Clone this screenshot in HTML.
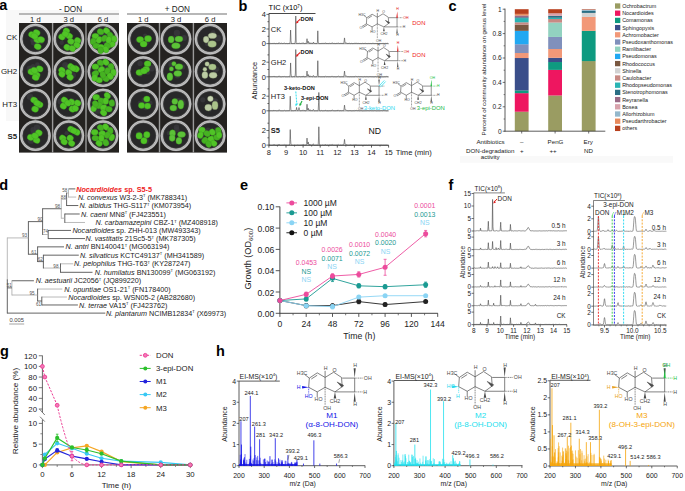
<!DOCTYPE html>
<html><head><meta charset="utf-8"><style>
html,body{margin:0;padding:0;background:#fff;width:685px;height:491px;overflow:hidden}
svg{display:block;font-family:"Liberation Sans", sans-serif}
</style></head><body>
<svg width="685" height="491" viewBox="0 0 685 491">
<rect x="6" y="10" width="113" height="111" fill="#f8f8f8"/>
<text x="-0.8" y="9.7" font-size="14.5" font-weight="bold" fill="#000">a</text>
<rect x="19" y="13.1" width="100" height="1.8" fill="#b0b0b0"/>
<rect x="127" y="13.1" width="100" height="1.8" fill="#b0b0b0"/>
<text x="70.50" y="11.65" font-size="8.2" text-anchor="middle" fill="#222">- DON</text>
<text x="177.30" y="11.65" font-size="8.2" text-anchor="middle" fill="#222">+ DON</text>
<text x="17.20" y="40.34" font-size="7.9" text-anchor="end" fill="#222">CK</text>
<text x="17.20" y="73.84" font-size="7.9" text-anchor="end" fill="#222">GH2</text>
<text x="17.20" y="107.04" font-size="7.9" text-anchor="end" fill="#222">HT3</text>
<text x="17.20" y="138.74" font-size="7.9" text-anchor="end" fill="#222" font-weight="bold">S5</text>
<text x="35.40" y="22.14" font-size="7.6" text-anchor="middle" fill="#222">1 d</text>
<text x="68.80" y="22.14" font-size="7.6" text-anchor="middle" fill="#222">3 d</text>
<text x="103.00" y="22.14" font-size="7.6" text-anchor="middle" fill="#222">6 d</text>
<rect x="19" y="23" width="100" height="129.6" fill="#242220"/>
<rect x="51.9" y="23" width="1.4" height="129.6" fill="#9a9a9a"/>
<rect x="85.3" y="23" width="1.4" height="129.6" fill="#9a9a9a"/>
<circle cx="35.4" cy="39.1" r="15.6" fill="#5a5a5a"/>
<circle cx="35.4" cy="39.1" r="13.95" fill="none" stroke="#a8a8a8" stroke-width="2.7"/>
<circle cx="35.4" cy="39.1" r="14.8" fill="none" stroke="#d0d0d0" stroke-width="0.7"/>
<circle cx="35.4" cy="39.1" r="13.4" fill="none" stroke="#cacaca" stroke-width="0.6"/>
<circle cx="35.4" cy="39.1" r="12.6" fill="#282829" stroke="#444" stroke-width="0.5"/>
<circle cx="33.7" cy="42.6" r="3.0" fill="#3a3a3e" opacity="0.7"/>
<circle cx="41.0" cy="41.8" r="2.5" fill="#3a3a3e" opacity="0.7"/>
<circle cx="41.0" cy="41.3" r="2.1" fill="#3a3a3e" opacity="0.7"/>
<circle cx="32.3" cy="40.5" r="2.1" fill="#3a3a3e" opacity="0.7"/>
<ellipse cx="32.1" cy="34.7" rx="3.6" ry="3.0" transform="rotate(20 32.1 34.7)" fill="#50c426" stroke="#3a9a1e" stroke-width="0.35"/>
<ellipse cx="36.6" cy="32.7" rx="3.6" ry="3.0" transform="rotate(20 36.6 32.7)" fill="#50c426" stroke="#3a9a1e" stroke-width="0.35"/>
<ellipse cx="37.4" cy="39.9" rx="3.6" ry="3.0" transform="rotate(20 37.4 39.9)" fill="#50c426" stroke="#3a9a1e" stroke-width="0.35"/>
<ellipse cx="41.1" cy="39.6" rx="3.6" ry="3.0" transform="rotate(20 41.1 39.6)" fill="#50c426" stroke="#3a9a1e" stroke-width="0.35"/>
<ellipse cx="37.7" cy="46.6" rx="3.6" ry="3.0" transform="rotate(20 37.7 46.6)" fill="#50c426" stroke="#3a9a1e" stroke-width="0.35"/>
<ellipse cx="34.4" cy="36.1" rx="3.6" ry="3.0" transform="rotate(20 34.4 36.1)" fill="#50c426" stroke="#3a9a1e" stroke-width="0.35"/>
<circle cx="68.8" cy="39.1" r="15.6" fill="#5a5a5a"/>
<circle cx="68.8" cy="39.1" r="13.95" fill="none" stroke="#a8a8a8" stroke-width="2.7"/>
<circle cx="68.8" cy="39.1" r="14.8" fill="none" stroke="#d0d0d0" stroke-width="0.7"/>
<circle cx="68.8" cy="39.1" r="13.4" fill="none" stroke="#cacaca" stroke-width="0.6"/>
<circle cx="68.8" cy="39.1" r="12.6" fill="#282829" stroke="#444" stroke-width="0.5"/>
<circle cx="61.7" cy="42.7" r="2.2" fill="#3a3a3e" opacity="0.7"/>
<circle cx="69.9" cy="45.8" r="3.4" fill="#3a3a3e" opacity="0.7"/>
<circle cx="64.0" cy="36.6" r="3.5" fill="#3a3a3e" opacity="0.7"/>
<circle cx="76.6" cy="41.5" r="2.4" fill="#3a3a3e" opacity="0.7"/>
<ellipse cx="66.4" cy="30.9" rx="3.4" ry="3.0" transform="rotate(30 66.4 30.9)" fill="#50c426" stroke="#3a9a1e" stroke-width="0.35"/>
<ellipse cx="61.9" cy="36.9" rx="3.4" ry="3.0" transform="rotate(30 61.9 36.9)" fill="#50c426" stroke="#3a9a1e" stroke-width="0.35"/>
<ellipse cx="69.4" cy="36.1" rx="3.4" ry="3.0" transform="rotate(30 69.4 36.1)" fill="#50c426" stroke="#3a9a1e" stroke-width="0.35"/>
<ellipse cx="70.9" cy="41.4" rx="3.4" ry="3.0" transform="rotate(30 70.9 41.4)" fill="#50c426" stroke="#3a9a1e" stroke-width="0.35"/>
<ellipse cx="77.6" cy="40.6" rx="3.4" ry="3.0" transform="rotate(30 77.6 40.6)" fill="#50c426" stroke="#3a9a1e" stroke-width="0.35"/>
<ellipse cx="76.8" cy="45.1" rx="3.4" ry="3.0" transform="rotate(30 76.8 45.1)" fill="#50c426" stroke="#3a9a1e" stroke-width="0.35"/>
<ellipse cx="67.1" cy="47.3" rx="3.4" ry="3.0" transform="rotate(30 67.1 47.3)" fill="#50c426" stroke="#3a9a1e" stroke-width="0.35"/>
<ellipse cx="72.3" cy="48.5" rx="3.4" ry="3.0" transform="rotate(30 72.3 48.5)" fill="#50c426" stroke="#3a9a1e" stroke-width="0.35"/>
<ellipse cx="65.3" cy="33.9" rx="3.4" ry="3.0" transform="rotate(30 65.3 33.9)" fill="#50c426" stroke="#3a9a1e" stroke-width="0.35"/>
<circle cx="103.0" cy="39.1" r="15.6" fill="#5a5a5a"/>
<circle cx="103.0" cy="39.1" r="13.95" fill="none" stroke="#a8a8a8" stroke-width="2.7"/>
<circle cx="103.0" cy="39.1" r="14.8" fill="none" stroke="#d0d0d0" stroke-width="0.7"/>
<circle cx="103.0" cy="39.1" r="13.4" fill="none" stroke="#cacaca" stroke-width="0.6"/>
<circle cx="103.0" cy="39.1" r="12.6" fill="#282829" stroke="#444" stroke-width="0.5"/>
<circle cx="105.3" cy="42.0" r="2.5" fill="#3a3a3e" opacity="0.7"/>
<circle cx="104.6" cy="35.4" r="2.9" fill="#3a3a3e" opacity="0.7"/>
<circle cx="99.6" cy="35.1" r="2.8" fill="#3a3a3e" opacity="0.7"/>
<circle cx="106.1" cy="40.4" r="2.3" fill="#3a3a3e" opacity="0.7"/>
<ellipse cx="95.4" cy="36.1" rx="3.5" ry="2.9" transform="rotate(0 95.4 36.1)" fill="#50c426" stroke="#3a9a1e" stroke-width="0.35"/>
<ellipse cx="100.6" cy="31.7" rx="3.5" ry="2.9" transform="rotate(20 100.6 31.7)" fill="#46b222" stroke="#3a9a1e" stroke-width="0.35"/>
<ellipse cx="106.6" cy="30.9" rx="3.5" ry="2.9" transform="rotate(40 106.6 30.9)" fill="#50c426" stroke="#3a9a1e" stroke-width="0.35"/>
<ellipse cx="110.3" cy="35.4" rx="3.5" ry="2.9" transform="rotate(60 110.3 35.4)" fill="#46b222" stroke="#3a9a1e" stroke-width="0.35"/>
<ellipse cx="114.0" cy="39.1" rx="3.5" ry="2.9" transform="rotate(80 114.0 39.1)" fill="#50c426" stroke="#3a9a1e" stroke-width="0.35"/>
<ellipse cx="93.2" cy="41.4" rx="3.5" ry="2.9" transform="rotate(100 93.2 41.4)" fill="#46b222" stroke="#3a9a1e" stroke-width="0.35"/>
<ellipse cx="99.1" cy="39.9" rx="3.5" ry="2.9" transform="rotate(120 99.1 39.9)" fill="#50c426" stroke="#3a9a1e" stroke-width="0.35"/>
<ellipse cx="104.4" cy="38.4" rx="3.5" ry="2.9" transform="rotate(140 104.4 38.4)" fill="#46b222" stroke="#3a9a1e" stroke-width="0.35"/>
<ellipse cx="111.8" cy="44.3" rx="3.5" ry="2.9" transform="rotate(160 111.8 44.3)" fill="#50c426" stroke="#3a9a1e" stroke-width="0.35"/>
<ellipse cx="96.2" cy="45.8" rx="3.5" ry="2.9" transform="rotate(180 96.2 45.8)" fill="#46b222" stroke="#3a9a1e" stroke-width="0.35"/>
<ellipse cx="101.4" cy="47.3" rx="3.5" ry="2.9" transform="rotate(200 101.4 47.3)" fill="#50c426" stroke="#3a9a1e" stroke-width="0.35"/>
<ellipse cx="107.3" cy="45.8" rx="3.5" ry="2.9" transform="rotate(220 107.3 45.8)" fill="#46b222" stroke="#3a9a1e" stroke-width="0.35"/>
<ellipse cx="105.8" cy="49.5" rx="3.5" ry="2.9" transform="rotate(240 105.8 49.5)" fill="#50c426" stroke="#3a9a1e" stroke-width="0.35"/>
<ellipse cx="100.6" cy="50.3" rx="3.5" ry="2.9" transform="rotate(260 100.6 50.3)" fill="#46b222" stroke="#3a9a1e" stroke-width="0.35"/>
<ellipse cx="108.8" cy="39.9" rx="3.5" ry="2.9" transform="rotate(280 108.8 39.9)" fill="#50c426" stroke="#3a9a1e" stroke-width="0.35"/>
<circle cx="35.4" cy="71.6" r="15.6" fill="#5a5a5a"/>
<circle cx="35.4" cy="71.6" r="13.95" fill="none" stroke="#a8a8a8" stroke-width="2.7"/>
<circle cx="35.4" cy="71.6" r="14.8" fill="none" stroke="#d0d0d0" stroke-width="0.7"/>
<circle cx="35.4" cy="71.6" r="13.4" fill="none" stroke="#cacaca" stroke-width="0.6"/>
<circle cx="35.4" cy="71.6" r="12.6" fill="#282829" stroke="#444" stroke-width="0.5"/>
<circle cx="33.0" cy="66.6" r="2.5" fill="#3a3a3e" opacity="0.7"/>
<circle cx="30.5" cy="68.7" r="2.4" fill="#3a3a3e" opacity="0.7"/>
<circle cx="37.4" cy="64.7" r="2.4" fill="#3a3a3e" opacity="0.7"/>
<circle cx="29.9" cy="68.8" r="3.3" fill="#3a3a3e" opacity="0.7"/>
<ellipse cx="31.4" cy="71.9" rx="3.6" ry="3.0" transform="rotate(20 31.4 71.9)" fill="#50c426" stroke="#3a9a1e" stroke-width="0.35"/>
<ellipse cx="39.6" cy="68.9" rx="3.6" ry="3.0" transform="rotate(20 39.6 68.9)" fill="#50c426" stroke="#3a9a1e" stroke-width="0.35"/>
<ellipse cx="36.6" cy="74.9" rx="3.6" ry="3.0" transform="rotate(20 36.6 74.9)" fill="#50c426" stroke="#3a9a1e" stroke-width="0.35"/>
<ellipse cx="35.6" cy="77.4" rx="3.6" ry="3.0" transform="rotate(20 35.6 77.4)" fill="#50c426" stroke="#3a9a1e" stroke-width="0.35"/>
<ellipse cx="34.4" cy="70.4" rx="3.6" ry="3.0" transform="rotate(20 34.4 70.4)" fill="#50c426" stroke="#3a9a1e" stroke-width="0.35"/>
<circle cx="68.8" cy="71.6" r="15.6" fill="#5a5a5a"/>
<circle cx="68.8" cy="71.6" r="13.95" fill="none" stroke="#a8a8a8" stroke-width="2.7"/>
<circle cx="68.8" cy="71.6" r="14.8" fill="none" stroke="#d0d0d0" stroke-width="0.7"/>
<circle cx="68.8" cy="71.6" r="13.4" fill="none" stroke="#cacaca" stroke-width="0.6"/>
<circle cx="68.8" cy="71.6" r="12.6" fill="#282829" stroke="#444" stroke-width="0.5"/>
<circle cx="68.2" cy="66.9" r="3.5" fill="#3a3a3e" opacity="0.7"/>
<circle cx="72.9" cy="75.3" r="3.1" fill="#3a3a3e" opacity="0.7"/>
<circle cx="72.2" cy="76.4" r="2.1" fill="#3a3a3e" opacity="0.7"/>
<circle cx="65.1" cy="65.0" r="2.9" fill="#3a3a3e" opacity="0.7"/>
<ellipse cx="61.9" cy="70.4" rx="3.4" ry="3.0" transform="rotate(40 61.9 70.4)" fill="#50c426" stroke="#3a9a1e" stroke-width="0.35"/>
<ellipse cx="61.9" cy="74.1" rx="3.4" ry="3.0" transform="rotate(40 61.9 74.1)" fill="#50c426" stroke="#3a9a1e" stroke-width="0.35"/>
<ellipse cx="70.9" cy="66.7" rx="3.4" ry="3.0" transform="rotate(40 70.9 66.7)" fill="#50c426" stroke="#3a9a1e" stroke-width="0.35"/>
<ellipse cx="76.1" cy="68.9" rx="3.4" ry="3.0" transform="rotate(40 76.1 68.9)" fill="#50c426" stroke="#3a9a1e" stroke-width="0.35"/>
<ellipse cx="68.6" cy="72.6" rx="3.4" ry="3.0" transform="rotate(40 68.6 72.6)" fill="#50c426" stroke="#3a9a1e" stroke-width="0.35"/>
<ellipse cx="70.1" cy="77.1" rx="3.4" ry="3.0" transform="rotate(40 70.1 77.1)" fill="#50c426" stroke="#3a9a1e" stroke-width="0.35"/>
<ellipse cx="73.1" cy="68.2" rx="3.4" ry="3.0" transform="rotate(40 73.1 68.2)" fill="#50c426" stroke="#3a9a1e" stroke-width="0.35"/>
<circle cx="103.0" cy="71.6" r="15.6" fill="#5a5a5a"/>
<circle cx="103.0" cy="71.6" r="13.95" fill="none" stroke="#a8a8a8" stroke-width="2.7"/>
<circle cx="103.0" cy="71.6" r="14.8" fill="none" stroke="#d0d0d0" stroke-width="0.7"/>
<circle cx="103.0" cy="71.6" r="13.4" fill="none" stroke="#cacaca" stroke-width="0.6"/>
<circle cx="103.0" cy="71.6" r="12.6" fill="#282829" stroke="#444" stroke-width="0.5"/>
<circle cx="106.5" cy="68.2" r="3.0" fill="#3a3a3e" opacity="0.7"/>
<circle cx="97.6" cy="68.0" r="2.7" fill="#3a3a3e" opacity="0.7"/>
<circle cx="107.6" cy="64.3" r="2.7" fill="#3a3a3e" opacity="0.7"/>
<circle cx="101.3" cy="68.7" r="3.1" fill="#3a3a3e" opacity="0.7"/>
<ellipse cx="95.4" cy="66.7" rx="3.5" ry="2.9" transform="rotate(0 95.4 66.7)" fill="#50c426" stroke="#3a9a1e" stroke-width="0.35"/>
<ellipse cx="100.6" cy="62.9" rx="3.5" ry="2.9" transform="rotate(23 100.6 62.9)" fill="#46b222" stroke="#3a9a1e" stroke-width="0.35"/>
<ellipse cx="105.8" cy="62.2" rx="3.5" ry="2.9" transform="rotate(46 105.8 62.2)" fill="#50c426" stroke="#3a9a1e" stroke-width="0.35"/>
<ellipse cx="111.1" cy="66.7" rx="3.5" ry="2.9" transform="rotate(69 111.1 66.7)" fill="#46b222" stroke="#3a9a1e" stroke-width="0.35"/>
<ellipse cx="113.3" cy="72.6" rx="3.5" ry="2.9" transform="rotate(92 113.3 72.6)" fill="#50c426" stroke="#3a9a1e" stroke-width="0.35"/>
<ellipse cx="107.3" cy="71.1" rx="3.5" ry="2.9" transform="rotate(115 107.3 71.1)" fill="#46b222" stroke="#3a9a1e" stroke-width="0.35"/>
<ellipse cx="101.4" cy="69.6" rx="3.5" ry="2.9" transform="rotate(138 101.4 69.6)" fill="#50c426" stroke="#3a9a1e" stroke-width="0.35"/>
<ellipse cx="95.4" cy="73.4" rx="3.5" ry="2.9" transform="rotate(161 95.4 73.4)" fill="#46b222" stroke="#3a9a1e" stroke-width="0.35"/>
<ellipse cx="99.1" cy="80.1" rx="3.5" ry="2.9" transform="rotate(184 99.1 80.1)" fill="#50c426" stroke="#3a9a1e" stroke-width="0.35"/>
<ellipse cx="105.8" cy="78.6" rx="3.5" ry="2.9" transform="rotate(207 105.8 78.6)" fill="#46b222" stroke="#3a9a1e" stroke-width="0.35"/>
<ellipse cx="110.3" cy="76.3" rx="3.5" ry="2.9" transform="rotate(230 110.3 76.3)" fill="#50c426" stroke="#3a9a1e" stroke-width="0.35"/>
<ellipse cx="102.9" cy="74.9" rx="3.5" ry="2.9" transform="rotate(253 102.9 74.9)" fill="#46b222" stroke="#3a9a1e" stroke-width="0.35"/>
<ellipse cx="94.7" cy="77.8" rx="3.5" ry="2.9" transform="rotate(276 94.7 77.8)" fill="#50c426" stroke="#3a9a1e" stroke-width="0.35"/>
<circle cx="35.4" cy="104.0" r="15.6" fill="#5a5a5a"/>
<circle cx="35.4" cy="104.0" r="13.95" fill="none" stroke="#a8a8a8" stroke-width="2.7"/>
<circle cx="35.4" cy="104.0" r="14.8" fill="none" stroke="#d0d0d0" stroke-width="0.7"/>
<circle cx="35.4" cy="104.0" r="13.4" fill="none" stroke="#cacaca" stroke-width="0.6"/>
<circle cx="35.4" cy="104.0" r="12.6" fill="#282829" stroke="#444" stroke-width="0.5"/>
<circle cx="30.0" cy="96.8" r="3.2" fill="#3a3a3e" opacity="0.7"/>
<circle cx="34.3" cy="109.2" r="3.0" fill="#3a3a3e" opacity="0.7"/>
<circle cx="41.1" cy="104.8" r="2.3" fill="#3a3a3e" opacity="0.7"/>
<circle cx="37.9" cy="106.3" r="3.2" fill="#3a3a3e" opacity="0.7"/>
<ellipse cx="34.1" cy="100.1" rx="3.5" ry="3.0" transform="rotate(20 34.1 100.1)" fill="#50c426" stroke="#3a9a1e" stroke-width="0.35"/>
<ellipse cx="39.6" cy="104.6" rx="3.5" ry="3.0" transform="rotate(20 39.6 104.6)" fill="#50c426" stroke="#3a9a1e" stroke-width="0.35"/>
<ellipse cx="35.1" cy="109.1" rx="3.5" ry="3.0" transform="rotate(20 35.1 109.1)" fill="#50c426" stroke="#3a9a1e" stroke-width="0.35"/>
<ellipse cx="37.1" cy="103.1" rx="3.5" ry="3.0" transform="rotate(20 37.1 103.1)" fill="#50c426" stroke="#3a9a1e" stroke-width="0.35"/>
<circle cx="68.8" cy="104.0" r="15.6" fill="#5a5a5a"/>
<circle cx="68.8" cy="104.0" r="13.95" fill="none" stroke="#a8a8a8" stroke-width="2.7"/>
<circle cx="68.8" cy="104.0" r="14.8" fill="none" stroke="#d0d0d0" stroke-width="0.7"/>
<circle cx="68.8" cy="104.0" r="13.4" fill="none" stroke="#cacaca" stroke-width="0.6"/>
<circle cx="68.8" cy="104.0" r="12.6" fill="#282829" stroke="#444" stroke-width="0.5"/>
<circle cx="71.9" cy="107.3" r="2.6" fill="#3a3a3e" opacity="0.7"/>
<circle cx="71.2" cy="101.5" r="2.7" fill="#3a3a3e" opacity="0.7"/>
<circle cx="60.9" cy="101.5" r="3.2" fill="#3a3a3e" opacity="0.7"/>
<circle cx="71.9" cy="100.5" r="2.6" fill="#3a3a3e" opacity="0.7"/>
<ellipse cx="64.5" cy="100.1" rx="3.4" ry="3.0" transform="rotate(30 64.5 100.1)" fill="#50c426" stroke="#3a9a1e" stroke-width="0.35"/>
<ellipse cx="63.4" cy="106.1" rx="3.4" ry="3.0" transform="rotate(30 63.4 106.1)" fill="#50c426" stroke="#3a9a1e" stroke-width="0.35"/>
<ellipse cx="71.6" cy="102.1" rx="3.4" ry="3.0" transform="rotate(30 71.6 102.1)" fill="#50c426" stroke="#3a9a1e" stroke-width="0.35"/>
<ellipse cx="77.6" cy="103.1" rx="3.4" ry="3.0" transform="rotate(30 77.6 103.1)" fill="#50c426" stroke="#3a9a1e" stroke-width="0.35"/>
<ellipse cx="72.3" cy="109.1" rx="3.4" ry="3.0" transform="rotate(30 72.3 109.1)" fill="#50c426" stroke="#3a9a1e" stroke-width="0.35"/>
<ellipse cx="75.3" cy="108.3" rx="3.4" ry="3.0" transform="rotate(30 75.3 108.3)" fill="#50c426" stroke="#3a9a1e" stroke-width="0.35"/>
<ellipse cx="67.9" cy="103.1" rx="3.4" ry="3.0" transform="rotate(30 67.9 103.1)" fill="#50c426" stroke="#3a9a1e" stroke-width="0.35"/>
<circle cx="103.0" cy="104.0" r="15.6" fill="#5a5a5a"/>
<circle cx="103.0" cy="104.0" r="13.95" fill="none" stroke="#a8a8a8" stroke-width="2.7"/>
<circle cx="103.0" cy="104.0" r="14.8" fill="none" stroke="#d0d0d0" stroke-width="0.7"/>
<circle cx="103.0" cy="104.0" r="13.4" fill="none" stroke="#cacaca" stroke-width="0.6"/>
<circle cx="103.0" cy="104.0" r="12.6" fill="#282829" stroke="#444" stroke-width="0.5"/>
<circle cx="97.8" cy="110.4" r="3.4" fill="#3a3a3e" opacity="0.7"/>
<circle cx="105.4" cy="107.3" r="2.3" fill="#3a3a3e" opacity="0.7"/>
<circle cx="103.6" cy="109.9" r="2.9" fill="#3a3a3e" opacity="0.7"/>
<circle cx="102.8" cy="107.0" r="2.6" fill="#3a3a3e" opacity="0.7"/>
<ellipse cx="96.2" cy="97.2" rx="3.5" ry="2.9" transform="rotate(0 96.2 97.2)" fill="#50c426" stroke="#3a9a1e" stroke-width="0.35"/>
<ellipse cx="101.4" cy="100.9" rx="3.5" ry="2.9" transform="rotate(27 101.4 100.9)" fill="#46b222" stroke="#3a9a1e" stroke-width="0.35"/>
<ellipse cx="107.3" cy="95.7" rx="3.5" ry="2.9" transform="rotate(54 107.3 95.7)" fill="#50c426" stroke="#3a9a1e" stroke-width="0.35"/>
<ellipse cx="111.8" cy="103.1" rx="3.5" ry="2.9" transform="rotate(81 111.8 103.1)" fill="#46b222" stroke="#3a9a1e" stroke-width="0.35"/>
<ellipse cx="93.9" cy="108.3" rx="3.5" ry="2.9" transform="rotate(108 93.9 108.3)" fill="#50c426" stroke="#3a9a1e" stroke-width="0.35"/>
<ellipse cx="99.1" cy="105.4" rx="3.5" ry="2.9" transform="rotate(135 99.1 105.4)" fill="#46b222" stroke="#3a9a1e" stroke-width="0.35"/>
<ellipse cx="103.6" cy="107.6" rx="3.5" ry="2.9" transform="rotate(162 103.6 107.6)" fill="#50c426" stroke="#3a9a1e" stroke-width="0.35"/>
<ellipse cx="108.8" cy="109.1" rx="3.5" ry="2.9" transform="rotate(189 108.8 109.1)" fill="#46b222" stroke="#3a9a1e" stroke-width="0.35"/>
<ellipse cx="103.6" cy="112.8" rx="3.5" ry="2.9" transform="rotate(216 103.6 112.8)" fill="#50c426" stroke="#3a9a1e" stroke-width="0.35"/>
<ellipse cx="95.4" cy="103.9" rx="3.5" ry="2.9" transform="rotate(243 95.4 103.9)" fill="#46b222" stroke="#3a9a1e" stroke-width="0.35"/>
<ellipse cx="105.8" cy="100.9" rx="3.5" ry="2.9" transform="rotate(270 105.8 100.9)" fill="#50c426" stroke="#3a9a1e" stroke-width="0.35"/>
<circle cx="35.4" cy="135.7" r="15.6" fill="#5a5a5a"/>
<circle cx="35.4" cy="135.7" r="13.95" fill="none" stroke="#a8a8a8" stroke-width="2.7"/>
<circle cx="35.4" cy="135.7" r="14.8" fill="none" stroke="#d0d0d0" stroke-width="0.7"/>
<circle cx="35.4" cy="135.7" r="13.4" fill="none" stroke="#cacaca" stroke-width="0.6"/>
<circle cx="35.4" cy="135.7" r="12.6" fill="#282829" stroke="#444" stroke-width="0.5"/>
<circle cx="31.0" cy="140.4" r="3.4" fill="#3a3a3e" opacity="0.7"/>
<circle cx="33.2" cy="130.0" r="2.9" fill="#3a3a3e" opacity="0.7"/>
<circle cx="33.9" cy="132.7" r="3.3" fill="#3a3a3e" opacity="0.7"/>
<circle cx="36.9" cy="127.6" r="3.2" fill="#3a3a3e" opacity="0.7"/>
<ellipse cx="30.7" cy="137.4" rx="3.5" ry="3.0" transform="rotate(20 30.7 137.4)" fill="#50c426" stroke="#3a9a1e" stroke-width="0.35"/>
<ellipse cx="38.8" cy="132.9" rx="3.5" ry="3.0" transform="rotate(20 38.8 132.9)" fill="#50c426" stroke="#3a9a1e" stroke-width="0.35"/>
<ellipse cx="36.6" cy="140.3" rx="3.5" ry="3.0" transform="rotate(20 36.6 140.3)" fill="#50c426" stroke="#3a9a1e" stroke-width="0.35"/>
<ellipse cx="35.1" cy="135.9" rx="3.5" ry="3.0" transform="rotate(20 35.1 135.9)" fill="#50c426" stroke="#3a9a1e" stroke-width="0.35"/>
<circle cx="68.8" cy="135.7" r="15.6" fill="#5a5a5a"/>
<circle cx="68.8" cy="135.7" r="13.95" fill="none" stroke="#a8a8a8" stroke-width="2.7"/>
<circle cx="68.8" cy="135.7" r="14.8" fill="none" stroke="#d0d0d0" stroke-width="0.7"/>
<circle cx="68.8" cy="135.7" r="13.4" fill="none" stroke="#cacaca" stroke-width="0.6"/>
<circle cx="68.8" cy="135.7" r="12.6" fill="#282829" stroke="#444" stroke-width="0.5"/>
<circle cx="64.6" cy="139.1" r="2.2" fill="#3a3a3e" opacity="0.7"/>
<circle cx="66.6" cy="133.2" r="2.1" fill="#3a3a3e" opacity="0.7"/>
<circle cx="69.8" cy="139.5" r="2.5" fill="#3a3a3e" opacity="0.7"/>
<circle cx="71.6" cy="136.7" r="2.2" fill="#3a3a3e" opacity="0.7"/>
<ellipse cx="62.7" cy="138.1" rx="3.4" ry="3.0" transform="rotate(30 62.7 138.1)" fill="#50c426" stroke="#3a9a1e" stroke-width="0.35"/>
<ellipse cx="64.2" cy="141.8" rx="3.4" ry="3.0" transform="rotate(30 64.2 141.8)" fill="#50c426" stroke="#3a9a1e" stroke-width="0.35"/>
<ellipse cx="70.9" cy="129.2" rx="3.4" ry="3.0" transform="rotate(30 70.9 129.2)" fill="#50c426" stroke="#3a9a1e" stroke-width="0.35"/>
<ellipse cx="76.8" cy="132.2" rx="3.4" ry="3.0" transform="rotate(30 76.8 132.2)" fill="#50c426" stroke="#3a9a1e" stroke-width="0.35"/>
<ellipse cx="70.1" cy="138.1" rx="3.4" ry="3.0" transform="rotate(30 70.1 138.1)" fill="#50c426" stroke="#3a9a1e" stroke-width="0.35"/>
<ellipse cx="71.6" cy="143.3" rx="3.4" ry="3.0" transform="rotate(30 71.6 143.3)" fill="#50c426" stroke="#3a9a1e" stroke-width="0.35"/>
<ellipse cx="73.8" cy="130.7" rx="3.4" ry="3.0" transform="rotate(30 73.8 130.7)" fill="#50c426" stroke="#3a9a1e" stroke-width="0.35"/>
<circle cx="103.0" cy="135.7" r="15.6" fill="#5a5a5a"/>
<circle cx="103.0" cy="135.7" r="13.95" fill="none" stroke="#a8a8a8" stroke-width="2.7"/>
<circle cx="103.0" cy="135.7" r="14.8" fill="none" stroke="#d0d0d0" stroke-width="0.7"/>
<circle cx="103.0" cy="135.7" r="13.4" fill="none" stroke="#cacaca" stroke-width="0.6"/>
<circle cx="103.0" cy="135.7" r="12.6" fill="#282829" stroke="#444" stroke-width="0.5"/>
<circle cx="107.2" cy="138.8" r="2.0" fill="#3a3a3e" opacity="0.7"/>
<circle cx="107.7" cy="131.0" r="2.2" fill="#3a3a3e" opacity="0.7"/>
<circle cx="102.9" cy="140.8" r="2.5" fill="#3a3a3e" opacity="0.7"/>
<circle cx="108.8" cy="141.3" r="3.5" fill="#3a3a3e" opacity="0.7"/>
<ellipse cx="94.7" cy="132.2" rx="3.5" ry="2.9" transform="rotate(0 94.7 132.2)" fill="#50c426" stroke="#3a9a1e" stroke-width="0.35"/>
<ellipse cx="100.6" cy="127.7" rx="3.5" ry="2.9" transform="rotate(27 100.6 127.7)" fill="#46b222" stroke="#3a9a1e" stroke-width="0.35"/>
<ellipse cx="105.8" cy="126.9" rx="3.5" ry="2.9" transform="rotate(54 105.8 126.9)" fill="#50c426" stroke="#3a9a1e" stroke-width="0.35"/>
<ellipse cx="110.3" cy="130.7" rx="3.5" ry="2.9" transform="rotate(81 110.3 130.7)" fill="#46b222" stroke="#3a9a1e" stroke-width="0.35"/>
<ellipse cx="111.8" cy="137.4" rx="3.5" ry="2.9" transform="rotate(108 111.8 137.4)" fill="#50c426" stroke="#3a9a1e" stroke-width="0.35"/>
<ellipse cx="107.3" cy="135.1" rx="3.5" ry="2.9" transform="rotate(135 107.3 135.1)" fill="#46b222" stroke="#3a9a1e" stroke-width="0.35"/>
<ellipse cx="102.1" cy="133.6" rx="3.5" ry="2.9" transform="rotate(162 102.1 133.6)" fill="#50c426" stroke="#3a9a1e" stroke-width="0.35"/>
<ellipse cx="95.4" cy="138.1" rx="3.5" ry="2.9" transform="rotate(189 95.4 138.1)" fill="#46b222" stroke="#3a9a1e" stroke-width="0.35"/>
<ellipse cx="99.1" cy="143.3" rx="3.5" ry="2.9" transform="rotate(216 99.1 143.3)" fill="#50c426" stroke="#3a9a1e" stroke-width="0.35"/>
<ellipse cx="105.8" cy="142.6" rx="3.5" ry="2.9" transform="rotate(243 105.8 142.6)" fill="#46b222" stroke="#3a9a1e" stroke-width="0.35"/>
<ellipse cx="101.4" cy="138.1" rx="3.5" ry="2.9" transform="rotate(270 101.4 138.1)" fill="#50c426" stroke="#3a9a1e" stroke-width="0.35"/>
<text x="143.20" y="22.14" font-size="7.6" text-anchor="middle" fill="#222">1 d</text>
<text x="176.00" y="22.14" font-size="7.6" text-anchor="middle" fill="#222">3 d</text>
<text x="210.10" y="22.14" font-size="7.6" text-anchor="middle" fill="#222">6 d</text>
<rect x="127" y="23" width="100" height="129.6" fill="#242220"/>
<rect x="158.8" y="23" width="1.4" height="129.6" fill="#9a9a9a"/>
<rect x="192.70000000000002" y="23" width="1.4" height="129.6" fill="#9a9a9a"/>
<circle cx="143.2" cy="39.1" r="15.6" fill="#5a5a5a"/>
<circle cx="143.2" cy="39.1" r="13.95" fill="none" stroke="#a8a8a8" stroke-width="2.7"/>
<circle cx="143.2" cy="39.1" r="14.8" fill="none" stroke="#d0d0d0" stroke-width="0.7"/>
<circle cx="143.2" cy="39.1" r="13.4" fill="none" stroke="#cacaca" stroke-width="0.6"/>
<circle cx="143.2" cy="39.1" r="12.6" fill="#282829" stroke="#444" stroke-width="0.5"/>
<circle cx="137.4" cy="40.4" r="2.1" fill="#3a3a3e" opacity="0.7"/>
<circle cx="147.2" cy="42.1" r="2.4" fill="#3a3a3e" opacity="0.7"/>
<circle cx="145.1" cy="35.6" r="2.0" fill="#3a3a3e" opacity="0.7"/>
<circle cx="149.1" cy="37.2" r="2.2" fill="#3a3a3e" opacity="0.7"/>
<ellipse cx="140.1" cy="39.6" rx="3.6" ry="3.1" transform="rotate(0 140.1 39.6)" fill="#50c426" stroke="#3a9a1e" stroke-width="0.35"/>
<ellipse cx="148.0" cy="38.7" rx="3.6" ry="3.1" transform="rotate(0 148.0 38.7)" fill="#50c426" stroke="#3a9a1e" stroke-width="0.35"/>
<ellipse cx="143.6" cy="44.0" rx="3.6" ry="3.1" transform="rotate(0 143.6 44.0)" fill="#50c426" stroke="#3a9a1e" stroke-width="0.35"/>
<circle cx="176.0" cy="39.1" r="15.6" fill="#5a5a5a"/>
<circle cx="176.0" cy="39.1" r="13.95" fill="none" stroke="#a8a8a8" stroke-width="2.7"/>
<circle cx="176.0" cy="39.1" r="14.8" fill="none" stroke="#d0d0d0" stroke-width="0.7"/>
<circle cx="176.0" cy="39.1" r="13.4" fill="none" stroke="#cacaca" stroke-width="0.6"/>
<circle cx="176.0" cy="39.1" r="12.6" fill="#282829" stroke="#444" stroke-width="0.5"/>
<circle cx="173.0" cy="38.3" r="2.8" fill="#3a3a3e" opacity="0.7"/>
<circle cx="184.1" cy="38.0" r="3.0" fill="#3a3a3e" opacity="0.7"/>
<circle cx="175.6" cy="44.3" r="2.3" fill="#3a3a3e" opacity="0.7"/>
<circle cx="176.9" cy="33.0" r="3.2" fill="#3a3a3e" opacity="0.7"/>
<ellipse cx="171.1" cy="39.6" rx="3.0" ry="3.5" transform="rotate(0 171.1 39.6)" fill="#5cc238" stroke="#3a9a1e" stroke-width="0.35"/>
<ellipse cx="178.9" cy="39.1" rx="4.0" ry="3.0" transform="rotate(0 178.9 39.1)" fill="#5cc238" stroke="#3a9a1e" stroke-width="0.35"/>
<ellipse cx="175.9" cy="45.8" rx="4.3" ry="3.0" transform="rotate(0 175.9 45.8)" fill="#5cc238" stroke="#3a9a1e" stroke-width="0.35"/>
<circle cx="210.1" cy="39.1" r="15.6" fill="#5a5a5a"/>
<circle cx="210.1" cy="39.1" r="13.95" fill="none" stroke="#a8a8a8" stroke-width="2.7"/>
<circle cx="210.1" cy="39.1" r="14.8" fill="none" stroke="#d0d0d0" stroke-width="0.7"/>
<circle cx="210.1" cy="39.1" r="13.4" fill="none" stroke="#cacaca" stroke-width="0.6"/>
<circle cx="210.1" cy="39.1" r="12.6" fill="#282829" stroke="#444" stroke-width="0.5"/>
<circle cx="208.0" cy="42.9" r="3.2" fill="#3a3a3e" opacity="0.7"/>
<circle cx="218.2" cy="38.3" r="3.2" fill="#3a3a3e" opacity="0.7"/>
<circle cx="213.2" cy="32.3" r="2.3" fill="#3a3a3e" opacity="0.7"/>
<circle cx="205.0" cy="38.5" r="2.0" fill="#3a3a3e" opacity="0.7"/>
<ellipse cx="206.1" cy="39.6" rx="2.8" ry="3.3" transform="rotate(0 206.1 39.6)" fill="#bccca4" stroke="#8aa070" stroke-width="0.35"/>
<ellipse cx="212.4" cy="35.7" rx="4.2" ry="2.8" transform="rotate(0 212.4 35.7)" fill="#bccca4" stroke="#8aa070" stroke-width="0.35"/>
<ellipse cx="212.1" cy="44.0" rx="4.2" ry="3.2" transform="rotate(0 212.1 44.0)" fill="#aac48a" stroke="#8aa070" stroke-width="0.35"/>
<circle cx="143.2" cy="71.6" r="15.6" fill="#5a5a5a"/>
<circle cx="143.2" cy="71.6" r="13.95" fill="none" stroke="#a8a8a8" stroke-width="2.7"/>
<circle cx="143.2" cy="71.6" r="14.8" fill="none" stroke="#d0d0d0" stroke-width="0.7"/>
<circle cx="143.2" cy="71.6" r="13.4" fill="none" stroke="#cacaca" stroke-width="0.6"/>
<circle cx="143.2" cy="71.6" r="12.6" fill="#282829" stroke="#444" stroke-width="0.5"/>
<circle cx="147.8" cy="72.4" r="2.4" fill="#3a3a3e" opacity="0.7"/>
<circle cx="140.1" cy="63.4" r="2.7" fill="#3a3a3e" opacity="0.7"/>
<circle cx="151.4" cy="68.2" r="3.4" fill="#3a3a3e" opacity="0.7"/>
<circle cx="140.3" cy="74.8" r="2.3" fill="#3a3a3e" opacity="0.7"/>
<ellipse cx="147.6" cy="63.7" rx="3.5" ry="3.0" transform="rotate(0 147.6 63.7)" fill="#50c426" stroke="#3a9a1e" stroke-width="0.35"/>
<ellipse cx="146.1" cy="69.3" rx="3.5" ry="3.0" transform="rotate(0 146.1 69.3)" fill="#50c426" stroke="#3a9a1e" stroke-width="0.35"/>
<ellipse cx="139.4" cy="72.6" rx="3.5" ry="3.0" transform="rotate(0 139.4 72.6)" fill="#50c426" stroke="#3a9a1e" stroke-width="0.35"/>
<ellipse cx="143.9" cy="71.1" rx="3.5" ry="3.0" transform="rotate(0 143.9 71.1)" fill="#50c426" stroke="#3a9a1e" stroke-width="0.35"/>
<circle cx="176.0" cy="71.6" r="15.6" fill="#5a5a5a"/>
<circle cx="176.0" cy="71.6" r="13.95" fill="none" stroke="#a8a8a8" stroke-width="2.7"/>
<circle cx="176.0" cy="71.6" r="14.8" fill="none" stroke="#d0d0d0" stroke-width="0.7"/>
<circle cx="176.0" cy="71.6" r="13.4" fill="none" stroke="#cacaca" stroke-width="0.6"/>
<circle cx="176.0" cy="71.6" r="12.6" fill="#282829" stroke="#444" stroke-width="0.5"/>
<circle cx="177.4" cy="75.6" r="2.9" fill="#3a3a3e" opacity="0.7"/>
<circle cx="182.5" cy="66.9" r="2.7" fill="#3a3a3e" opacity="0.7"/>
<circle cx="171.5" cy="65.2" r="2.1" fill="#3a3a3e" opacity="0.7"/>
<circle cx="171.5" cy="64.4" r="3.2" fill="#3a3a3e" opacity="0.7"/>
<ellipse cx="173.9" cy="63.7" rx="2.2" ry="2.2" transform="rotate(0 173.9 63.7)" fill="#5cc238" stroke="#3a9a1e" stroke-width="0.35"/>
<ellipse cx="171.4" cy="68.9" rx="2.2" ry="2.2" transform="rotate(0 171.4 68.9)" fill="#5cc238" stroke="#3a9a1e" stroke-width="0.35"/>
<ellipse cx="178.9" cy="66.7" rx="4.0" ry="3.0" transform="rotate(0 178.9 66.7)" fill="#5cc238" stroke="#3a9a1e" stroke-width="0.35"/>
<ellipse cx="177.8" cy="73.4" rx="4.0" ry="3.0" transform="rotate(0 177.8 73.4)" fill="#5cc238" stroke="#3a9a1e" stroke-width="0.35"/>
<ellipse cx="169.9" cy="76.8" rx="3.0" ry="4.0" transform="rotate(0 169.9 76.8)" fill="#5cc238" stroke="#3a9a1e" stroke-width="0.35"/>
<circle cx="210.1" cy="71.6" r="15.6" fill="#5a5a5a"/>
<circle cx="210.1" cy="71.6" r="13.95" fill="none" stroke="#a8a8a8" stroke-width="2.7"/>
<circle cx="210.1" cy="71.6" r="14.8" fill="none" stroke="#d0d0d0" stroke-width="0.7"/>
<circle cx="210.1" cy="71.6" r="13.4" fill="none" stroke="#cacaca" stroke-width="0.6"/>
<circle cx="210.1" cy="71.6" r="12.6" fill="#282829" stroke="#444" stroke-width="0.5"/>
<circle cx="210.1" cy="65.7" r="2.3" fill="#3a3a3e" opacity="0.7"/>
<circle cx="211.3" cy="66.8" r="3.2" fill="#3a3a3e" opacity="0.7"/>
<circle cx="215.4" cy="70.6" r="2.6" fill="#3a3a3e" opacity="0.7"/>
<circle cx="217.0" cy="69.2" r="2.3" fill="#3a3a3e" opacity="0.7"/>
<ellipse cx="207.1" cy="64.0" rx="2.2" ry="2.2" transform="rotate(0 207.1 64.0)" fill="#bccca4" stroke="#8aa070" stroke-width="0.35"/>
<ellipse cx="204.9" cy="69.3" rx="2.0" ry="2.0" transform="rotate(0 204.9 69.3)" fill="#bccca4" stroke="#8aa070" stroke-width="0.35"/>
<ellipse cx="212.4" cy="67.0" rx="3.8" ry="3.0" transform="rotate(0 212.4 67.0)" fill="#aac48a" stroke="#8aa070" stroke-width="0.35"/>
<ellipse cx="204.9" cy="74.9" rx="3.0" ry="3.5" transform="rotate(0 204.9 74.9)" fill="#bccca4" stroke="#8aa070" stroke-width="0.35"/>
<ellipse cx="213.1" cy="75.3" rx="4.0" ry="3.0" transform="rotate(0 213.1 75.3)" fill="#bccca4" stroke="#8aa070" stroke-width="0.35"/>
<circle cx="143.2" cy="104.0" r="15.6" fill="#5a5a5a"/>
<circle cx="143.2" cy="104.0" r="13.95" fill="none" stroke="#a8a8a8" stroke-width="2.7"/>
<circle cx="143.2" cy="104.0" r="14.8" fill="none" stroke="#d0d0d0" stroke-width="0.7"/>
<circle cx="143.2" cy="104.0" r="13.4" fill="none" stroke="#cacaca" stroke-width="0.6"/>
<circle cx="143.2" cy="104.0" r="12.6" fill="#282829" stroke="#444" stroke-width="0.5"/>
<circle cx="145.9" cy="106.8" r="3.4" fill="#3a3a3e" opacity="0.7"/>
<circle cx="144.5" cy="100.4" r="3.2" fill="#3a3a3e" opacity="0.7"/>
<circle cx="150.1" cy="103.1" r="2.5" fill="#3a3a3e" opacity="0.7"/>
<circle cx="139.6" cy="102.9" r="2.0" fill="#3a3a3e" opacity="0.7"/>
<ellipse cx="146.8" cy="99.1" rx="3.2" ry="3.0" transform="rotate(0 146.8 99.1)" fill="#50c426" stroke="#3a9a1e" stroke-width="0.35"/>
<ellipse cx="141.6" cy="105.4" rx="3.2" ry="3.0" transform="rotate(0 141.6 105.4)" fill="#50c426" stroke="#3a9a1e" stroke-width="0.35"/>
<ellipse cx="147.6" cy="106.1" rx="3.2" ry="3.0" transform="rotate(0 147.6 106.1)" fill="#50c426" stroke="#3a9a1e" stroke-width="0.35"/>
<circle cx="176.0" cy="104.0" r="15.6" fill="#5a5a5a"/>
<circle cx="176.0" cy="104.0" r="13.95" fill="none" stroke="#a8a8a8" stroke-width="2.7"/>
<circle cx="176.0" cy="104.0" r="14.8" fill="none" stroke="#d0d0d0" stroke-width="0.7"/>
<circle cx="176.0" cy="104.0" r="13.4" fill="none" stroke="#cacaca" stroke-width="0.6"/>
<circle cx="176.0" cy="104.0" r="12.6" fill="#282829" stroke="#444" stroke-width="0.5"/>
<circle cx="182.8" cy="102.7" r="2.8" fill="#3a3a3e" opacity="0.7"/>
<circle cx="181.1" cy="101.7" r="3.3" fill="#3a3a3e" opacity="0.7"/>
<circle cx="178.0" cy="100.2" r="2.4" fill="#3a3a3e" opacity="0.7"/>
<circle cx="174.8" cy="108.3" r="2.9" fill="#3a3a3e" opacity="0.7"/>
<ellipse cx="174.8" cy="101.6" rx="3.0" ry="3.0" transform="rotate(0 174.8 101.6)" fill="#5cc238" stroke="#3a9a1e" stroke-width="0.35"/>
<ellipse cx="173.3" cy="108.0" rx="3.5" ry="3.0" transform="rotate(0 173.3 108.0)" fill="#5cc238" stroke="#3a9a1e" stroke-width="0.35"/>
<ellipse cx="180.8" cy="104.6" rx="3.0" ry="4.5" transform="rotate(0 180.8 104.6)" fill="#5cc238" stroke="#3a9a1e" stroke-width="0.35"/>
<circle cx="210.1" cy="104.0" r="15.6" fill="#5a5a5a"/>
<circle cx="210.1" cy="104.0" r="13.95" fill="none" stroke="#a8a8a8" stroke-width="2.7"/>
<circle cx="210.1" cy="104.0" r="14.8" fill="none" stroke="#d0d0d0" stroke-width="0.7"/>
<circle cx="210.1" cy="104.0" r="13.4" fill="none" stroke="#cacaca" stroke-width="0.6"/>
<circle cx="210.1" cy="104.0" r="12.6" fill="#282829" stroke="#444" stroke-width="0.5"/>
<circle cx="209.8" cy="109.5" r="2.2" fill="#3a3a3e" opacity="0.7"/>
<circle cx="214.4" cy="101.3" r="2.7" fill="#3a3a3e" opacity="0.7"/>
<circle cx="202.8" cy="99.8" r="2.6" fill="#3a3a3e" opacity="0.7"/>
<circle cx="215.3" cy="101.0" r="2.8" fill="#3a3a3e" opacity="0.7"/>
<ellipse cx="210.4" cy="98.7" rx="2.8" ry="2.8" transform="rotate(0 210.4 98.7)" fill="#c8d4b4" stroke="#8aa070" stroke-width="0.35"/>
<ellipse cx="208.3" cy="107.6" rx="3.5" ry="3.3" transform="rotate(0 208.3 107.6)" fill="#bccca4" stroke="#8aa070" stroke-width="0.35"/>
<ellipse cx="215.0" cy="105.4" rx="3.0" ry="4.2" transform="rotate(0 215.0 105.4)" fill="#aac48a" stroke="#8aa070" stroke-width="0.35"/>
<circle cx="143.2" cy="135.7" r="15.6" fill="#5a5a5a"/>
<circle cx="143.2" cy="135.7" r="13.95" fill="none" stroke="#a8a8a8" stroke-width="2.7"/>
<circle cx="143.2" cy="135.7" r="14.8" fill="none" stroke="#d0d0d0" stroke-width="0.7"/>
<circle cx="143.2" cy="135.7" r="13.4" fill="none" stroke="#cacaca" stroke-width="0.6"/>
<circle cx="143.2" cy="135.7" r="12.6" fill="#282829" stroke="#444" stroke-width="0.5"/>
<circle cx="140.1" cy="135.2" r="2.7" fill="#3a3a3e" opacity="0.7"/>
<circle cx="144.4" cy="138.5" r="3.2" fill="#3a3a3e" opacity="0.7"/>
<circle cx="145.9" cy="140.9" r="3.1" fill="#3a3a3e" opacity="0.7"/>
<circle cx="138.6" cy="134.0" r="2.8" fill="#3a3a3e" opacity="0.7"/>
<ellipse cx="139.1" cy="135.9" rx="3.2" ry="3.3" transform="rotate(0 139.1 135.9)" fill="#50c426" stroke="#3a9a1e" stroke-width="0.35"/>
<ellipse cx="146.8" cy="134.8" rx="3.2" ry="3.3" transform="rotate(0 146.8 134.8)" fill="#50c426" stroke="#3a9a1e" stroke-width="0.35"/>
<ellipse cx="143.9" cy="140.8" rx="3.2" ry="3.3" transform="rotate(0 143.9 140.8)" fill="#50c426" stroke="#3a9a1e" stroke-width="0.35"/>
<circle cx="176.0" cy="135.7" r="15.6" fill="#5a5a5a"/>
<circle cx="176.0" cy="135.7" r="13.95" fill="none" stroke="#a8a8a8" stroke-width="2.7"/>
<circle cx="176.0" cy="135.7" r="14.8" fill="none" stroke="#d0d0d0" stroke-width="0.7"/>
<circle cx="176.0" cy="135.7" r="13.4" fill="none" stroke="#cacaca" stroke-width="0.6"/>
<circle cx="176.0" cy="135.7" r="12.6" fill="#282829" stroke="#444" stroke-width="0.5"/>
<circle cx="168.8" cy="133.1" r="2.2" fill="#3a3a3e" opacity="0.7"/>
<circle cx="171.8" cy="134.0" r="2.4" fill="#3a3a3e" opacity="0.7"/>
<circle cx="176.8" cy="129.7" r="2.8" fill="#3a3a3e" opacity="0.7"/>
<circle cx="176.5" cy="127.2" r="2.7" fill="#3a3a3e" opacity="0.7"/>
<ellipse cx="172.5" cy="133.3" rx="3.0" ry="3.5" transform="rotate(0 172.5 133.3)" fill="#5cc238" stroke="#3a9a1e" stroke-width="0.35"/>
<ellipse cx="172.2" cy="138.1" rx="3.0" ry="3.3" transform="rotate(0 172.2 138.1)" fill="#5cc238" stroke="#3a9a1e" stroke-width="0.35"/>
<ellipse cx="181.5" cy="134.4" rx="4.0" ry="3.0" transform="rotate(0 181.5 134.4)" fill="#5cc238" stroke="#3a9a1e" stroke-width="0.35"/>
<ellipse cx="178.9" cy="140.8" rx="3.0" ry="3.5" transform="rotate(0 178.9 140.8)" fill="#5cc238" stroke="#3a9a1e" stroke-width="0.35"/>
<circle cx="210.1" cy="135.7" r="15.6" fill="#5a5a5a"/>
<circle cx="210.1" cy="135.7" r="13.95" fill="none" stroke="#a8a8a8" stroke-width="2.7"/>
<circle cx="210.1" cy="135.7" r="14.8" fill="none" stroke="#d0d0d0" stroke-width="0.7"/>
<circle cx="210.1" cy="135.7" r="13.4" fill="none" stroke="#cacaca" stroke-width="0.6"/>
<circle cx="210.1" cy="135.7" r="12.6" fill="#282829" stroke="#444" stroke-width="0.5"/>
<circle cx="205.5" cy="131.8" r="2.8" fill="#3a3a3e" opacity="0.7"/>
<circle cx="208.1" cy="130.4" r="2.8" fill="#3a3a3e" opacity="0.7"/>
<circle cx="201.5" cy="136.9" r="3.0" fill="#3a3a3e" opacity="0.7"/>
<circle cx="216.3" cy="129.6" r="2.4" fill="#3a3a3e" opacity="0.7"/>
<ellipse cx="201.9" cy="129.9" rx="3.4" ry="2.9" transform="rotate(0 201.9 129.9)" fill="#50c426" stroke="#3a9a1e" stroke-width="0.35"/>
<ellipse cx="207.1" cy="133.6" rx="3.4" ry="2.9" transform="rotate(27 207.1 133.6)" fill="#46b222" stroke="#3a9a1e" stroke-width="0.35"/>
<ellipse cx="212.4" cy="132.2" rx="3.4" ry="2.9" transform="rotate(54 212.4 132.2)" fill="#50c426" stroke="#3a9a1e" stroke-width="0.35"/>
<ellipse cx="218.3" cy="130.7" rx="3.4" ry="2.9" transform="rotate(81 218.3 130.7)" fill="#46b222" stroke="#3a9a1e" stroke-width="0.35"/>
<ellipse cx="200.4" cy="135.1" rx="3.4" ry="2.9" transform="rotate(108 200.4 135.1)" fill="#50c426" stroke="#3a9a1e" stroke-width="0.35"/>
<ellipse cx="204.9" cy="140.3" rx="3.4" ry="2.9" transform="rotate(135 204.9 140.3)" fill="#46b222" stroke="#3a9a1e" stroke-width="0.35"/>
<ellipse cx="210.9" cy="138.9" rx="3.4" ry="2.9" transform="rotate(162 210.9 138.9)" fill="#50c426" stroke="#3a9a1e" stroke-width="0.35"/>
<ellipse cx="216.8" cy="137.4" rx="3.4" ry="2.9" transform="rotate(189 216.8 137.4)" fill="#46b222" stroke="#3a9a1e" stroke-width="0.35"/>
<ellipse cx="213.8" cy="143.3" rx="3.4" ry="2.9" transform="rotate(216 213.8 143.3)" fill="#50c426" stroke="#3a9a1e" stroke-width="0.35"/>
<ellipse cx="208.6" cy="144.1" rx="3.4" ry="2.9" transform="rotate(243 208.6 144.1)" fill="#46b222" stroke="#3a9a1e" stroke-width="0.35"/>
<ellipse cx="219.1" cy="135.1" rx="3.4" ry="2.9" transform="rotate(270 219.1 135.1)" fill="#50c426" stroke="#3a9a1e" stroke-width="0.35"/>
<text x="238.6" y="10.6" font-size="14.5" font-weight="bold" fill="#000">b</text>
<text x="268.60" y="10.10" font-size="7.5" text-anchor="start" fill="#000">TIC (x10<tspan font-size="4.5" dy="-2.5">7</tspan><tspan dy="2.5">)</tspan></text>
<line x1="269.00" y1="13.50" x2="315.50" y2="13.50" stroke="#333" stroke-width="0.9"/>
<line x1="269.00" y1="13.30" x2="269.00" y2="145.60" stroke="#333" stroke-width="0.9"/>
<line x1="269.00" y1="145.30" x2="388.80" y2="145.30" stroke="#333" stroke-width="0.9"/>
<line x1="268.90" y1="145.30" x2="268.90" y2="147.60" stroke="#333" stroke-width="0.8"/>
<text x="268.90" y="154.80" font-size="7.5" text-anchor="middle" fill="#222">8</text>
<line x1="286.00" y1="145.30" x2="286.00" y2="147.60" stroke="#333" stroke-width="0.8"/>
<text x="286.00" y="154.80" font-size="7.5" text-anchor="middle" fill="#222">9</text>
<line x1="303.10" y1="145.30" x2="303.10" y2="147.60" stroke="#333" stroke-width="0.8"/>
<text x="303.10" y="154.80" font-size="7.5" text-anchor="middle" fill="#222">10</text>
<line x1="320.20" y1="145.30" x2="320.20" y2="147.60" stroke="#333" stroke-width="0.8"/>
<text x="320.20" y="154.80" font-size="7.5" text-anchor="middle" fill="#222">11</text>
<line x1="337.30" y1="145.30" x2="337.30" y2="147.60" stroke="#333" stroke-width="0.8"/>
<text x="337.30" y="154.80" font-size="7.5" text-anchor="middle" fill="#222">12</text>
<line x1="354.40" y1="145.30" x2="354.40" y2="147.60" stroke="#333" stroke-width="0.8"/>
<text x="354.40" y="154.80" font-size="7.5" text-anchor="middle" fill="#222">13</text>
<line x1="371.50" y1="145.30" x2="371.50" y2="147.60" stroke="#333" stroke-width="0.8"/>
<text x="371.50" y="154.80" font-size="7.5" text-anchor="middle" fill="#222">14</text>
<line x1="388.60" y1="145.30" x2="388.60" y2="147.60" stroke="#333" stroke-width="0.8"/>
<text x="388.60" y="154.80" font-size="7.5" text-anchor="middle" fill="#222">15</text>
<line x1="277.45" y1="145.30" x2="277.45" y2="146.60" stroke="#333" stroke-width="0.6"/>
<line x1="294.55" y1="145.30" x2="294.55" y2="146.60" stroke="#333" stroke-width="0.6"/>
<line x1="311.65" y1="145.30" x2="311.65" y2="146.60" stroke="#333" stroke-width="0.6"/>
<line x1="328.75" y1="145.30" x2="328.75" y2="146.60" stroke="#333" stroke-width="0.6"/>
<line x1="345.85" y1="145.30" x2="345.85" y2="146.60" stroke="#333" stroke-width="0.6"/>
<line x1="362.95" y1="145.30" x2="362.95" y2="146.60" stroke="#333" stroke-width="0.6"/>
<line x1="380.05" y1="145.30" x2="380.05" y2="146.60" stroke="#333" stroke-width="0.6"/>
<text x="395.80" y="154.84" font-size="7.6" text-anchor="start" fill="#222">Time (min)</text>
<text transform="translate(256.6,80.7) rotate(-90)" font-size="7.4" text-anchor="middle" fill="#222">Abundance</text>
<line x1="266.40" y1="43.60" x2="269.00" y2="43.60" stroke="#333" stroke-width="0.7"/>
<line x1="267.40" y1="36.30" x2="269.00" y2="36.30" stroke="#333" stroke-width="0.7"/>
<line x1="266.40" y1="29.00" x2="269.00" y2="29.00" stroke="#333" stroke-width="0.7"/>
<line x1="267.40" y1="21.70" x2="269.00" y2="21.70" stroke="#333" stroke-width="0.7"/>
<line x1="266.40" y1="14.40" x2="269.00" y2="14.40" stroke="#333" stroke-width="0.7"/>
<text x="265.80" y="46.30" font-size="7.5" text-anchor="end" fill="#222">0</text>
<text x="265.80" y="31.70" font-size="7.5" text-anchor="end" fill="#222">2</text>
<text x="265.80" y="17.10" font-size="7.5" text-anchor="end" fill="#222">4</text>
<text x="270.80" y="31.70" font-size="7.5" text-anchor="start" fill="#222">CK</text>
<line x1="269.00" y1="43.70" x2="388.80" y2="43.70" stroke="#555" stroke-width="0.6"/>
<line x1="266.40" y1="76.80" x2="269.00" y2="76.80" stroke="#333" stroke-width="0.7"/>
<line x1="267.40" y1="69.50" x2="269.00" y2="69.50" stroke="#333" stroke-width="0.7"/>
<line x1="266.40" y1="62.20" x2="269.00" y2="62.20" stroke="#333" stroke-width="0.7"/>
<line x1="267.40" y1="54.90" x2="269.00" y2="54.90" stroke="#333" stroke-width="0.7"/>
<text x="265.80" y="79.50" font-size="7.5" text-anchor="end" fill="#222">0</text>
<text x="265.80" y="64.90" font-size="7.5" text-anchor="end" fill="#222">2</text>
<text x="270.80" y="64.90" font-size="7.5" text-anchor="start" fill="#222">GH2</text>
<line x1="269.00" y1="76.90" x2="388.80" y2="76.90" stroke="#555" stroke-width="0.6"/>
<line x1="266.40" y1="110.80" x2="269.00" y2="110.80" stroke="#333" stroke-width="0.7"/>
<line x1="267.40" y1="103.50" x2="269.00" y2="103.50" stroke="#333" stroke-width="0.7"/>
<line x1="266.40" y1="96.20" x2="269.00" y2="96.20" stroke="#333" stroke-width="0.7"/>
<line x1="267.40" y1="88.90" x2="269.00" y2="88.90" stroke="#333" stroke-width="0.7"/>
<text x="265.80" y="113.50" font-size="7.5" text-anchor="end" fill="#222">0</text>
<text x="265.80" y="98.90" font-size="7.5" text-anchor="end" fill="#222">2</text>
<text x="270.80" y="98.90" font-size="7.5" text-anchor="start" fill="#222">HT3</text>
<line x1="269.00" y1="110.90" x2="388.80" y2="110.90" stroke="#555" stroke-width="0.6"/>
<line x1="266.40" y1="145.10" x2="269.00" y2="145.10" stroke="#333" stroke-width="0.7"/>
<line x1="267.40" y1="137.80" x2="269.00" y2="137.80" stroke="#333" stroke-width="0.7"/>
<line x1="266.40" y1="130.50" x2="269.00" y2="130.50" stroke="#333" stroke-width="0.7"/>
<line x1="267.40" y1="123.20" x2="269.00" y2="123.20" stroke="#333" stroke-width="0.7"/>
<text x="265.80" y="147.80" font-size="7.5" text-anchor="end" fill="#222">0</text>
<text x="265.80" y="133.20" font-size="7.5" text-anchor="end" fill="#222">2</text>
<text x="270.80" y="133.20" font-size="7.5" text-anchor="start" fill="#222" font-weight="bold">S5</text>
<polyline points="269.00,43.42 269.40,43.43 269.80,43.50 270.20,43.26 270.60,43.58 271.00,43.26 271.40,43.43 271.80,43.57 272.20,43.40 272.60,43.52 273.00,43.54 273.40,43.54 273.80,43.11 274.03,42.98 274.20,42.94 274.60,43.51 275.00,43.50 275.40,43.59 275.80,43.54 276.20,43.27 276.60,43.59 277.00,43.51 277.40,43.58 277.80,43.52 278.20,43.54 278.60,43.49 279.00,42.65 279.16,42.80 279.40,43.08 279.80,43.47 280.20,43.30 280.60,43.57 281.00,43.51 281.40,43.23 281.80,43.38 282.20,43.54 282.60,43.50 283.00,43.26 283.40,43.46 283.80,43.17 284.20,43.03 284.29,43.02 284.60,43.32 285.00,43.52 285.40,43.57 285.80,43.56 286.20,43.54 286.60,43.41 287.00,43.37 287.40,43.60 287.80,43.53 288.20,43.49 288.60,43.53 289.00,43.44 289.40,43.53 289.80,43.43 290.20,41.43 290.60,30.09 290.62,30.07 291.00,40.72 291.40,43.58 291.80,43.31 292.20,43.34 292.60,43.57 293.00,43.47 293.40,43.45 293.80,43.55 294.20,43.60 294.60,43.44 295.00,43.26 295.40,40.18 295.75,16.06 295.80,17.28 296.20,42.69 296.60,43.52 297.00,43.48 297.40,43.34 297.80,43.56 298.20,43.41 298.60,43.44 299.00,43.51 299.40,43.32 299.80,43.25 300.20,43.52 300.60,43.48 301.00,43.53 301.40,43.34 301.80,43.38 302.20,43.42 302.60,43.22 303.00,42.74 303.10,42.76 303.40,43.19 303.80,43.50 304.20,43.52 304.60,43.56 305.00,43.41 305.40,43.13 305.80,43.58 306.20,43.55 306.60,42.45 307.00,38.83 307.03,38.71 307.40,42.01 307.80,42.88 308.20,41.26 308.23,41.25 308.60,42.87 309.00,43.27 309.40,43.40 309.80,42.58 309.94,42.56 310.20,43.00 310.60,43.51 311.00,43.56 311.40,43.24 311.80,43.42 312.20,43.41 312.60,43.47 313.00,43.10 313.36,42.23 313.40,42.18 313.80,43.32 314.20,43.44 314.60,43.31 315.00,43.60 315.40,43.44 315.80,43.58 316.20,43.36 316.60,43.58 317.00,43.48 317.40,42.55 317.80,30.84 317.81,30.85 318.20,42.08 318.60,43.29 319.00,43.40 319.40,43.55 319.80,43.46 320.20,43.60 320.60,43.50 321.00,43.54 321.40,43.54 321.80,43.30 322.20,43.43 322.60,43.40 323.00,43.56 323.40,43.37 323.80,43.47 324.20,43.38 324.60,43.44 325.00,43.19 325.33,42.97 325.40,42.85 325.80,43.48 326.20,43.37 326.60,43.50 327.00,43.25 327.40,43.48 327.80,43.44 328.20,43.41 328.60,43.59 329.00,43.60 329.40,43.38 329.80,43.33 330.20,43.54 330.60,43.44 331.00,43.38 331.40,43.42 331.80,43.13 332.17,43.08 332.20,42.82 332.60,43.18 333.00,43.33 333.40,43.44 333.80,43.43 334.20,43.23 334.60,43.54 335.00,43.42 335.40,43.58 335.80,43.46 336.20,43.35 336.60,43.44 337.00,43.53 337.40,43.45 337.80,43.01 338.15,42.99 338.20,42.91 338.60,43.28 339.00,43.37 339.40,43.52 339.80,43.46 340.20,43.42 340.60,43.42 341.00,43.44 341.40,43.42 341.80,43.51 342.20,43.58 342.60,43.40 343.00,43.52 343.40,43.56 343.80,43.27 344.20,40.71 344.48,37.91 344.60,38.43 345.00,42.72 345.40,42.91 345.80,42.78 345.85,42.76 346.20,42.84 346.60,43.22 347.00,43.43 347.40,43.43 347.80,43.56 348.20,43.45 348.60,43.47 349.00,43.58 349.40,43.28 349.80,43.45 350.20,43.60 350.60,43.57 351.00,43.45 351.40,43.39 351.80,43.41 352.20,43.57 352.60,43.57 353.00,43.55 353.40,43.56 353.80,43.47 354.20,43.56 354.60,43.26 355.00,43.36 355.40,43.38 355.80,43.19 356.11,43.22 356.20,43.10 356.60,43.33 357.00,43.44 357.40,43.41 357.80,43.48 358.20,43.22 358.60,43.50 359.00,43.49 359.40,43.51 359.80,43.59 360.20,43.60 360.60,43.45 361.00,43.48 361.40,43.54 361.80,43.55 362.20,43.38 362.60,43.37 363.00,43.49 363.40,43.49 363.80,43.58 364.20,43.48 364.60,43.46 365.00,43.57 365.40,43.28 365.80,43.52 366.20,43.50 366.60,43.53 367.00,43.43 367.40,43.58 367.80,43.49 368.20,43.53 368.60,43.43 369.00,43.58 369.40,43.56 369.80,43.43 370.20,43.45 370.60,43.46 371.00,43.48 371.40,43.56 371.80,43.54 372.20,43.32 372.60,43.42 373.00,43.58 373.40,43.55 373.80,43.25 374.20,43.58 374.60,43.49 375.00,43.59 375.40,43.51 375.80,43.48 376.20,43.59 376.60,43.47 377.00,43.49 377.40,43.47 377.80,43.44 378.20,43.60 378.60,43.52 379.00,43.59 379.40,43.47 379.80,43.47 380.20,43.57 380.60,43.55 381.00,43.42 381.40,43.46 381.80,43.57 382.20,43.59 382.60,43.40 383.00,43.49 383.40,43.57 383.80,43.28 384.20,43.51 384.60,43.46 385.00,43.48 385.40,43.34 385.80,43.58 386.20,43.42 386.60,43.51 387.00,43.54 387.40,43.40 387.80,43.27 388.20,43.56" fill="none" stroke="#444" stroke-width="0.6" stroke-linejoin="round"/>
<polyline points="269.00,76.73 269.40,76.53 269.80,76.68 270.20,76.79 270.60,76.58 271.00,76.80 271.40,76.55 271.80,76.75 272.20,76.62 272.60,76.62 273.00,76.76 273.40,76.51 273.80,76.40 274.03,76.05 274.20,76.11 274.60,76.71 275.00,76.73 275.40,76.62 275.80,76.76 276.20,76.69 276.60,76.72 277.00,76.58 277.40,76.72 277.80,76.69 278.20,76.58 278.60,76.60 279.00,76.10 279.16,75.85 279.40,76.23 279.80,76.72 280.20,76.72 280.60,76.71 281.00,76.61 281.40,76.74 281.80,76.73 282.20,76.59 282.60,76.58 283.00,76.53 283.40,76.65 283.80,76.64 284.20,76.19 284.29,76.12 284.60,76.44 285.00,76.41 285.40,76.66 285.80,76.77 286.20,76.70 286.60,76.72 287.00,76.74 287.40,76.77 287.80,76.67 288.20,76.67 288.60,76.64 289.00,76.65 289.40,76.76 289.80,76.70 290.20,74.52 290.60,63.03 290.62,62.93 291.00,73.58 291.40,76.77 291.80,76.78 292.20,76.80 292.60,76.77 293.00,76.64 293.40,76.52 293.80,76.71 294.20,76.71 294.60,76.69 295.00,76.69 295.40,73.08 295.75,49.54 295.80,51.13 296.20,76.00 296.60,76.80 297.00,76.65 297.40,76.69 297.80,76.79 298.20,76.49 298.60,76.76 299.00,76.65 299.40,76.52 299.80,76.53 300.20,76.71 300.60,76.75 301.00,76.63 301.40,76.57 301.80,76.76 302.20,76.75 302.60,76.67 303.00,76.06 303.10,75.88 303.40,76.17 303.80,76.77 304.20,76.79 304.60,76.77 305.00,76.66 305.40,76.66 305.80,76.73 306.20,76.70 306.60,75.32 307.00,71.05 307.03,71.10 307.40,74.84 307.80,76.16 308.20,74.47 308.23,74.58 308.60,75.95 309.00,76.70 309.40,76.71 309.80,75.86 309.94,75.71 310.20,76.19 310.60,76.65 311.00,76.58 311.40,76.46 311.80,76.67 312.20,76.73 312.60,76.69 313.00,76.32 313.36,75.46 313.40,75.51 313.80,76.48 314.20,76.46 314.60,76.80 315.00,76.78 315.40,76.75 315.80,76.78 316.20,76.55 316.60,76.75 317.00,76.62 317.40,75.36 317.80,60.78 317.81,60.73 318.20,75.27 318.60,76.76 319.00,76.67 319.40,76.46 319.80,76.68 320.20,76.70 320.60,76.74 321.00,76.53 321.40,76.63 321.80,76.79 322.20,76.69 322.60,76.72 323.00,76.67 323.40,76.63 323.80,76.73 324.20,76.75 324.60,76.75 325.00,76.51 325.33,76.03 325.40,76.09 325.80,76.40 326.20,76.72 326.60,76.64 327.00,76.63 327.40,76.60 327.80,76.60 328.20,76.62 328.60,76.70 329.00,76.52 329.40,76.63 329.80,76.67 330.20,76.70 330.60,76.71 331.00,76.55 331.40,76.51 331.80,76.23 332.17,76.16 332.20,76.21 332.60,76.52 333.00,76.60 333.40,76.76 333.80,76.57 334.20,76.55 334.60,76.70 335.00,76.68 335.40,76.78 335.80,76.74 336.20,76.78 336.60,76.72 337.00,76.70 337.40,76.58 337.80,76.39 338.15,76.17 338.20,76.19 338.60,76.28 339.00,76.62 339.40,76.68 339.80,76.66 340.20,76.71 340.60,76.78 341.00,76.77 341.40,76.76 341.80,76.54 342.20,76.79 342.60,76.58 343.00,76.73 343.40,76.77 343.80,76.64 344.20,73.93 344.48,71.06 344.60,71.57 345.00,75.89 345.40,76.13 345.80,76.00 345.85,75.84 346.20,76.04 346.60,76.25 347.00,76.63 347.40,76.70 347.80,76.70 348.20,76.69 348.60,76.64 349.00,76.72 349.40,76.73 349.80,76.77 350.20,76.61 350.60,76.67 351.00,76.72 351.40,76.73 351.80,76.69 352.20,76.79 352.60,76.60 353.00,76.76 353.40,76.61 353.80,76.75 354.20,76.67 354.60,76.67 355.00,76.63 355.40,76.23 355.80,76.23 356.11,76.29 356.20,76.43 356.60,76.54 357.00,76.49 357.40,76.72 357.80,76.66 358.20,76.60 358.60,76.45 359.00,76.69 359.40,76.62 359.80,76.76 360.20,76.76 360.60,76.55 361.00,76.74 361.40,76.62 361.80,76.64 362.20,76.68 362.60,76.72 363.00,76.62 363.40,76.76 363.80,76.78 364.20,76.70 364.60,76.49 365.00,76.66 365.40,76.75 365.80,76.64 366.20,76.75 366.60,76.50 367.00,76.69 367.40,76.61 367.80,76.75 368.20,76.75 368.60,76.75 369.00,76.79 369.40,76.58 369.80,76.68 370.20,76.69 370.60,76.58 371.00,76.73 371.40,76.70 371.80,76.71 372.20,76.76 372.60,76.63 373.00,76.60 373.40,76.78 373.80,76.70 374.20,76.70 374.60,76.74 375.00,76.74 375.40,76.56 375.80,76.56 376.20,76.79 376.60,76.70 377.00,76.56 377.40,76.63 377.80,76.69 378.20,76.66 378.60,76.77 379.00,76.53 379.40,76.55 379.80,76.47 380.20,76.74 380.60,76.65 381.00,76.75 381.40,76.78 381.80,76.76 382.20,76.79 382.60,76.78 383.00,76.79 383.40,76.80 383.80,76.77 384.20,76.74 384.60,76.70 385.00,76.74 385.40,76.69 385.80,76.68 386.20,76.63 386.60,76.42 387.00,76.65 387.40,76.67 387.80,76.61 388.20,76.72" fill="none" stroke="#444" stroke-width="0.6" stroke-linejoin="round"/>
<polyline points="269.00,110.76 269.40,110.72 269.80,110.77 270.20,110.75 270.60,110.66 271.00,110.77 271.40,110.63 271.80,110.74 272.20,110.64 272.60,110.76 273.00,110.74 273.40,110.75 273.80,110.17 274.03,110.07 274.20,110.26 274.60,110.69 275.00,110.55 275.40,110.54 275.80,110.67 276.20,110.73 276.60,110.75 277.00,110.79 277.40,110.72 277.80,110.70 278.20,110.75 278.60,110.69 279.00,110.06 279.16,109.74 279.40,110.23 279.80,110.60 280.20,110.71 280.60,110.69 281.00,110.75 281.40,110.78 281.80,110.71 282.20,110.76 282.60,110.73 283.00,110.66 283.40,110.72 283.80,110.55 284.20,110.21 284.29,110.26 284.60,110.52 285.00,110.57 285.40,110.79 285.80,110.60 286.20,110.50 286.60,110.75 287.00,110.78 287.40,110.68 287.80,110.73 288.20,110.79 288.60,110.58 289.00,110.68 289.40,110.70 289.80,109.31 290.20,96.83 290.27,96.15 290.60,105.99 291.00,110.55 291.40,110.71 291.80,110.71 292.20,110.73 292.60,110.61 293.00,110.65 293.40,110.72 293.80,110.61 294.20,110.50 294.60,110.58 295.00,110.76 295.40,110.58 295.80,110.70 296.20,109.76 296.60,107.42 296.60,107.75 297.00,109.92 297.40,110.62 297.80,110.65 298.20,110.62 298.60,109.94 299.00,107.56 299.00,107.54 299.40,109.77 299.80,110.69 300.20,110.72 300.60,110.72 301.00,110.56 301.40,110.61 301.80,110.66 302.20,110.72 302.60,110.41 303.00,109.97 303.10,109.87 303.40,110.16 303.80,110.76 304.20,110.65 304.60,110.60 305.00,110.56 305.40,110.72 305.80,110.78 306.20,110.73 306.60,109.41 307.00,104.44 307.03,104.23 307.40,108.67 307.80,110.18 308.20,108.16 308.23,108.30 308.60,109.89 309.00,110.64 309.40,110.50 309.80,109.89 309.94,109.59 310.20,110.22 310.60,110.75 311.00,110.76 311.40,110.59 311.80,110.65 312.20,110.61 312.60,110.60 313.00,110.29 313.36,109.51 313.40,109.45 313.80,110.44 314.20,110.75 314.60,110.78 315.00,110.78 315.40,110.71 315.80,110.77 316.20,110.76 316.60,110.71 317.00,110.80 317.40,110.69 317.80,110.72 318.20,110.46 318.60,102.68 318.83,92.44 319.00,98.83 319.40,110.66 319.80,110.66 320.20,110.75 320.60,110.74 321.00,110.52 321.40,110.42 321.80,110.63 322.20,110.76 322.60,110.74 323.00,110.76 323.40,110.74 323.80,110.70 324.20,110.76 324.60,110.72 325.00,110.20 325.33,110.15 325.40,110.14 325.80,110.69 326.20,110.77 326.60,110.79 327.00,110.39 327.40,110.73 327.80,110.65 328.20,110.62 328.60,110.79 329.00,110.66 329.40,110.67 329.80,110.58 330.20,110.54 330.60,110.75 331.00,110.75 331.40,110.65 331.80,110.34 332.17,109.90 332.20,110.14 332.60,110.34 333.00,110.66 333.40,110.57 333.80,110.77 334.20,110.62 334.60,110.78 335.00,110.77 335.40,110.68 335.80,110.78 336.20,110.79 336.60,110.57 337.00,110.64 337.40,110.69 337.80,110.02 338.15,110.03 338.20,110.07 338.60,110.48 339.00,110.74 339.40,110.69 339.80,110.77 340.20,110.70 340.60,110.57 341.00,110.57 341.40,110.71 341.80,110.66 342.20,110.65 342.60,110.58 343.00,110.61 343.40,110.69 343.80,110.47 344.20,107.80 344.48,105.14 344.60,105.56 345.00,109.82 345.40,109.95 345.80,109.87 345.85,109.77 346.20,109.98 346.60,110.40 347.00,110.37 347.40,110.56 347.80,110.78 348.20,110.71 348.60,110.74 349.00,110.74 349.40,110.58 349.80,110.65 350.20,110.63 350.60,110.58 351.00,110.58 351.40,110.77 351.80,110.69 352.20,110.65 352.60,110.78 353.00,110.78 353.40,110.59 353.80,110.76 354.20,110.45 354.60,110.73 355.00,110.47 355.40,110.53 355.80,110.49 356.11,110.41 356.20,110.50 356.60,110.46 357.00,110.69 357.40,110.57 357.80,110.78 358.20,110.64 358.60,110.58 359.00,110.56 359.40,110.70 359.80,110.67 360.20,110.52 360.60,110.64 361.00,110.51 361.40,110.64 361.80,110.62 362.20,110.80 362.60,110.77 363.00,110.80 363.40,110.71 363.80,110.76 364.20,110.53 364.60,110.79 365.00,110.72 365.40,110.65 365.80,110.77 366.20,110.61 366.60,110.72 367.00,110.64 367.40,110.55 367.80,110.71 368.20,110.65 368.60,110.68 369.00,110.80 369.40,110.68 369.80,110.78 370.20,110.62 370.60,110.57 371.00,110.70 371.40,110.66 371.80,110.72 372.20,110.66 372.60,110.68 373.00,110.57 373.40,110.78 373.80,110.62 374.20,110.75 374.60,110.45 375.00,110.75 375.40,110.70 375.80,110.51 376.20,110.69 376.60,110.76 377.00,110.47 377.40,110.67 377.80,110.76 378.20,110.73 378.60,110.68 379.00,110.69 379.40,110.70 379.80,110.75 380.20,110.60 380.60,110.70 381.00,110.73 381.40,110.49 381.80,110.67 382.20,110.60 382.60,110.76 383.00,110.73 383.40,110.51 383.80,110.54 384.20,110.73 384.60,110.44 385.00,110.66 385.40,110.70 385.80,110.52 386.20,110.78 386.60,110.72 387.00,110.66 387.40,110.66 387.80,110.79 388.20,110.76" fill="none" stroke="#444" stroke-width="0.6" stroke-linejoin="round"/>
<polyline points="269.00,145.04 269.40,144.72 269.80,144.94 270.20,144.93 270.60,145.00 271.00,145.04 271.40,145.00 271.80,145.10 272.20,145.00 272.60,144.97 273.00,144.93 273.40,145.03 273.80,144.62 274.03,144.24 274.20,144.54 274.60,145.00 275.00,144.98 275.40,145.09 275.80,144.83 276.20,144.92 276.60,145.05 277.00,145.05 277.40,145.08 277.80,144.64 278.20,144.91 278.60,144.96 279.00,144.30 279.16,144.15 279.40,144.49 279.80,144.88 280.20,144.88 280.60,145.10 281.00,144.94 281.40,144.99 281.80,145.07 282.20,145.06 282.60,144.94 283.00,145.04 283.40,144.97 283.80,144.70 284.20,144.42 284.29,144.48 284.60,144.79 285.00,145.01 285.40,144.91 285.80,144.86 286.20,144.93 286.60,144.91 287.00,144.91 287.40,144.97 287.80,144.99 288.20,144.75 288.60,145.00 289.00,144.95 289.40,145.07 289.80,143.59 290.20,130.32 290.27,129.57 290.60,139.72 291.00,144.90 291.40,144.87 291.80,145.09 292.20,145.08 292.60,144.99 293.00,144.96 293.40,145.09 293.80,145.08 294.20,144.94 294.60,144.90 295.00,144.90 295.40,145.03 295.80,145.04 296.20,145.03 296.60,145.05 297.00,144.89 297.40,144.75 297.80,145.02 298.20,144.86 298.60,145.09 299.00,145.08 299.40,145.09 299.80,144.96 300.20,145.02 300.60,144.96 301.00,145.08 301.40,144.95 301.80,144.95 302.20,145.05 302.60,144.90 303.00,144.30 303.10,144.25 303.40,144.69 303.80,144.95 304.20,144.99 304.60,144.93 305.00,144.89 305.40,144.86 305.80,145.09 306.20,145.03 306.60,143.68 307.00,138.08 307.03,138.09 307.40,142.73 307.80,144.31 308.20,142.12 308.23,141.96 308.60,144.16 309.00,145.08 309.40,144.96 309.80,144.17 309.94,144.07 310.20,144.51 310.60,144.83 311.00,145.04 311.40,144.90 311.80,145.09 312.20,144.93 312.60,144.73 313.00,144.65 313.36,143.88 313.40,143.78 313.80,144.76 314.20,145.01 314.60,145.09 315.00,144.96 315.40,144.96 315.80,145.03 316.20,145.08 316.60,144.88 317.00,145.01 317.40,145.06 317.80,144.93 318.20,144.95 318.60,136.94 318.83,126.78 319.00,133.09 319.40,144.90 319.80,145.08 320.20,145.06 320.60,144.87 321.00,145.08 321.40,145.08 321.80,145.00 322.20,144.98 322.60,144.77 323.00,144.88 323.40,145.09 323.80,144.92 324.20,145.07 324.60,145.00 325.00,144.84 325.33,144.32 325.40,144.52 325.80,144.79 326.20,144.89 326.60,145.09 327.00,144.89 327.40,144.97 327.80,144.72 328.20,144.91 328.60,145.08 329.00,144.98 329.40,144.71 329.80,144.98 330.20,144.86 330.60,144.84 331.00,144.99 331.40,144.90 331.80,144.54 332.17,144.33 332.20,144.58 332.60,144.73 333.00,145.01 333.40,145.02 333.80,144.84 334.20,144.82 334.60,145.03 335.00,144.99 335.40,145.05 335.80,144.90 336.20,144.97 336.60,144.91 337.00,144.87 337.40,144.94 337.80,144.64 338.15,144.32 338.20,144.40 338.60,144.70 339.00,144.88 339.40,145.09 339.80,145.04 340.20,145.00 340.60,144.88 341.00,145.00 341.40,145.08 341.80,144.94 342.20,144.89 342.60,144.91 343.00,145.08 343.40,144.98 343.80,144.93 344.20,142.08 344.48,139.38 344.60,139.72 345.00,144.12 345.40,144.41 345.80,144.04 345.85,144.24 346.20,144.42 346.60,144.62 347.00,144.89 347.40,144.88 347.80,145.03 348.20,144.97 348.60,145.05 349.00,144.84 349.40,144.93 349.80,144.96 350.20,145.01 350.60,144.64 351.00,144.87 351.40,144.97 351.80,144.97 352.20,144.94 352.60,145.07 353.00,145.04 353.40,144.81 353.80,145.03 354.20,144.81 354.60,144.90 355.00,144.87 355.40,144.84 355.80,144.69 356.11,144.64 356.20,144.79 356.60,144.85 357.00,144.74 357.40,144.93 357.80,145.01 358.20,144.98 358.60,144.97 359.00,144.86 359.40,145.07 359.80,144.90 360.20,145.05 360.60,144.99 361.00,145.02 361.40,145.00 361.80,145.03 362.20,145.09 362.60,145.08 363.00,144.96 363.40,145.04 363.80,145.00 364.20,144.98 364.60,145.00 365.00,145.09 365.40,145.03 365.80,145.08 366.20,144.98 366.60,144.99 367.00,144.88 367.40,145.06 367.80,145.07 368.20,144.87 368.60,145.02 369.00,145.01 369.40,144.93 369.80,144.96 370.20,144.83 370.60,145.09 371.00,144.93 371.40,144.78 371.80,144.96 372.20,144.75 372.60,145.09 373.00,145.01 373.40,145.00 373.80,145.02 374.20,145.05 374.60,145.10 375.00,145.05 375.40,144.95 375.80,144.97 376.20,144.98 376.60,145.00 377.00,144.92 377.40,145.02 377.80,144.83 378.20,144.89 378.60,144.95 379.00,144.70 379.40,144.96 379.80,145.09 380.20,145.00 380.60,144.95 381.00,145.02 381.40,144.89 381.80,145.02 382.20,145.09 382.60,145.01 383.00,144.95 383.40,144.92 383.80,145.07 384.20,144.99 384.60,145.05 385.00,145.06 385.40,144.92 385.80,145.07 386.20,144.82 386.60,145.05 387.00,145.04 387.40,145.07 387.80,145.08 388.20,144.85" fill="none" stroke="#444" stroke-width="0.6" stroke-linejoin="round"/>
<text x="300.60" y="21.02" font-size="5.6" text-anchor="start" fill="#111" font-weight="bold">DON</text>
<line x1="300.30" y1="19.20" x2="297.00" y2="22.20" stroke="#e02020" stroke-width="1.1"/>
<polygon points="295.8,23.6 298.6,22.8 296.9,20.9" fill="#e02020"/>
<text x="300.60" y="54.22" font-size="5.6" text-anchor="start" fill="#111" font-weight="bold">DON</text>
<line x1="300.30" y1="52.40" x2="297.00" y2="55.40" stroke="#e02020" stroke-width="1.1"/>
<polygon points="295.8,56.8 298.6,56.0 296.9,54.1" fill="#e02020"/>
<text x="284.00" y="90.42" font-size="5.6" text-anchor="start" fill="#111" font-weight="bold">3-keto-DON</text>
<text x="301.00" y="100.32" font-size="5.6" text-anchor="start" fill="#111" font-weight="bold">3-epi-DON</text>
<line x1="295.80" y1="91.50" x2="296.80" y2="104.00" stroke="#30e0f0" stroke-width="1.0" stroke-dasharray="2 1"/>
<polygon points="295.6,106.5 298.4,103.5 295.3,103.8" fill="#30e0f0"/>
<line x1="302.00" y1="101.00" x2="300.30" y2="104.60" stroke="#20b040" stroke-width="1.1"/>
<polygon points="299.6,106.3 301.7,104.6 299.2,103.6" fill="#20b040"/>
<g transform="translate(355.00,5.00) scale(0.08759)" stroke="#4a4a4a" stroke-width="6.9" fill="none" stroke-linejoin="round"><polygon points="135,145 195,105 255,140 255,215 195,250 130,215"/><polyline points="255,140 320,100 380,140 385,210 330,250 255,215"/><line x1="150" y1="152" x2="195" y2="123"/><polyline points="385,145 480,145 480,250 330,250"/><line x1="135" y1="145" x2="100" y2="118"/><line x1="130" y1="215" x2="80" y2="245"/><line x1="138" y1="228" x2="88" y2="258"/><line x1="255" y1="90" x2="255" y2="140"/><line x1="255" y1="215" x2="255" y2="385" stroke-dasharray="10 7"/><line x1="195" y1="250" x2="195" y2="290"/><line x1="480" y1="250" x2="540" y2="250" stroke-dasharray="10 7"/><line x1="480" y1="145" x2="540" y2="145" stroke-dasharray="10 7"/><line x1="345" y1="175" x2="395" y2="200"/><line x1="395" y1="200" x2="385" y2="215"/></g><g transform="translate(355.00,5.00) scale(0.08759)" fill="#4a4a4a" font-size="40" font-family="Liberation Sans, sans-serif"><polygon points="320,300 340,300 330,250"/><polygon points="345,175 395,200 380,215"/><polygon points="472,325 488,325 480,250"/><text x="40" y="125">H3C</text><text x="175" y="320">HO</text><text x="240" y="420">OH</text><text x="245" y="82">H</text><text x="290" y="345">CH2</text><text x="545" y="263">H</text><text x="470" y="355">H</text><text x="312" y="95">O</text><text x="50" y="272">O</text></g><g transform="translate(355.00,5.00) scale(0.08759)" fill="#e01010" font-size="40" font-family="Liberation Sans, sans-serif"><polygon points="472,145 488,145 482,70"/><text x="470" y="62">H</text><text x="550" y="158">OH</text></g>
<text x="412.30" y="24.92" font-size="5.9" text-anchor="start" fill="#ee2020">DON</text>
<g transform="translate(355.70,38.80) scale(0.08759)" stroke="#4a4a4a" stroke-width="6.9" fill="none" stroke-linejoin="round"><polygon points="135,145 195,105 255,140 255,215 195,250 130,215"/><polyline points="255,140 320,100 380,140 385,210 330,250 255,215"/><line x1="150" y1="152" x2="195" y2="123"/><polyline points="385,145 480,145 480,250 330,250"/><line x1="135" y1="145" x2="100" y2="118"/><line x1="130" y1="215" x2="80" y2="245"/><line x1="138" y1="228" x2="88" y2="258"/><line x1="255" y1="90" x2="255" y2="140"/><line x1="255" y1="215" x2="255" y2="385" stroke-dasharray="10 7"/><line x1="195" y1="250" x2="195" y2="290"/><line x1="480" y1="250" x2="540" y2="250" stroke-dasharray="10 7"/><line x1="480" y1="145" x2="540" y2="145" stroke-dasharray="10 7"/><line x1="345" y1="175" x2="395" y2="200"/><line x1="395" y1="200" x2="385" y2="215"/></g><g transform="translate(355.70,38.80) scale(0.08759)" fill="#4a4a4a" font-size="40" font-family="Liberation Sans, sans-serif"><polygon points="320,300 340,300 330,250"/><polygon points="345,175 395,200 380,215"/><polygon points="472,325 488,325 480,250"/><text x="40" y="125">H3C</text><text x="175" y="320">HO</text><text x="240" y="420">OH</text><text x="245" y="82">H</text><text x="290" y="345">CH2</text><text x="545" y="263">H</text><text x="470" y="355">H</text><text x="312" y="95">O</text><text x="50" y="272">O</text></g><g transform="translate(355.70,38.80) scale(0.08759)" fill="#e01010" font-size="40" font-family="Liberation Sans, sans-serif"><polygon points="472,145 488,145 482,70"/><text x="470" y="62">H</text><text x="550" y="158">OH</text></g>
<text x="412.30" y="56.72" font-size="5.9" text-anchor="start" fill="#ee2020">DON</text>
<g transform="translate(337.00,73.40) scale(0.08759)" stroke="#4a4a4a" stroke-width="6.9" fill="none" stroke-linejoin="round"><polygon points="135,145 195,105 255,140 255,215 195,250 130,215"/><polyline points="255,140 320,100 380,140 385,210 330,250 255,215"/><line x1="150" y1="152" x2="195" y2="123"/><polyline points="385,145 480,145 480,250 330,250"/><line x1="135" y1="145" x2="100" y2="118"/><line x1="130" y1="215" x2="80" y2="245"/><line x1="138" y1="228" x2="88" y2="258"/><line x1="255" y1="90" x2="255" y2="140"/><line x1="255" y1="215" x2="255" y2="385" stroke-dasharray="10 7"/><line x1="195" y1="250" x2="195" y2="290"/><line x1="480" y1="250" x2="540" y2="250" stroke-dasharray="10 7"/><line x1="480" y1="145" x2="540" y2="145" stroke-dasharray="10 7"/><line x1="345" y1="175" x2="395" y2="200"/><line x1="395" y1="200" x2="385" y2="215"/></g><g transform="translate(337.00,73.40) scale(0.08759)" fill="#4a4a4a" font-size="40" font-family="Liberation Sans, sans-serif"><polygon points="320,300 340,300 330,250"/><polygon points="345,175 395,200 380,215"/><polygon points="472,325 488,325 480,250"/><text x="40" y="125">H3C</text><text x="175" y="320">HO</text><text x="240" y="420">OH</text><text x="245" y="82">H</text><text x="290" y="345">CH2</text><text x="545" y="263">H</text><text x="470" y="355">H</text><text x="312" y="95">O</text><text x="50" y="272">O</text><polygon points="472,70 488,70 480,145"/><text x="470" y="62">H</text></g><g transform="translate(337.00,73.40) scale(0.08759)" fill="#30e0f0" font-size="40" font-family="Liberation Sans, sans-serif"><line x1="480" y1="145" x2="540" y2="80" stroke="#30e0f0" stroke-width="9"/><line x1="495" y1="158" x2="555" y2="93" stroke="#30e0f0" stroke-width="9"/></g>
<g transform="translate(389.20,73.40) scale(0.08759)" stroke="#4a4a4a" stroke-width="6.9" fill="none" stroke-linejoin="round"><polygon points="135,145 195,105 255,140 255,215 195,250 130,215"/><polyline points="255,140 320,100 380,140 385,210 330,250 255,215"/><line x1="150" y1="152" x2="195" y2="123"/><polyline points="385,145 480,145 480,250 330,250"/><line x1="135" y1="145" x2="100" y2="118"/><line x1="130" y1="215" x2="80" y2="245"/><line x1="138" y1="228" x2="88" y2="258"/><line x1="255" y1="90" x2="255" y2="140"/><line x1="255" y1="215" x2="255" y2="385" stroke-dasharray="10 7"/><line x1="195" y1="250" x2="195" y2="290"/><line x1="480" y1="250" x2="540" y2="250" stroke-dasharray="10 7"/><line x1="345" y1="175" x2="395" y2="200"/><line x1="395" y1="200" x2="385" y2="215"/></g><g transform="translate(389.20,73.40) scale(0.08759)" fill="#4a4a4a" font-size="40" font-family="Liberation Sans, sans-serif"><polygon points="320,300 340,300 330,250"/><polygon points="345,175 395,200 380,215"/><polygon points="472,325 488,325 480,250"/><text x="40" y="125">H3C</text><text x="175" y="320">HO</text><text x="240" y="420">OH</text><text x="245" y="82">H</text><text x="290" y="345">CH2</text><text x="545" y="263">H</text><text x="470" y="355">H</text><text x="312" y="95">O</text><text x="50" y="272">O</text></g><g transform="translate(389.20,73.40) scale(0.08759)" fill="#20c040" font-size="40" font-family="Liberation Sans, sans-serif"><polygon points="472,145 488,145 482,70" fill="#20c040"/><text x="462" y="62" fill="#20c040">OH</text><line x1="480" y1="145" x2="540" y2="145" stroke="#20c040" stroke-width="7" stroke-dasharray="10 7"/><text x="545" y="160" fill="#20c040">H</text></g>
<text x="363.70" y="110.12" font-size="5.9" text-anchor="start" fill="#30d8f0">3-keto-DON</text>
<text x="416.70" y="110.12" font-size="5.9" text-anchor="start" fill="#20b848">3-epi-DON</text>
<text x="368.50" y="134.03" font-size="8.7" text-anchor="start" fill="#111">ND</text>
<rect x="460" y="156" width="213" height="6.8" fill="#f9f9f9"/>
<text x="448.4" y="10.6" font-size="14.5" font-weight="bold" fill="#000">c</text>
<rect x="514.80" y="111.68" width="13.8" height="19.57" fill="#9a9c62"/>
<rect x="514.80" y="93.14" width="13.8" height="18.59" fill="#ee1660"/>
<rect x="514.80" y="90.45" width="13.8" height="2.73" fill="#0e9a80"/>
<rect x="514.80" y="58.00" width="13.8" height="32.50" fill="#3a4e8a"/>
<rect x="514.80" y="53.00" width="13.8" height="5.05" fill="#f29878"/>
<rect x="514.80" y="44.21" width="13.8" height="8.83" fill="#8090bc"/>
<rect x="514.80" y="30.79" width="13.8" height="13.47" fill="#22a8f2"/>
<rect x="514.80" y="24.57" width="13.8" height="6.27" fill="#7a5840"/>
<rect x="514.80" y="22.25" width="13.8" height="2.37" fill="#c88a84"/>
<rect x="514.80" y="18.11" width="13.8" height="4.20" fill="#2ab4b4"/>
<rect x="514.80" y="17.25" width="13.8" height="0.90" fill="#2a6e84"/>
<rect x="514.80" y="15.42" width="13.8" height="1.88" fill="#9a6a86"/>
<rect x="514.80" y="13.84" width="13.8" height="1.64" fill="#e88a5c"/>
<rect x="514.80" y="9.20" width="13.8" height="4.69" fill="#b8401e"/>
<rect x="548.20" y="95.45" width="13.8" height="35.80" fill="#9a9c62"/>
<rect x="548.20" y="69.83" width="13.8" height="25.67" fill="#ee1660"/>
<rect x="548.20" y="62.03" width="13.8" height="7.86" fill="#0e9a80"/>
<rect x="548.20" y="57.76" width="13.8" height="4.32" fill="#3a4e8a"/>
<rect x="548.20" y="48.97" width="13.8" height="8.83" fill="#f29878"/>
<rect x="548.20" y="36.89" width="13.8" height="12.13" fill="#8090bc"/>
<rect x="548.20" y="22.50" width="13.8" height="14.45" fill="#92d2c0"/>
<rect x="548.20" y="18.96" width="13.8" height="3.59" fill="#c88a84"/>
<rect x="548.20" y="17.74" width="13.8" height="1.27" fill="#2ab4b4"/>
<rect x="548.20" y="15.79" width="13.8" height="2.00" fill="#2a6e84"/>
<rect x="548.20" y="13.23" width="13.8" height="2.61" fill="#d8a2ac"/>
<rect x="548.20" y="9.20" width="13.8" height="4.08" fill="#b8401e"/>
<rect x="581.80" y="61.05" width="13.8" height="70.20" fill="#9a9c62"/>
<rect x="581.80" y="30.79" width="13.8" height="30.31" fill="#0e9a80"/>
<rect x="581.80" y="16.89" width="13.8" height="13.96" fill="#f29878"/>
<rect x="581.80" y="12.86" width="13.8" height="4.08" fill="#d2d2d2"/>
<rect x="581.80" y="10.91" width="13.8" height="2.00" fill="#2a6e84"/>
<rect x="581.80" y="9.69" width="13.8" height="1.27" fill="#94b8cc"/>
<rect x="581.80" y="9.20" width="13.8" height="0.54" fill="#b8401e"/>
<line x1="505.00" y1="8.60" x2="505.00" y2="131.60" stroke="#333" stroke-width="0.8"/>
<line x1="504.60" y1="131.20" x2="605.30" y2="131.20" stroke="#333" stroke-width="0.8"/>
<line x1="502.70" y1="131.20" x2="505.00" y2="131.20" stroke="#333" stroke-width="0.7"/>
<text x="501.70" y="133.58" font-size="6.6" text-anchor="end" fill="#222">0</text>
<line x1="502.70" y1="106.80" x2="505.00" y2="106.80" stroke="#333" stroke-width="0.7"/>
<text x="501.70" y="109.18" font-size="6.6" text-anchor="end" fill="#222">0.2</text>
<line x1="502.70" y1="82.40" x2="505.00" y2="82.40" stroke="#333" stroke-width="0.7"/>
<text x="501.70" y="84.78" font-size="6.6" text-anchor="end" fill="#222">0.4</text>
<line x1="502.70" y1="58.00" x2="505.00" y2="58.00" stroke="#333" stroke-width="0.7"/>
<text x="501.70" y="60.38" font-size="6.6" text-anchor="end" fill="#222">0.6</text>
<line x1="502.70" y1="33.60" x2="505.00" y2="33.60" stroke="#333" stroke-width="0.7"/>
<text x="501.70" y="35.98" font-size="6.6" text-anchor="end" fill="#222">0.8</text>
<line x1="502.70" y1="9.20" x2="505.00" y2="9.20" stroke="#333" stroke-width="0.7"/>
<text x="501.70" y="11.58" font-size="6.6" text-anchor="end" fill="#222">1</text>
<line x1="503.60" y1="119.00" x2="505.00" y2="119.00" stroke="#333" stroke-width="0.6"/>
<line x1="503.60" y1="94.60" x2="505.00" y2="94.60" stroke="#333" stroke-width="0.6"/>
<line x1="503.60" y1="70.20" x2="505.00" y2="70.20" stroke="#333" stroke-width="0.6"/>
<line x1="503.60" y1="45.80" x2="505.00" y2="45.80" stroke="#333" stroke-width="0.6"/>
<line x1="503.60" y1="21.40" x2="505.00" y2="21.40" stroke="#333" stroke-width="0.6"/>
<line x1="521.70" y1="131.20" x2="521.70" y2="133.50" stroke="#333" stroke-width="0.7"/>
<line x1="555.10" y1="131.20" x2="555.10" y2="133.50" stroke="#333" stroke-width="0.7"/>
<line x1="588.70" y1="131.20" x2="588.70" y2="133.50" stroke="#333" stroke-width="0.7"/>
<text transform="translate(486.3,69.5) rotate(-90)" font-size="6.1" text-anchor="middle" fill="#222">Percent of community abundance on genus level</text>
<text x="504.60" y="144.43" font-size="6.2" text-anchor="end" fill="#222">Antibiotics</text>
<text x="521.80" y="144.43" font-size="6.2" text-anchor="middle" fill="#222">–</text>
<text x="555.50" y="144.43" font-size="6.2" text-anchor="middle" fill="#222">PenG</text>
<text x="588.20" y="144.43" font-size="6.2" text-anchor="middle" fill="#222">Ery</text>
<text x="490.20" y="152.83" font-size="6.2" text-anchor="middle" fill="#222">DON-degradation</text>
<text x="490.20" y="159.23" font-size="6.2" text-anchor="middle" fill="#222">activity</text>
<text x="521.80" y="153.03" font-size="6.2" text-anchor="middle" fill="#222">+</text>
<text x="553.00" y="153.03" font-size="6.2" text-anchor="middle" fill="#222">++</text>
<text x="588.50" y="153.03" font-size="6.2" text-anchor="middle" fill="#222">ND</text>
<rect x="615.0" y="3.35" width="5.3" height="5.3" fill="#9a9c62"/>
<text x="622.20" y="7.94" font-size="5.4" text-anchor="start" fill="#222">Ochrobactrum</text>
<rect x="615.0" y="10.55" width="5.3" height="5.3" fill="#ee1660"/>
<text x="622.20" y="15.14" font-size="5.4" text-anchor="start" fill="#222">Nocardioides</text>
<rect x="615.0" y="17.75" width="5.3" height="5.3" fill="#0e9a80"/>
<text x="622.20" y="22.34" font-size="5.4" text-anchor="start" fill="#222">Comamonas</text>
<rect x="615.0" y="24.95" width="5.3" height="5.3" fill="#3a4e8a"/>
<text x="622.20" y="29.54" font-size="5.4" text-anchor="start" fill="#222">Sphingopyxis</text>
<rect x="615.0" y="32.15" width="5.3" height="5.3" fill="#f29878"/>
<text x="622.20" y="36.74" font-size="5.4" text-anchor="start" fill="#222">Achromobacter</text>
<rect x="615.0" y="39.35" width="5.3" height="5.3" fill="#8090bc"/>
<text x="622.20" y="43.94" font-size="5.4" text-anchor="start" fill="#222">Pseudoxanthomonas</text>
<rect x="615.0" y="46.55" width="5.3" height="5.3" fill="#92d2c0"/>
<text x="622.20" y="51.14" font-size="5.4" text-anchor="start" fill="#222">Ramlibacter</text>
<rect x="615.0" y="53.75" width="5.3" height="5.3" fill="#22a8f2"/>
<text x="622.20" y="58.34" font-size="5.4" text-anchor="start" fill="#222">Pseudomonas</text>
<rect x="615.0" y="60.95" width="5.3" height="5.3" fill="#7a5840"/>
<text x="622.20" y="65.54" font-size="5.4" text-anchor="start" fill="#222">Rhodococcus</text>
<rect x="615.0" y="68.15" width="5.3" height="5.3" fill="#d2d2d2"/>
<text x="622.20" y="72.74" font-size="5.4" text-anchor="start" fill="#222">Shinella</text>
<rect x="615.0" y="75.35" width="5.3" height="5.3" fill="#c88a84"/>
<text x="622.20" y="79.94" font-size="5.4" text-anchor="start" fill="#222">Caulobacter</text>
<rect x="615.0" y="82.55" width="5.3" height="5.3" fill="#2ab4b4"/>
<text x="622.20" y="87.14" font-size="5.4" text-anchor="start" fill="#222">Rhodopseudomonas</text>
<rect x="615.0" y="89.75" width="5.3" height="5.3" fill="#2a6e84"/>
<text x="622.20" y="94.34" font-size="5.4" text-anchor="start" fill="#222">Stenotrophomonas</text>
<rect x="615.0" y="96.95" width="5.3" height="5.3" fill="#9a6a86"/>
<text x="622.20" y="101.54" font-size="5.4" text-anchor="start" fill="#222">Reyranella</text>
<rect x="615.0" y="104.15" width="5.3" height="5.3" fill="#d8a2ac"/>
<text x="622.20" y="108.74" font-size="5.4" text-anchor="start" fill="#222">Bosea</text>
<rect x="615.0" y="111.35" width="5.3" height="5.3" fill="#94b8cc"/>
<text x="622.20" y="115.94" font-size="5.4" text-anchor="start" fill="#222">Allorhizobium</text>
<rect x="615.0" y="118.55" width="5.3" height="5.3" fill="#e88a5c"/>
<text x="622.20" y="123.14" font-size="5.4" text-anchor="start" fill="#222">Pseudarthrobacter</text>
<rect x="615.0" y="125.75" width="5.3" height="5.3" fill="#b8401e"/>
<text x="622.20" y="130.34" font-size="5.4" text-anchor="start" fill="#222">others</text>
<text x="-0.8" y="189.6" font-size="14.5" font-weight="bold" fill="#000">d</text>
<line x1="68.70" y1="188.90" x2="75.30" y2="188.90" stroke="#3c3c3c" stroke-width="0.8"/>
<line x1="68.30" y1="197.05" x2="76.20" y2="197.05" stroke="#a8a8a8" stroke-width="0.8"/>
<line x1="66.60" y1="205.54" x2="78.30" y2="205.54" stroke="#3c3c3c" stroke-width="0.8"/>
<line x1="64.80" y1="213.99" x2="79.70" y2="213.99" stroke="#3c3c3c" stroke-width="0.8"/>
<line x1="64.80" y1="222.48" x2="85.00" y2="222.48" stroke="#a8a8a8" stroke-width="0.8"/>
<line x1="48.20" y1="230.43" x2="71.00" y2="230.43" stroke="#3c3c3c" stroke-width="0.8"/>
<line x1="48.20" y1="238.57" x2="85.00" y2="238.57" stroke="#3c3c3c" stroke-width="0.8"/>
<line x1="37.60" y1="246.87" x2="64.00" y2="246.87" stroke="#3c3c3c" stroke-width="0.8"/>
<line x1="43.40" y1="255.16" x2="78.80" y2="255.16" stroke="#3c3c3c" stroke-width="0.8"/>
<line x1="60.50" y1="263.80" x2="73.30" y2="263.80" stroke="#a8a8a8" stroke-width="0.8"/>
<line x1="60.50" y1="272.30" x2="92.50" y2="272.30" stroke="#3c3c3c" stroke-width="0.8"/>
<line x1="11.90" y1="280.75" x2="33.90" y2="280.75" stroke="#3c3c3c" stroke-width="0.8"/>
<line x1="37.60" y1="289.04" x2="62.30" y2="289.04" stroke="#a8a8a8" stroke-width="0.8"/>
<line x1="41.80" y1="297.03" x2="66.90" y2="297.03" stroke="#a8a8a8" stroke-width="0.8"/>
<line x1="41.80" y1="304.98" x2="77.90" y2="304.98" stroke="#3c3c3c" stroke-width="0.8"/>
<line x1="7.30" y1="313.12" x2="105.30" y2="313.12" stroke="#3c3c3c" stroke-width="0.8"/>
<line x1="68.50" y1="188.50" x2="68.50" y2="197.45" stroke="#a8a8a8" stroke-width="0.8"/>
<line x1="66.60" y1="192.97" x2="68.50" y2="192.97" stroke="#a8a8a8" stroke-width="0.8"/>
<line x1="66.60" y1="192.57" x2="66.60" y2="205.94" stroke="#3c3c3c" stroke-width="0.8"/>
<line x1="64.80" y1="213.59" x2="64.80" y2="222.88" stroke="#3c3c3c" stroke-width="0.8"/>
<line x1="61.30" y1="218.23" x2="64.80" y2="218.23" stroke="#a8a8a8" stroke-width="0.8"/>
<line x1="61.30" y1="199.26" x2="66.60" y2="199.26" stroke="#a8a8a8" stroke-width="0.8"/>
<line x1="61.30" y1="198.86" x2="61.30" y2="218.63" stroke="#a8a8a8" stroke-width="0.8"/>
<line x1="48.20" y1="230.03" x2="48.20" y2="238.97" stroke="#3c3c3c" stroke-width="0.8"/>
<line x1="42.60" y1="234.50" x2="48.20" y2="234.50" stroke="#a8a8a8" stroke-width="0.8"/>
<line x1="42.60" y1="208.74" x2="61.30" y2="208.74" stroke="#3c3c3c" stroke-width="0.8"/>
<line x1="42.60" y1="208.34" x2="42.60" y2="234.90" stroke="#3c3c3c" stroke-width="0.8"/>
<line x1="60.50" y1="263.40" x2="60.50" y2="272.70" stroke="#3c3c3c" stroke-width="0.8"/>
<line x1="43.40" y1="268.05" x2="60.50" y2="268.05" stroke="#a8a8a8" stroke-width="0.8"/>
<line x1="43.40" y1="254.76" x2="43.40" y2="268.45" stroke="#3c3c3c" stroke-width="0.8"/>
<line x1="37.60" y1="261.61" x2="43.40" y2="261.61" stroke="#3c3c3c" stroke-width="0.8"/>
<line x1="37.60" y1="246.47" x2="37.60" y2="262.01" stroke="#3c3c3c" stroke-width="0.8"/>
<line x1="28.40" y1="254.24" x2="37.60" y2="254.24" stroke="#3c3c3c" stroke-width="0.8"/>
<line x1="28.40" y1="221.62" x2="42.60" y2="221.62" stroke="#3c3c3c" stroke-width="0.8"/>
<line x1="28.40" y1="221.22" x2="28.40" y2="254.64" stroke="#3c3c3c" stroke-width="0.8"/>
<line x1="7.30" y1="237.93" x2="28.40" y2="237.93" stroke="#a8a8a8" stroke-width="0.8"/>
<line x1="41.80" y1="296.63" x2="41.80" y2="305.38" stroke="#3c3c3c" stroke-width="0.8"/>
<line x1="37.60" y1="301.01" x2="41.80" y2="301.01" stroke="#3c3c3c" stroke-width="0.8"/>
<line x1="37.60" y1="288.64" x2="37.60" y2="301.41" stroke="#3c3c3c" stroke-width="0.8"/>
<line x1="11.90" y1="295.02" x2="37.60" y2="295.02" stroke="#a8a8a8" stroke-width="0.8"/>
<line x1="11.90" y1="280.35" x2="11.90" y2="295.42" stroke="#a8a8a8" stroke-width="0.8"/>
<line x1="7.30" y1="287.88" x2="11.90" y2="287.88" stroke="#3c3c3c" stroke-width="0.8"/>
<line x1="7.30" y1="237.53" x2="7.30" y2="280.28" stroke="#a8a8a8" stroke-width="0.8"/>
<line x1="7.30" y1="279.48" x2="7.30" y2="313.52" stroke="#3c3c3c" stroke-width="0.8"/>
<text x="64.80" y="192.46" font-size="4.6" text-anchor="middle" fill="#555">58</text>
<text x="63.40" y="199.06" font-size="4.6" text-anchor="middle" fill="#555">88</text>
<text x="57.50" y="208.16" font-size="4.6" text-anchor="middle" fill="#555">98</text>
<text x="40.00" y="221.36" font-size="4.6" text-anchor="middle" fill="#555">90</text>
<text x="45.60" y="233.26" font-size="4.6" text-anchor="middle" fill="#555">74</text>
<text x="24.50" y="237.06" font-size="4.6" text-anchor="middle" fill="#555">93</text>
<text x="33.90" y="253.96" font-size="4.6" text-anchor="middle" fill="#555">61</text>
<text x="40.30" y="261.46" font-size="4.6" text-anchor="middle" fill="#555">62</text>
<text x="55.90" y="268.26" font-size="4.6" text-anchor="middle" fill="#555">98</text>
<text x="9.20" y="287.46" font-size="4.6" text-anchor="middle" fill="#555">51</text>
<text x="32.00" y="295.16" font-size="4.6" text-anchor="middle" fill="#555">95</text>
<text x="38.50" y="305.66" font-size="4.6" text-anchor="middle" fill="#555">61</text>
<text x="76.20" y="191.51" font-size="7.25" text-anchor="start" fill="#ee1c1c" font-weight="bold"><tspan font-style="italic">Nocardioides</tspan> sp. S5-5</text>
<text x="77.90" y="199.64" font-size="7.2" text-anchor="start" fill="#222"><tspan font-style="italic">N. convexus</tspan> W3-2-3<tspan font-size="4" dy="-2.4">T</tspan><tspan dy="2.4"> </tspan>(MK788341)</text>
<text x="79.40" y="208.13" font-size="7.2" text-anchor="start" fill="#222"><tspan font-style="italic">N. albidus</tspan> THG-S117<tspan font-size="4" dy="-2.4">T</tspan><tspan dy="2.4"> </tspan>(KM073954)</text>
<text x="81.10" y="216.58" font-size="7.2" text-anchor="start" fill="#222"><tspan font-style="italic">N. caeni</tspan> MN8<tspan font-size="4" dy="-2.4">T</tspan><tspan dy="2.4"> </tspan>(FJ423551)</text>
<text x="95.50" y="225.07" font-size="7.2" text-anchor="start" fill="#222"><tspan font-style="italic">N. carbamazepini</tspan> CBZ-1<tspan font-size="4" dy="-2.4">T</tspan><tspan dy="2.4"> </tspan>(MZ408918)</text>
<text x="72.40" y="233.02" font-size="7.2" text-anchor="start" fill="#222"><tspan font-style="italic">Nocardioides</tspan> sp. ZHH-013 (MW493343)</text>
<text x="85.60" y="241.16" font-size="7.2" text-anchor="start" fill="#222"><tspan font-style="italic">N. vastitatis</tspan> 21Sc5-5<tspan font-size="4" dy="-2.4">T</tspan><tspan dy="2.4"> </tspan>(MK787305)</text>
<text x="65.50" y="249.46" font-size="7.2" text-anchor="start" fill="#222"><tspan font-style="italic">N. antri</tspan> BN140041<tspan font-size="4" dy="-2.4">T</tspan><tspan dy="2.4"> </tspan>(MG063194)</text>
<text x="79.90" y="257.75" font-size="7.2" text-anchor="start" fill="#222"><tspan font-style="italic">N. silvaticus</tspan> KCTC49137<tspan font-size="4" dy="-2.4">T</tspan><tspan dy="2.4"> </tspan>(MH341589)</text>
<text x="74.10" y="266.40" font-size="7.2" text-anchor="start" fill="#222"><tspan font-style="italic">N. pelophilus</tspan> THG-T63<tspan font-size="4" dy="-2.4">T</tspan><tspan dy="2.4"> </tspan>(KY287247)</text>
<text x="94.70" y="274.89" font-size="7.2" text-anchor="start" fill="#222"><tspan font-style="italic">N. humilatus</tspan> BN130099<tspan font-size="4" dy="-2.4">T</tspan><tspan dy="2.4"> </tspan>(MG063192)</text>
<text x="35.70" y="283.34" font-size="7.2" text-anchor="start" fill="#222"><tspan font-style="italic">N. aestuarii</tspan> JC2056<tspan font-size="4" dy="-2.4">T</tspan><tspan dy="2.4"> </tspan>(JQ899220)</text>
<text x="64.20" y="291.63" font-size="7.2" text-anchor="start" fill="#222"><tspan font-style="italic">N. opuntiae</tspan> OS1-21<tspan font-size="4" dy="-2.4">T</tspan><tspan dy="2.4"> </tspan>(FN178400)</text>
<text x="68.20" y="299.63" font-size="7.2" text-anchor="start" fill="#222"><tspan font-style="italic">Nocardioides</tspan> sp. WSN05-2 (AB282680)</text>
<text x="79.10" y="307.57" font-size="7.2" text-anchor="start" fill="#222"><tspan font-style="italic">N. terrae</tspan> VA15<tspan font-size="4" dy="-2.4">T</tspan><tspan dy="2.4"> </tspan>(FJ423762)</text>
<text x="105.90" y="315.72" font-size="7.2" text-anchor="start" fill="#222"><tspan font-style="italic">N. plantarum</tspan> NCIMB12834<tspan font-size="4" dy="-2.4">T</tspan><tspan dy="2.4"> </tspan>(X69973)</text>
<text x="9.40" y="322.49" font-size="5.8" text-anchor="start" fill="#444">0.005</text>
<line x1="9.20" y1="324.00" x2="24.20" y2="324.00" stroke="#666" stroke-width="0.6"/>
<text x="240.1" y="189.7" font-size="14.5" font-weight="bold" fill="#000">e</text>
<line x1="279.90" y1="206.60" x2="279.90" y2="313.70" stroke="#444" stroke-width="1.0"/>
<line x1="279.50" y1="313.30" x2="437.90" y2="313.30" stroke="#444" stroke-width="1.0"/>
<line x1="275.70" y1="313.30" x2="279.90" y2="313.30" stroke="#444" stroke-width="0.9"/>
<text x="274.30" y="316.90" font-size="8.6" text-anchor="end" fill="#222">0.00</text>
<line x1="275.70" y1="292.00" x2="279.90" y2="292.00" stroke="#444" stroke-width="0.9"/>
<text x="274.30" y="295.60" font-size="8.6" text-anchor="end" fill="#222">0.02</text>
<line x1="275.70" y1="270.70" x2="279.90" y2="270.70" stroke="#444" stroke-width="0.9"/>
<text x="274.30" y="274.30" font-size="8.6" text-anchor="end" fill="#222">0.04</text>
<line x1="275.70" y1="249.40" x2="279.90" y2="249.40" stroke="#444" stroke-width="0.9"/>
<text x="274.30" y="253.00" font-size="8.6" text-anchor="end" fill="#222">0.06</text>
<line x1="275.70" y1="228.10" x2="279.90" y2="228.10" stroke="#444" stroke-width="0.9"/>
<text x="274.30" y="231.70" font-size="8.6" text-anchor="end" fill="#222">0.08</text>
<line x1="275.70" y1="206.80" x2="279.90" y2="206.80" stroke="#444" stroke-width="0.9"/>
<text x="274.30" y="210.40" font-size="8.6" text-anchor="end" fill="#222">0.10</text>
<line x1="279.90" y1="313.30" x2="279.90" y2="316.90" stroke="#444" stroke-width="0.9"/>
<text x="279.90" y="327.30" font-size="8.6" text-anchor="middle" fill="#222">0</text>
<line x1="293.05" y1="313.30" x2="293.05" y2="315.30" stroke="#444" stroke-width="0.7"/>
<line x1="306.20" y1="313.30" x2="306.20" y2="316.90" stroke="#444" stroke-width="0.9"/>
<text x="306.20" y="327.30" font-size="8.6" text-anchor="middle" fill="#222">24</text>
<line x1="319.35" y1="313.30" x2="319.35" y2="315.30" stroke="#444" stroke-width="0.7"/>
<line x1="332.50" y1="313.30" x2="332.50" y2="316.90" stroke="#444" stroke-width="0.9"/>
<text x="332.50" y="327.30" font-size="8.6" text-anchor="middle" fill="#222">48</text>
<line x1="345.65" y1="313.30" x2="345.65" y2="315.30" stroke="#444" stroke-width="0.7"/>
<line x1="358.80" y1="313.30" x2="358.80" y2="316.90" stroke="#444" stroke-width="0.9"/>
<text x="358.80" y="327.30" font-size="8.6" text-anchor="middle" fill="#222">72</text>
<line x1="371.95" y1="313.30" x2="371.95" y2="315.30" stroke="#444" stroke-width="0.7"/>
<line x1="385.10" y1="313.30" x2="385.10" y2="316.90" stroke="#444" stroke-width="0.9"/>
<text x="385.10" y="327.30" font-size="8.6" text-anchor="middle" fill="#222">96</text>
<line x1="398.25" y1="313.30" x2="398.25" y2="315.30" stroke="#444" stroke-width="0.7"/>
<line x1="411.40" y1="313.30" x2="411.40" y2="316.90" stroke="#444" stroke-width="0.9"/>
<text x="411.40" y="327.30" font-size="8.6" text-anchor="middle" fill="#222">120</text>
<line x1="424.55" y1="313.30" x2="424.55" y2="315.30" stroke="#444" stroke-width="0.7"/>
<line x1="437.70" y1="313.30" x2="437.70" y2="316.90" stroke="#444" stroke-width="0.9"/>
<text x="437.70" y="327.30" font-size="8.6" text-anchor="middle" fill="#222">144</text>
<text x="359.30" y="339.33" font-size="8.7" text-anchor="middle" fill="#222">Time (h)</text>
<text transform="translate(250.6,258.6) rotate(-90)" font-size="9.1" text-anchor="middle" fill="#222">Growth (OD<tspan font-size="6.2" dy="2.0">600</tspan><tspan dy="-2.0">)</tspan></text>
<polyline points="279.90,300.52 306.20,305.63 332.50,305.63 358.80,301.59 385.10,304.57 425.65,301.59" fill="none" stroke="#222222" stroke-width="0.9" stroke-linejoin="round"/>
<line x1="279.90" y1="299.45" x2="279.90" y2="301.58" stroke="#222222" stroke-width="0.8"/>
<line x1="278.40" y1="299.45" x2="281.40" y2="299.45" stroke="#222222" stroke-width="0.8"/>
<line x1="278.40" y1="301.58" x2="281.40" y2="301.58" stroke="#222222" stroke-width="0.8"/>
<circle cx="279.90" cy="300.52" r="2.5" fill="#222222"/>
<line x1="306.20" y1="303.50" x2="306.20" y2="307.76" stroke="#222222" stroke-width="0.8"/>
<line x1="304.70" y1="303.50" x2="307.70" y2="303.50" stroke="#222222" stroke-width="0.8"/>
<line x1="304.70" y1="307.76" x2="307.70" y2="307.76" stroke="#222222" stroke-width="0.8"/>
<circle cx="306.20" cy="305.63" r="2.5" fill="#222222"/>
<line x1="332.50" y1="304.03" x2="332.50" y2="307.23" stroke="#222222" stroke-width="0.8"/>
<line x1="331.00" y1="304.03" x2="334.00" y2="304.03" stroke="#222222" stroke-width="0.8"/>
<line x1="331.00" y1="307.23" x2="334.00" y2="307.23" stroke="#222222" stroke-width="0.8"/>
<circle cx="332.50" cy="305.63" r="2.5" fill="#222222"/>
<line x1="358.80" y1="299.46" x2="358.80" y2="303.72" stroke="#222222" stroke-width="0.8"/>
<line x1="357.30" y1="299.46" x2="360.30" y2="299.46" stroke="#222222" stroke-width="0.8"/>
<line x1="357.30" y1="303.72" x2="360.30" y2="303.72" stroke="#222222" stroke-width="0.8"/>
<circle cx="358.80" cy="301.59" r="2.5" fill="#222222"/>
<line x1="385.10" y1="302.97" x2="385.10" y2="306.16" stroke="#222222" stroke-width="0.8"/>
<line x1="383.60" y1="302.97" x2="386.60" y2="302.97" stroke="#222222" stroke-width="0.8"/>
<line x1="383.60" y1="306.16" x2="386.60" y2="306.16" stroke="#222222" stroke-width="0.8"/>
<circle cx="385.10" cy="304.57" r="2.5" fill="#222222"/>
<line x1="425.65" y1="300.52" x2="425.65" y2="302.65" stroke="#222222" stroke-width="0.8"/>
<line x1="424.15" y1="300.52" x2="427.15" y2="300.52" stroke="#222222" stroke-width="0.8"/>
<line x1="424.15" y1="302.65" x2="427.15" y2="302.65" stroke="#222222" stroke-width="0.8"/>
<circle cx="425.65" cy="301.59" r="2.5" fill="#222222"/>
<polyline points="279.90,300.52 306.20,305.63 332.50,306.70 358.80,297.11 385.10,295.73 425.65,295.73" fill="none" stroke="#8ad4f4" stroke-width="0.9" stroke-linejoin="round"/>
<line x1="279.90" y1="299.45" x2="279.90" y2="301.58" stroke="#8ad4f4" stroke-width="0.8"/>
<line x1="278.40" y1="299.45" x2="281.40" y2="299.45" stroke="#8ad4f4" stroke-width="0.8"/>
<line x1="278.40" y1="301.58" x2="281.40" y2="301.58" stroke="#8ad4f4" stroke-width="0.8"/>
<circle cx="279.90" cy="300.52" r="2.5" fill="#8ad4f4"/>
<line x1="306.20" y1="304.57" x2="306.20" y2="306.70" stroke="#8ad4f4" stroke-width="0.8"/>
<line x1="304.70" y1="304.57" x2="307.70" y2="304.57" stroke="#8ad4f4" stroke-width="0.8"/>
<line x1="304.70" y1="306.70" x2="307.70" y2="306.70" stroke="#8ad4f4" stroke-width="0.8"/>
<circle cx="306.20" cy="305.63" r="2.5" fill="#8ad4f4"/>
<line x1="332.50" y1="304.57" x2="332.50" y2="308.83" stroke="#8ad4f4" stroke-width="0.8"/>
<line x1="331.00" y1="304.57" x2="334.00" y2="304.57" stroke="#8ad4f4" stroke-width="0.8"/>
<line x1="331.00" y1="308.83" x2="334.00" y2="308.83" stroke="#8ad4f4" stroke-width="0.8"/>
<circle cx="332.50" cy="306.70" r="2.5" fill="#8ad4f4"/>
<line x1="358.80" y1="295.51" x2="358.80" y2="298.71" stroke="#8ad4f4" stroke-width="0.8"/>
<line x1="357.30" y1="295.51" x2="360.30" y2="295.51" stroke="#8ad4f4" stroke-width="0.8"/>
<line x1="357.30" y1="298.71" x2="360.30" y2="298.71" stroke="#8ad4f4" stroke-width="0.8"/>
<circle cx="358.80" cy="297.11" r="2.5" fill="#8ad4f4"/>
<line x1="385.10" y1="294.66" x2="385.10" y2="296.79" stroke="#8ad4f4" stroke-width="0.8"/>
<line x1="383.60" y1="294.66" x2="386.60" y2="294.66" stroke="#8ad4f4" stroke-width="0.8"/>
<line x1="383.60" y1="296.79" x2="386.60" y2="296.79" stroke="#8ad4f4" stroke-width="0.8"/>
<circle cx="385.10" cy="295.73" r="2.5" fill="#8ad4f4"/>
<line x1="425.65" y1="294.66" x2="425.65" y2="296.79" stroke="#8ad4f4" stroke-width="0.8"/>
<line x1="424.15" y1="294.66" x2="427.15" y2="294.66" stroke="#8ad4f4" stroke-width="0.8"/>
<line x1="424.15" y1="296.79" x2="427.15" y2="296.79" stroke="#8ad4f4" stroke-width="0.8"/>
<circle cx="425.65" cy="295.73" r="2.5" fill="#8ad4f4"/>
<polyline points="279.90,300.52 306.20,298.92 332.50,278.37 358.80,285.82 385.10,286.68 425.65,284.76" fill="none" stroke="#1a9a92" stroke-width="0.9" stroke-linejoin="round"/>
<line x1="279.90" y1="299.45" x2="279.90" y2="301.58" stroke="#1a9a92" stroke-width="0.8"/>
<line x1="278.40" y1="299.45" x2="281.40" y2="299.45" stroke="#1a9a92" stroke-width="0.8"/>
<line x1="278.40" y1="301.58" x2="281.40" y2="301.58" stroke="#1a9a92" stroke-width="0.8"/>
<circle cx="279.90" cy="300.52" r="2.5" fill="#1a9a92"/>
<line x1="306.20" y1="296.79" x2="306.20" y2="301.05" stroke="#1a9a92" stroke-width="0.8"/>
<line x1="304.70" y1="296.79" x2="307.70" y2="296.79" stroke="#1a9a92" stroke-width="0.8"/>
<line x1="304.70" y1="301.05" x2="307.70" y2="301.05" stroke="#1a9a92" stroke-width="0.8"/>
<circle cx="306.20" cy="298.92" r="2.5" fill="#1a9a92"/>
<line x1="332.50" y1="275.17" x2="332.50" y2="281.56" stroke="#1a9a92" stroke-width="0.8"/>
<line x1="331.00" y1="275.17" x2="334.00" y2="275.17" stroke="#1a9a92" stroke-width="0.8"/>
<line x1="331.00" y1="281.56" x2="334.00" y2="281.56" stroke="#1a9a92" stroke-width="0.8"/>
<circle cx="332.50" cy="278.37" r="2.5" fill="#1a9a92"/>
<line x1="358.80" y1="283.69" x2="358.80" y2="287.95" stroke="#1a9a92" stroke-width="0.8"/>
<line x1="357.30" y1="283.69" x2="360.30" y2="283.69" stroke="#1a9a92" stroke-width="0.8"/>
<line x1="357.30" y1="287.95" x2="360.30" y2="287.95" stroke="#1a9a92" stroke-width="0.8"/>
<circle cx="358.80" cy="285.82" r="2.5" fill="#1a9a92"/>
<line x1="385.10" y1="284.55" x2="385.10" y2="288.81" stroke="#1a9a92" stroke-width="0.8"/>
<line x1="383.60" y1="284.55" x2="386.60" y2="284.55" stroke="#1a9a92" stroke-width="0.8"/>
<line x1="383.60" y1="288.81" x2="386.60" y2="288.81" stroke="#1a9a92" stroke-width="0.8"/>
<circle cx="385.10" cy="286.68" r="2.5" fill="#1a9a92"/>
<line x1="425.65" y1="282.10" x2="425.65" y2="287.42" stroke="#1a9a92" stroke-width="0.8"/>
<line x1="424.15" y1="282.10" x2="427.15" y2="282.10" stroke="#1a9a92" stroke-width="0.8"/>
<line x1="424.15" y1="287.42" x2="427.15" y2="287.42" stroke="#1a9a92" stroke-width="0.8"/>
<circle cx="425.65" cy="284.76" r="2.5" fill="#1a9a92"/>
<polyline points="279.90,300.52 306.20,294.34 332.50,276.02 358.80,274.43 385.10,267.29 425.65,233.64" fill="none" stroke="#ec4b9c" stroke-width="0.9" stroke-linejoin="round"/>
<line x1="279.90" y1="299.45" x2="279.90" y2="301.58" stroke="#ec4b9c" stroke-width="0.8"/>
<line x1="278.40" y1="299.45" x2="281.40" y2="299.45" stroke="#ec4b9c" stroke-width="0.8"/>
<line x1="278.40" y1="301.58" x2="281.40" y2="301.58" stroke="#ec4b9c" stroke-width="0.8"/>
<circle cx="279.90" cy="300.52" r="2.5" fill="#ec4b9c"/>
<line x1="306.20" y1="292.21" x2="306.20" y2="296.47" stroke="#ec4b9c" stroke-width="0.8"/>
<line x1="304.70" y1="292.21" x2="307.70" y2="292.21" stroke="#ec4b9c" stroke-width="0.8"/>
<line x1="304.70" y1="296.47" x2="307.70" y2="296.47" stroke="#ec4b9c" stroke-width="0.8"/>
<circle cx="306.20" cy="294.34" r="2.5" fill="#ec4b9c"/>
<line x1="332.50" y1="273.89" x2="332.50" y2="278.15" stroke="#ec4b9c" stroke-width="0.8"/>
<line x1="331.00" y1="273.89" x2="334.00" y2="273.89" stroke="#ec4b9c" stroke-width="0.8"/>
<line x1="331.00" y1="278.15" x2="334.00" y2="278.15" stroke="#ec4b9c" stroke-width="0.8"/>
<circle cx="332.50" cy="276.02" r="2.5" fill="#ec4b9c"/>
<line x1="358.80" y1="271.76" x2="358.80" y2="277.09" stroke="#ec4b9c" stroke-width="0.8"/>
<line x1="357.30" y1="271.76" x2="360.30" y2="271.76" stroke="#ec4b9c" stroke-width="0.8"/>
<line x1="357.30" y1="277.09" x2="360.30" y2="277.09" stroke="#ec4b9c" stroke-width="0.8"/>
<circle cx="358.80" cy="274.43" r="2.5" fill="#ec4b9c"/>
<line x1="385.10" y1="259.30" x2="385.10" y2="275.28" stroke="#ec4b9c" stroke-width="0.8"/>
<line x1="383.60" y1="259.30" x2="386.60" y2="259.30" stroke="#ec4b9c" stroke-width="0.8"/>
<line x1="383.60" y1="275.28" x2="386.60" y2="275.28" stroke="#ec4b9c" stroke-width="0.8"/>
<circle cx="385.10" cy="267.29" r="2.5" fill="#ec4b9c"/>
<line x1="425.65" y1="230.44" x2="425.65" y2="236.83" stroke="#ec4b9c" stroke-width="0.8"/>
<line x1="424.15" y1="230.44" x2="427.15" y2="230.44" stroke="#ec4b9c" stroke-width="0.8"/>
<line x1="424.15" y1="236.83" x2="427.15" y2="236.83" stroke="#ec4b9c" stroke-width="0.8"/>
<circle cx="425.65" cy="233.64" r="2.5" fill="#ec4b9c"/>
<line x1="286.40" y1="202.90" x2="297.00" y2="202.90" stroke="#ec4b9c" stroke-width="0.9"/>
<circle cx="291.8" cy="202.90" r="2.5" fill="#ec4b9c"/>
<text x="303.60" y="205.96" font-size="8.5" text-anchor="start" fill="#222">1000 µM</text>
<line x1="286.40" y1="212.85" x2="297.00" y2="212.85" stroke="#1a9a92" stroke-width="0.9"/>
<circle cx="291.8" cy="212.85" r="2.5" fill="#1a9a92"/>
<text x="303.60" y="215.91" font-size="8.5" text-anchor="start" fill="#222">100 µM</text>
<line x1="286.40" y1="222.80" x2="297.00" y2="222.80" stroke="#8ad4f4" stroke-width="0.9"/>
<circle cx="291.8" cy="222.80" r="2.5" fill="#8ad4f4"/>
<text x="303.60" y="225.86" font-size="8.5" text-anchor="start" fill="#222">10 µM</text>
<line x1="286.40" y1="232.75" x2="297.00" y2="232.75" stroke="#111111" stroke-width="0.9"/>
<circle cx="291.8" cy="232.75" r="2.5" fill="#111111"/>
<text x="303.60" y="235.81" font-size="8.5" text-anchor="start" fill="#222">0 µM</text>
<text x="306.40" y="265.38" font-size="6.9" text-anchor="middle" fill="#ec4b9c">0.0453</text>
<text x="306.40" y="273.83" font-size="6.9" text-anchor="middle" fill="#1a9a92">NS</text>
<text x="306.40" y="282.28" font-size="6.9" text-anchor="middle" fill="#8ad4f4">NS</text>
<text x="332.10" y="252.48" font-size="6.9" text-anchor="middle" fill="#ec4b9c">0.0026</text>
<text x="332.10" y="260.93" font-size="6.9" text-anchor="middle" fill="#1a9a92">0.0071</text>
<text x="332.10" y="269.38" font-size="6.9" text-anchor="middle" fill="#8ad4f4">NS</text>
<text x="359.60" y="247.08" font-size="6.9" text-anchor="middle" fill="#ec4b9c">0.0010</text>
<text x="359.60" y="255.53" font-size="6.9" text-anchor="middle" fill="#1a9a92">0.0072</text>
<text x="359.60" y="263.98" font-size="6.9" text-anchor="middle" fill="#8ad4f4">NS</text>
<text x="385.60" y="236.68" font-size="6.9" text-anchor="middle" fill="#ec4b9c">0.0040</text>
<text x="385.60" y="245.13" font-size="6.9" text-anchor="middle" fill="#1a9a92">0.0020</text>
<text x="385.60" y="253.58" font-size="6.9" text-anchor="middle" fill="#8ad4f4">NS</text>
<text x="424.80" y="208.18" font-size="6.9" text-anchor="middle" fill="#ec4b9c">0.0001</text>
<text x="424.80" y="216.63" font-size="6.9" text-anchor="middle" fill="#1a9a92">0.0013</text>
<text x="424.80" y="225.08" font-size="6.9" text-anchor="middle" fill="#8ad4f4">NS</text>
<text x="448.6" y="189.7" font-size="14.5" font-weight="bold" fill="#000">f</text>
<text x="474.60" y="190.60" font-size="6.4" text-anchor="start" fill="#222">TIC(×10<tspan font-size="4" dy="-2.2">8</tspan><tspan dy="2.2">)</tspan></text>
<line x1="473.75" y1="192.90" x2="504.90" y2="192.90" stroke="#777" stroke-width="0.9"/>
<line x1="473.75" y1="192.70" x2="473.75" y2="324.90" stroke="#777" stroke-width="0.9"/>
<line x1="473.75" y1="324.70" x2="567.00" y2="324.70" stroke="#555" stroke-width="0.8"/>
<line x1="473.70" y1="324.70" x2="473.70" y2="326.80" stroke="#333" stroke-width="0.7"/>
<text x="473.70" y="332.50" font-size="6.4" text-anchor="middle" fill="#222">8</text>
<line x1="487.00" y1="324.70" x2="487.00" y2="326.80" stroke="#333" stroke-width="0.7"/>
<text x="487.00" y="332.50" font-size="6.4" text-anchor="middle" fill="#222">9</text>
<line x1="500.30" y1="324.70" x2="500.30" y2="326.80" stroke="#333" stroke-width="0.7"/>
<text x="500.30" y="332.50" font-size="6.4" text-anchor="middle" fill="#222">10</text>
<line x1="513.60" y1="324.70" x2="513.60" y2="326.80" stroke="#333" stroke-width="0.7"/>
<text x="513.60" y="332.50" font-size="6.4" text-anchor="middle" fill="#222">11</text>
<line x1="526.90" y1="324.70" x2="526.90" y2="326.80" stroke="#333" stroke-width="0.7"/>
<text x="526.90" y="332.50" font-size="6.4" text-anchor="middle" fill="#222">12</text>
<line x1="540.20" y1="324.70" x2="540.20" y2="326.80" stroke="#333" stroke-width="0.7"/>
<text x="540.20" y="332.50" font-size="6.4" text-anchor="middle" fill="#222">13</text>
<line x1="553.50" y1="324.70" x2="553.50" y2="326.80" stroke="#333" stroke-width="0.7"/>
<text x="553.50" y="332.50" font-size="6.4" text-anchor="middle" fill="#222">14</text>
<line x1="566.80" y1="324.70" x2="566.80" y2="326.80" stroke="#333" stroke-width="0.7"/>
<text x="566.80" y="332.50" font-size="6.4" text-anchor="middle" fill="#222">15</text>
<text x="520.00" y="338.90" font-size="6.4" text-anchor="middle" fill="#222">Time (min)</text>
<text transform="translate(464.6,262.2) rotate(-90)" font-size="6.4" text-anchor="middle" fill="#222">Abundance</text>
<line x1="471.55" y1="231.00" x2="473.75" y2="231.00" stroke="#333" stroke-width="0.7"/>
<text x="470.95" y="233.30" font-size="6.4" text-anchor="end" fill="#222">0</text>
<line x1="471.55" y1="218.50" x2="473.75" y2="218.50" stroke="#333" stroke-width="0.7"/>
<text x="470.95" y="220.80" font-size="6.4" text-anchor="end" fill="#222">5</text>
<line x1="471.55" y1="206.00" x2="473.75" y2="206.00" stroke="#333" stroke-width="0.7"/>
<text x="470.95" y="208.30" font-size="6.4" text-anchor="end" fill="#222">10</text>
<line x1="471.55" y1="193.50" x2="473.75" y2="193.50" stroke="#333" stroke-width="0.7"/>
<text x="470.95" y="195.80" font-size="6.4" text-anchor="end" fill="#222">15</text>
<polyline points="473.75,230.77 474.15,230.85 474.55,230.96 474.95,230.61 475.35,230.98 475.75,230.74 476.15,230.70 476.55,230.79 476.95,230.90 477.35,230.95 477.75,230.51 478.15,230.70 478.55,230.87 478.95,230.90 479.35,230.81 479.75,230.94 480.15,230.50 480.48,228.15 480.55,228.35 480.95,230.83 481.35,230.77 481.75,230.89 482.15,230.93 482.55,230.80 482.95,230.80 483.35,230.88 483.75,230.92 484.15,230.98 484.55,230.90 484.95,230.74 485.35,230.94 485.75,230.73 486.15,230.95 486.55,230.92 486.95,230.72 487.35,230.96 487.75,230.88 488.15,225.13 488.33,221.30 488.55,226.50 488.95,230.89 489.35,230.88 489.75,230.83 490.15,230.80 490.55,230.84 490.95,230.89 491.35,230.85 491.75,230.79 492.15,229.32 492.55,200.28 492.59,199.49 492.95,226.89 493.35,230.82 493.75,230.79 494.15,230.76 494.55,230.99 494.95,230.95 495.35,230.93 495.75,230.83 496.15,230.86 496.55,230.48 496.95,230.78 497.35,230.95 497.75,230.92 498.15,230.99 498.55,230.99 498.95,230.91 499.35,230.87 499.75,230.94 500.15,230.49 500.55,224.60 500.70,222.24 500.95,227.57 501.35,230.90 501.75,230.85 502.15,230.87 502.55,230.96 502.95,230.94 503.35,231.00 503.75,230.92 504.15,231.00 504.55,230.92 504.95,230.92 505.35,230.87 505.75,230.96 506.15,230.99 506.55,230.96 506.95,230.79 507.35,230.96 507.75,231.00 508.15,230.89 508.55,230.81 508.95,230.90 509.35,230.88 509.75,230.89 510.15,228.66 510.41,224.40 510.55,226.21 510.95,230.90 511.35,230.88 511.75,230.93 512.15,230.78 512.55,230.80 512.95,230.83 513.35,230.99 513.75,231.00 514.15,230.90 514.55,230.76 514.95,230.71 515.35,230.80 515.75,230.87 516.15,230.92 516.55,230.90 516.95,230.89 517.35,230.96 517.75,230.93 518.15,230.94 518.55,230.64 518.95,230.67 519.35,230.66 519.75,230.73 520.15,230.79 520.55,230.92 520.95,230.98 521.35,230.89 521.75,230.94 522.15,230.76 522.55,230.86 522.95,230.60 523.35,230.93 523.75,230.55 524.15,230.86 524.55,230.97 524.95,230.88 525.35,230.88 525.75,230.58 526.15,230.33 526.55,230.06 526.95,229.42 527.35,228.77 527.75,227.90 528.15,227.49 528.23,227.41 528.55,227.66 528.95,228.40 529.35,229.27 529.75,229.88 530.15,230.54 530.55,230.73 530.95,230.84 531.35,230.88 531.75,230.86 532.15,230.99 532.55,230.68 532.95,230.93 533.35,230.96 533.75,230.89 534.15,230.89 534.55,230.98 534.95,230.85 535.35,230.84 535.75,230.99 536.15,230.98 536.55,230.94 536.95,230.95 537.35,230.94 537.75,230.98 538.15,230.97 538.55,230.90 538.95,230.91 539.35,230.80 539.75,230.76 540.15,230.73 540.55,230.99 540.95,230.94 541.35,230.92 541.75,230.97 542.15,230.78 542.55,231.00 542.95,230.82 543.35,230.83 543.75,230.86 544.15,230.96 544.55,230.86 544.95,230.78 545.35,230.82 545.75,230.91 546.15,230.71 546.55,230.82 546.95,230.90 547.35,230.94 547.75,230.93 548.15,230.81 548.55,230.70 548.95,230.83 549.35,230.98 549.75,230.55 550.15,230.69 550.55,230.84 550.95,230.83 551.35,230.82 551.75,230.78 552.15,230.91 552.55,230.80 552.95,231.00 553.35,230.70 553.75,230.86 554.15,230.83 554.55,230.91 554.95,230.91 555.35,230.85 555.75,230.99 556.15,230.89 556.55,230.98 556.95,230.92 557.35,230.95 557.75,230.83 558.15,230.84 558.55,230.69 558.95,230.80 559.35,230.93 559.75,230.87 560.15,230.74 560.55,230.99 560.95,230.88 561.35,230.93 561.75,230.87 562.15,230.91 562.55,230.95 562.95,230.98 563.35,230.80 563.75,230.94 564.15,230.95 564.55,230.79 564.95,230.87 565.35,230.77 565.75,230.81 566.15,230.79 566.55,230.81 566.95,231.00" fill="none" stroke="#444" stroke-width="0.6" stroke-linejoin="round"/>
<text x="565.60" y="227.80" font-size="6.4" text-anchor="end" fill="#222">0.5 h</text>
<line x1="471.55" y1="249.60" x2="473.75" y2="249.60" stroke="#333" stroke-width="0.7"/>
<text x="470.95" y="251.90" font-size="6.4" text-anchor="end" fill="#222">0</text>
<line x1="471.55" y1="237.10" x2="473.75" y2="237.10" stroke="#333" stroke-width="0.7"/>
<text x="470.95" y="239.40" font-size="6.4" text-anchor="end" fill="#222">5</text>
<polyline points="473.75,249.46 474.15,249.36 474.55,249.46 474.95,249.45 475.35,249.53 475.75,249.29 476.15,249.52 476.55,249.40 476.95,249.47 477.35,249.60 477.75,249.43 478.15,249.60 478.55,249.54 478.95,249.57 479.35,249.56 479.75,249.47 480.15,249.34 480.48,248.05 480.55,247.91 480.95,249.55 481.35,249.42 481.75,249.42 482.15,249.44 482.55,249.57 482.95,249.51 483.35,249.60 483.75,249.44 484.15,249.55 484.55,249.41 484.95,249.33 485.35,249.31 485.75,249.31 486.15,249.38 486.55,249.53 486.95,249.49 487.35,249.43 487.75,249.55 488.15,245.51 488.33,242.71 488.55,246.37 488.95,249.56 489.35,249.48 489.75,249.23 490.15,249.53 490.55,249.59 490.95,249.29 491.35,249.35 491.75,249.46 492.15,249.07 492.55,241.52 492.59,241.44 492.95,248.52 493.35,249.27 493.75,249.43 494.15,249.46 494.55,249.51 494.95,249.43 495.35,249.55 495.75,248.92 496.04,247.59 496.15,247.85 496.55,249.55 496.95,249.49 497.35,249.05 497.75,249.38 498.15,248.78 498.31,248.12 498.55,249.05 498.95,249.56 499.35,249.36 499.75,249.36 500.15,249.44 500.55,243.24 500.70,240.50 500.95,246.08 501.35,249.25 501.75,249.46 502.15,249.40 502.55,249.57 502.95,249.52 503.35,249.30 503.75,249.47 504.15,249.57 504.55,249.43 504.95,249.49 505.35,249.35 505.75,249.24 506.15,249.33 506.55,249.15 506.95,249.30 507.35,249.37 507.75,249.54 508.15,249.44 508.55,249.46 508.95,249.50 509.35,249.50 509.75,249.52 510.15,247.39 510.41,243.10 510.55,244.97 510.95,249.51 511.35,249.40 511.75,249.57 512.15,249.55 512.55,249.59 512.95,249.45 513.35,249.50 513.75,249.55 514.15,249.45 514.55,249.53 514.95,249.18 515.35,249.29 515.75,249.59 516.15,249.39 516.55,249.59 516.95,249.15 517.35,249.31 517.75,249.55 518.15,249.48 518.55,249.58 518.95,249.43 519.35,249.33 519.75,249.42 520.15,249.43 520.55,249.39 520.95,249.49 521.35,249.51 521.75,249.47 522.15,249.46 522.55,249.57 522.95,249.60 523.35,249.57 523.75,249.42 524.15,249.19 524.55,249.36 524.95,249.56 525.35,249.36 525.75,249.23 526.15,249.22 526.55,248.89 526.95,247.93 527.35,247.20 527.75,246.55 528.15,246.16 528.23,246.13 528.55,246.36 528.95,246.90 529.35,247.95 529.75,248.50 530.15,248.94 530.55,249.41 530.95,249.48 531.35,249.43 531.75,249.56 532.15,249.47 532.55,249.60 532.95,249.54 533.35,249.50 533.75,249.40 534.15,249.40 534.55,249.55 534.95,249.58 535.35,249.51 535.75,249.24 536.15,249.55 536.55,249.29 536.95,249.40 537.35,249.59 537.75,249.32 538.15,249.48 538.55,249.47 538.95,249.35 539.35,249.59 539.75,249.32 540.15,249.58 540.55,249.55 540.95,249.48 541.35,249.50 541.75,249.48 542.15,249.51 542.55,249.37 542.95,249.60 543.35,249.52 543.75,249.57 544.15,249.43 544.55,249.47 544.95,249.55 545.35,249.13 545.75,249.50 546.15,249.34 546.55,249.37 546.95,249.56 547.35,249.30 547.75,249.47 548.15,249.43 548.55,249.58 548.95,249.36 549.35,249.08 549.75,249.54 550.15,249.56 550.55,249.30 550.95,249.45 551.35,249.59 551.75,249.40 552.15,249.57 552.55,249.58 552.95,249.48 553.35,249.45 553.75,249.42 554.15,249.58 554.55,249.50 554.95,249.53 555.35,249.42 555.75,249.54 556.15,249.59 556.55,249.32 556.95,249.48 557.35,249.34 557.75,249.47 558.15,249.56 558.55,249.44 558.95,249.46 559.35,249.29 559.75,249.26 560.15,249.42 560.55,249.49 560.95,249.31 561.35,249.59 561.75,249.36 562.15,249.40 562.55,249.39 562.95,249.38 563.35,249.42 563.75,249.29 564.15,249.51 564.55,249.34 564.95,249.59 565.35,249.20 565.75,249.41 566.15,249.44 566.55,249.39 566.95,249.19" fill="none" stroke="#444" stroke-width="0.6" stroke-linejoin="round"/>
<text x="565.60" y="246.20" font-size="6.4" text-anchor="end" fill="#222">3 h</text>
<line x1="471.55" y1="268.30" x2="473.75" y2="268.30" stroke="#333" stroke-width="0.7"/>
<text x="470.95" y="270.60" font-size="6.4" text-anchor="end" fill="#222">0</text>
<line x1="471.55" y1="255.80" x2="473.75" y2="255.80" stroke="#333" stroke-width="0.7"/>
<text x="470.95" y="258.10" font-size="6.4" text-anchor="end" fill="#222">5</text>
<polyline points="473.75,268.20 474.15,268.27 474.55,267.65 474.95,268.20 475.35,268.26 475.75,268.22 476.15,268.20 476.55,268.17 476.95,268.20 477.35,268.22 477.75,268.15 478.15,268.26 478.55,267.96 478.95,268.05 479.35,268.14 479.75,267.92 480.15,268.03 480.48,266.75 480.55,266.73 480.95,268.09 481.35,268.26 481.75,268.19 482.15,268.16 482.55,268.11 482.95,268.01 483.35,268.18 483.75,268.07 484.15,268.24 484.55,268.22 484.95,268.07 485.35,268.28 485.75,267.85 486.15,268.18 486.55,268.01 486.95,268.05 487.35,268.23 487.75,268.06 488.15,264.41 488.33,262.14 488.55,265.39 488.95,268.08 489.35,268.23 489.75,267.90 490.15,268.22 490.55,268.08 490.95,268.29 491.35,268.08 491.75,268.16 492.15,268.09 492.55,266.75 492.59,266.63 492.95,267.95 493.35,268.23 493.75,268.07 494.15,268.12 494.55,268.17 494.95,266.72 494.98,266.60 495.35,267.62 495.75,267.98 496.15,268.18 496.55,268.15 496.95,267.96 497.35,267.72 497.64,266.79 497.75,267.16 498.15,268.21 498.55,268.25 498.95,268.21 499.35,268.23 499.75,268.14 500.15,268.21 500.55,264.43 500.70,262.75 500.95,266.31 501.35,268.25 501.75,267.99 502.15,268.23 502.55,268.23 502.95,268.20 503.35,268.28 503.75,268.24 504.15,268.01 504.55,268.12 504.95,268.12 505.35,268.20 505.75,268.18 506.15,268.13 506.55,268.06 506.95,268.26 507.35,268.00 507.75,268.28 508.15,268.01 508.55,268.25 508.95,268.20 509.35,268.17 509.75,268.22 510.15,266.35 510.41,263.27 510.55,264.62 510.95,268.05 511.35,268.28 511.75,268.19 512.15,268.18 512.55,268.17 512.95,268.06 513.35,268.17 513.75,268.24 514.15,267.85 514.55,268.18 514.95,268.25 515.35,268.23 515.75,268.27 516.15,268.16 516.55,268.22 516.95,268.22 517.35,268.29 517.75,268.22 518.15,268.18 518.55,268.28 518.95,268.14 519.35,268.06 519.75,268.00 520.15,268.15 520.55,267.95 520.91,266.76 520.95,266.80 521.35,268.19 521.75,268.24 522.15,268.10 522.55,268.08 522.95,268.10 523.35,268.26 523.75,268.10 524.15,268.30 524.55,268.17 524.95,268.29 525.35,268.22 525.75,268.18 526.15,268.01 526.55,267.61 526.95,267.15 527.35,266.46 527.75,265.96 528.15,265.67 528.23,265.67 528.55,265.81 528.95,266.38 529.35,267.06 529.75,267.62 530.15,267.65 530.55,267.81 530.95,268.19 531.35,268.18 531.75,268.20 532.15,268.28 532.55,268.10 532.95,268.00 533.35,268.29 533.75,268.28 534.15,268.11 534.55,268.12 534.95,268.15 535.35,268.01 535.75,268.12 536.15,268.16 536.55,268.07 536.95,268.03 537.35,268.18 537.75,268.29 538.15,268.28 538.55,268.20 538.95,268.19 539.35,268.12 539.75,268.19 540.15,267.99 540.55,268.18 540.95,268.28 541.35,268.00 541.75,268.10 542.15,268.29 542.55,268.12 542.95,268.23 543.35,268.20 543.75,268.27 544.15,268.25 544.55,268.20 544.95,268.21 545.35,267.83 545.75,268.25 546.15,268.17 546.55,268.11 546.95,268.14 547.35,268.12 547.75,268.00 548.15,268.25 548.55,267.87 548.95,268.24 549.35,268.17 549.75,268.00 550.15,268.26 550.55,268.23 550.95,268.20 551.35,268.25 551.75,267.88 552.15,268.29 552.55,268.14 552.95,268.20 553.35,268.09 553.75,268.09 554.15,268.06 554.55,267.88 554.95,268.03 555.35,268.20 555.75,268.04 556.15,268.11 556.55,268.21 556.95,268.17 557.35,268.27 557.75,268.17 558.15,267.92 558.55,268.16 558.95,268.29 559.35,268.26 559.75,268.27 560.15,268.22 560.55,268.15 560.95,268.25 561.35,268.21 561.75,268.12 562.15,268.16 562.55,268.21 562.95,268.24 563.35,268.16 563.75,267.94 564.15,268.21 564.55,268.13 564.95,268.26 565.35,267.87 565.75,268.19 566.15,268.17 566.55,268.29 566.95,268.21" fill="none" stroke="#444" stroke-width="0.6" stroke-linejoin="round"/>
<text x="565.60" y="264.50" font-size="6.4" text-anchor="end" fill="#222">6 h</text>
<line x1="471.55" y1="287.00" x2="473.75" y2="287.00" stroke="#333" stroke-width="0.7"/>
<text x="470.95" y="289.30" font-size="6.4" text-anchor="end" fill="#222">0</text>
<line x1="471.55" y1="274.50" x2="473.75" y2="274.50" stroke="#333" stroke-width="0.7"/>
<text x="470.95" y="276.80" font-size="6.4" text-anchor="end" fill="#222">5</text>
<polyline points="473.75,286.61 474.15,286.80 474.55,286.94 474.95,286.95 475.35,286.84 475.75,286.90 476.15,286.91 476.55,286.98 476.95,286.93 477.35,286.82 477.75,286.96 478.15,286.80 478.55,286.92 478.95,286.99 479.35,286.95 479.75,286.82 480.15,286.45 480.48,285.48 480.55,285.56 480.95,286.91 481.35,286.95 481.75,286.77 482.15,286.86 482.55,286.79 482.95,286.83 483.35,286.97 483.75,286.99 484.15,286.83 484.55,286.76 484.95,286.88 485.35,286.97 485.75,286.93 486.15,286.72 486.55,286.95 486.95,286.83 487.35,286.89 487.75,286.91 488.15,283.99 488.33,282.03 488.55,284.60 488.95,286.94 489.35,286.89 489.75,286.94 490.15,286.95 490.55,286.86 490.95,286.96 491.35,286.70 491.75,286.85 492.15,286.92 492.55,286.85 492.95,286.96 493.35,286.85 493.75,286.96 494.15,286.78 494.55,286.93 494.95,285.73 494.98,285.74 495.35,286.59 495.75,286.94 496.15,286.88 496.55,286.61 496.95,286.89 497.35,286.64 497.75,286.76 498.15,286.76 498.55,286.58 498.95,286.82 499.35,286.94 499.75,286.68 500.15,286.90 500.55,282.19 500.70,279.95 500.95,284.44 501.35,286.58 501.75,286.48 502.15,286.87 502.55,287.00 502.95,286.83 503.35,286.83 503.75,286.97 504.15,286.98 504.55,286.93 504.95,286.88 505.35,286.97 505.75,286.60 506.15,286.82 506.55,286.98 506.95,286.92 507.35,286.89 507.75,286.98 508.15,286.68 508.55,286.91 508.95,287.00 509.35,286.81 509.75,286.84 510.15,285.20 510.41,281.89 510.55,283.13 510.95,286.81 511.35,286.65 511.75,286.93 512.15,286.83 512.55,286.88 512.95,286.68 513.35,286.92 513.75,286.90 514.15,286.95 514.55,286.82 514.95,286.97 515.35,286.77 515.75,286.68 516.15,286.90 516.55,286.80 516.95,286.84 517.35,286.89 517.75,286.80 518.15,286.93 518.55,286.88 518.95,286.93 519.35,286.98 519.75,286.79 520.15,286.91 520.55,286.84 520.91,285.57 520.95,285.63 521.35,286.91 521.75,287.00 522.15,286.98 522.55,286.77 522.95,286.78 523.35,286.77 523.75,286.72 524.15,286.92 524.55,286.74 524.95,286.90 525.35,286.81 525.75,286.87 526.15,286.76 526.55,286.45 526.95,285.82 527.35,285.27 527.75,284.52 528.15,284.20 528.23,284.32 528.55,284.44 528.95,284.72 529.35,285.45 529.75,286.15 530.15,286.57 530.55,286.73 530.95,286.92 531.35,286.73 531.75,286.88 532.15,286.91 532.55,286.93 532.95,286.85 533.35,286.85 533.75,286.57 534.15,286.90 534.55,286.85 534.95,286.71 535.35,286.84 535.75,286.77 536.15,286.97 536.55,286.99 536.95,286.85 537.35,286.89 537.75,286.93 538.15,286.97 538.55,286.65 538.95,286.91 539.35,287.00 539.75,286.91 540.15,286.98 540.55,286.82 540.95,286.92 541.35,286.91 541.75,286.89 542.15,286.92 542.55,286.89 542.95,286.75 543.35,286.97 543.75,286.69 544.15,286.91 544.55,286.97 544.95,286.83 545.35,286.79 545.75,286.73 546.15,286.75 546.55,286.84 546.95,286.78 547.35,286.83 547.75,286.98 548.15,286.93 548.55,286.77 548.95,286.87 549.35,286.76 549.75,286.57 550.15,286.90 550.55,286.94 550.95,286.75 551.35,286.97 551.75,286.81 552.15,286.78 552.55,286.72 552.95,286.95 553.35,286.72 553.75,286.87 554.15,286.89 554.55,286.78 554.95,286.87 555.35,286.91 555.75,286.95 556.15,286.94 556.55,286.92 556.95,286.90 557.35,286.86 557.75,286.93 558.15,286.84 558.55,286.85 558.95,286.88 559.35,286.85 559.75,286.83 560.15,286.80 560.55,286.99 560.95,286.59 561.35,286.86 561.75,286.65 562.15,286.49 562.55,286.94 562.95,286.88 563.35,286.87 563.75,286.95 564.15,286.66 564.55,286.83 564.95,286.96 565.35,286.95 565.75,286.70 566.15,286.88 566.55,286.97 566.95,286.95" fill="none" stroke="#444" stroke-width="0.6" stroke-linejoin="round"/>
<text x="565.60" y="282.10" font-size="6.4" text-anchor="end" fill="#222">12 h</text>
<line x1="471.55" y1="305.80" x2="473.75" y2="305.80" stroke="#333" stroke-width="0.7"/>
<text x="470.95" y="308.10" font-size="6.4" text-anchor="end" fill="#222">0</text>
<line x1="471.55" y1="293.30" x2="473.75" y2="293.30" stroke="#333" stroke-width="0.7"/>
<text x="470.95" y="295.60" font-size="6.4" text-anchor="end" fill="#222">5</text>
<polyline points="473.75,305.72 474.15,305.47 474.55,305.54 474.95,305.21 475.35,305.71 475.75,305.55 476.15,305.55 476.55,305.63 476.95,305.64 477.35,305.57 477.75,305.75 478.15,305.50 478.55,305.46 478.95,305.67 479.35,305.71 479.75,305.79 480.15,305.01 480.48,303.75 480.55,303.93 480.95,305.54 481.35,305.65 481.75,305.38 482.15,305.54 482.55,305.64 482.95,305.74 483.35,305.71 483.75,305.73 484.15,305.66 484.55,305.63 484.95,305.76 485.35,305.48 485.75,305.55 486.15,305.65 486.55,305.45 486.95,305.73 487.35,305.77 487.75,305.61 488.15,302.31 488.33,300.16 488.55,302.80 488.95,305.70 489.35,305.69 489.75,305.78 490.15,305.39 490.55,305.63 490.95,305.68 491.35,305.74 491.75,305.72 492.15,305.53 492.55,305.77 492.95,305.70 493.35,305.31 493.65,303.18 493.75,304.07 494.15,305.74 494.55,305.58 494.95,305.79 495.35,305.55 495.75,305.78 496.15,305.54 496.55,305.69 496.95,305.66 497.35,305.75 497.75,305.62 498.15,305.47 498.55,305.73 498.95,305.80 499.35,305.68 499.75,305.63 500.15,305.63 500.55,298.34 500.70,295.20 500.95,301.93 501.35,305.74 501.75,305.65 502.15,305.75 502.55,305.51 502.95,305.70 503.35,305.27 503.75,305.67 504.15,305.72 504.55,305.48 504.95,305.57 505.35,305.74 505.75,305.65 506.15,305.70 506.55,305.77 506.95,305.65 507.35,305.76 507.75,305.64 508.15,305.53 508.55,305.62 508.95,305.78 509.35,305.77 509.75,305.78 510.15,303.71 510.41,300.33 510.55,301.71 510.95,305.49 511.35,305.51 511.75,305.78 512.15,305.62 512.55,305.79 512.95,305.64 513.35,305.77 513.75,305.62 514.15,305.60 514.55,305.78 514.95,305.51 515.35,305.67 515.75,305.68 516.15,305.62 516.55,305.70 516.95,305.73 517.35,305.69 517.75,305.76 518.15,305.48 518.55,305.70 518.95,305.40 519.35,305.66 519.75,305.54 520.15,305.70 520.55,305.19 520.91,303.68 520.95,303.82 521.35,305.62 521.75,305.76 522.15,305.71 522.55,305.73 522.95,305.80 523.35,305.74 523.75,305.60 524.15,305.76 524.55,305.67 524.95,305.68 525.35,305.62 525.75,305.62 526.15,305.45 526.55,304.96 526.95,304.79 527.35,304.07 527.75,303.39 528.15,303.17 528.23,303.10 528.55,303.03 528.95,303.54 529.35,304.49 529.75,304.78 530.15,305.48 530.55,305.44 530.95,305.77 531.35,305.64 531.75,305.79 532.15,305.55 532.55,305.68 532.95,305.76 533.35,305.79 533.75,305.74 534.15,305.69 534.55,305.31 534.95,305.61 535.35,305.01 535.54,304.34 535.75,304.88 536.15,305.76 536.55,305.70 536.95,305.69 537.35,305.77 537.75,305.68 538.15,305.53 538.55,305.78 538.95,305.67 539.35,305.70 539.75,305.55 540.15,305.80 540.55,305.67 540.95,305.74 541.35,305.68 541.75,305.59 542.15,305.72 542.55,305.68 542.95,305.75 543.35,305.64 543.75,305.63 544.15,305.64 544.55,305.73 544.95,305.76 545.35,305.47 545.75,305.59 546.15,305.74 546.55,305.76 546.95,305.73 547.35,305.42 547.75,305.66 548.15,305.68 548.55,305.65 548.95,305.68 549.35,305.75 549.75,305.63 550.15,305.66 550.55,305.44 550.95,305.73 551.35,305.70 551.75,305.50 552.15,305.68 552.55,305.59 552.95,305.72 553.35,305.71 553.75,305.72 554.15,305.54 554.55,305.78 554.95,305.70 555.35,305.55 555.75,305.58 556.15,305.64 556.55,305.66 556.95,305.58 557.35,305.62 557.75,305.68 558.15,305.62 558.55,305.46 558.95,305.68 559.35,305.62 559.75,305.50 560.15,305.65 560.55,305.61 560.95,305.74 561.35,305.75 561.75,305.78 562.15,305.80 562.55,305.59 562.95,305.79 563.35,305.60 563.75,305.75 564.15,305.55 564.55,305.64 564.95,305.71 565.35,305.66 565.75,305.59 566.15,305.65 566.55,305.61 566.95,305.64" fill="none" stroke="#444" stroke-width="0.6" stroke-linejoin="round"/>
<text x="565.60" y="300.40" font-size="6.4" text-anchor="end" fill="#222">24 h</text>
<line x1="471.55" y1="324.60" x2="473.75" y2="324.60" stroke="#333" stroke-width="0.7"/>
<text x="470.95" y="326.90" font-size="6.4" text-anchor="end" fill="#222">0</text>
<line x1="471.55" y1="312.10" x2="473.75" y2="312.10" stroke="#333" stroke-width="0.7"/>
<text x="470.95" y="314.40" font-size="6.4" text-anchor="end" fill="#222">5</text>
<polyline points="473.75,324.31 474.15,324.31 474.55,324.53 474.95,324.50 475.35,324.42 475.75,324.42 476.15,324.17 476.55,324.48 476.95,324.59 477.35,324.45 477.75,324.39 478.15,324.49 478.55,324.41 478.95,324.41 479.35,324.49 479.75,324.41 480.15,324.19 480.48,322.36 480.55,322.69 480.95,324.44 481.35,324.47 481.75,324.44 482.15,324.22 482.55,324.31 482.95,324.55 483.35,324.54 483.75,324.44 484.15,324.51 484.55,324.56 484.95,324.50 485.35,324.53 485.75,324.58 486.15,324.40 486.55,324.52 486.95,324.34 487.35,324.34 487.75,324.47 488.15,321.24 488.33,318.95 488.55,321.90 488.95,324.38 489.35,324.49 489.75,324.41 490.15,324.52 490.55,324.39 490.95,324.59 491.35,324.29 491.75,324.48 492.15,324.59 492.55,324.54 492.95,324.32 493.35,323.95 493.65,322.46 493.75,322.75 494.15,324.44 494.55,324.58 494.95,324.48 495.35,324.49 495.75,324.51 496.15,324.56 496.55,324.37 496.95,324.45 497.35,324.38 497.75,324.40 498.15,324.58 498.55,324.50 498.95,324.43 499.35,324.55 499.75,324.48 500.15,324.33 500.55,318.55 500.70,316.05 500.95,321.39 501.35,324.54 501.75,324.40 502.15,324.59 502.55,324.52 502.95,324.42 503.35,324.28 503.75,324.18 504.15,324.37 504.55,324.41 504.95,324.32 505.35,324.44 505.75,324.54 506.15,324.38 506.55,324.50 506.95,324.52 507.35,324.30 507.75,324.57 508.15,324.60 508.55,324.51 508.95,324.51 509.35,324.38 509.75,324.38 510.15,322.28 510.41,317.81 510.55,319.51 510.95,324.48 511.35,324.18 511.75,324.54 512.15,324.55 512.55,324.21 512.95,324.35 513.35,324.57 513.75,324.50 514.15,324.50 514.55,324.49 514.95,324.40 515.35,324.47 515.75,324.56 516.15,324.48 516.55,324.26 516.95,324.49 517.35,324.51 517.75,324.53 518.15,324.25 518.55,324.42 518.95,324.55 519.35,324.50 519.75,324.56 520.15,324.47 520.55,324.31 520.91,322.33 520.95,322.59 521.35,324.31 521.75,324.52 522.15,324.28 522.55,324.57 522.95,324.46 523.35,324.51 523.75,324.49 524.15,324.40 524.55,324.52 524.95,324.45 525.35,324.58 525.75,324.51 526.15,323.89 526.55,324.00 526.95,323.44 527.35,322.76 527.75,322.26 528.15,321.87 528.23,321.84 528.55,322.11 528.95,322.54 529.35,323.10 529.75,323.78 530.15,324.26 530.55,324.44 530.95,324.49 531.35,324.57 531.75,324.44 532.15,324.43 532.55,324.51 532.95,324.59 533.35,324.41 533.75,324.41 534.15,324.50 534.55,324.23 534.95,324.44 535.35,323.53 535.54,322.91 535.75,323.88 536.15,324.26 536.55,324.50 536.95,324.51 537.35,324.59 537.75,324.38 538.15,324.35 538.55,324.32 538.95,324.54 539.35,324.58 539.75,324.30 540.15,324.16 540.55,324.43 540.95,324.53 541.35,324.57 541.75,324.41 542.15,324.53 542.55,324.52 542.95,324.44 543.35,324.50 543.75,324.50 544.15,324.37 544.55,324.46 544.95,324.47 545.35,324.49 545.75,324.21 546.15,324.25 546.55,324.45 546.95,324.21 547.35,324.38 547.75,324.54 548.15,324.50 548.55,324.41 548.95,324.44 549.35,324.49 549.75,324.29 550.15,324.33 550.55,324.58 550.95,324.49 551.35,324.58 551.75,324.51 552.15,324.53 552.55,324.41 552.95,324.09 553.35,324.35 553.75,324.27 554.15,324.45 554.55,324.50 554.95,324.58 555.35,324.57 555.75,324.21 556.15,324.52 556.55,324.43 556.95,324.40 557.35,324.55 557.75,324.51 558.15,324.32 558.55,324.50 558.95,324.44 559.35,324.43 559.75,324.27 560.15,324.54 560.55,324.58 560.95,324.45 561.35,324.54 561.75,324.54 562.15,324.59 562.55,324.51 562.95,324.59 563.35,324.47 563.75,324.56 564.15,324.57 564.55,324.50 564.95,324.58 565.35,324.57 565.75,324.33 566.15,324.27 566.55,324.59 566.95,324.44" fill="none" stroke="#444" stroke-width="0.6" stroke-linejoin="round"/>
<text x="565.60" y="317.70" font-size="6.4" text-anchor="end" fill="#222">CK</text>
<text x="497.60" y="200.70" font-size="6.4" text-anchor="start" fill="#222">DON</text>
<line x1="497.00" y1="199.00" x2="494.60" y2="201.60" stroke="#e02020" stroke-width="1.0"/>
<polygon points="493.2,203.4 496.0,202.4 494.2,200.5" fill="#e02020"/>
<text x="594.00" y="197.90" font-size="6.4" text-anchor="start" fill="#222">TIC(×10<tspan font-size="4" dy="-2.2">8</tspan><tspan dy="2.2">)</tspan></text>
<line x1="593.50" y1="200.50" x2="624.90" y2="200.50" stroke="#777" stroke-width="0.9"/>
<line x1="593.50" y1="200.30" x2="593.50" y2="325.40" stroke="#777" stroke-width="0.9"/>
<line x1="593.50" y1="325.20" x2="666.40" y2="325.20" stroke="#555" stroke-width="0.8"/>
<line x1="604.50" y1="325.20" x2="604.50" y2="327.40" stroke="#333" stroke-width="0.7"/>
<text x="604.50" y="332.50" font-size="6.4" text-anchor="middle" fill="#222">9.5</text>
<line x1="632.40" y1="325.20" x2="632.40" y2="327.40" stroke="#333" stroke-width="0.7"/>
<text x="632.40" y="332.50" font-size="6.4" text-anchor="middle" fill="#222">10.0</text>
<line x1="660.30" y1="325.20" x2="660.30" y2="327.40" stroke="#333" stroke-width="0.7"/>
<text x="660.30" y="332.50" font-size="6.4" text-anchor="middle" fill="#222">10.5</text>
<line x1="598.92" y1="325.20" x2="598.92" y2="326.40" stroke="#333" stroke-width="0.5"/>
<line x1="610.08" y1="325.20" x2="610.08" y2="326.40" stroke="#333" stroke-width="0.5"/>
<line x1="615.66" y1="325.20" x2="615.66" y2="326.40" stroke="#333" stroke-width="0.5"/>
<line x1="621.24" y1="325.20" x2="621.24" y2="326.40" stroke="#333" stroke-width="0.5"/>
<line x1="626.82" y1="325.20" x2="626.82" y2="326.40" stroke="#333" stroke-width="0.5"/>
<line x1="637.98" y1="325.20" x2="637.98" y2="326.40" stroke="#333" stroke-width="0.5"/>
<line x1="643.56" y1="325.20" x2="643.56" y2="326.40" stroke="#333" stroke-width="0.5"/>
<line x1="649.14" y1="325.20" x2="649.14" y2="326.40" stroke="#333" stroke-width="0.5"/>
<line x1="654.72" y1="325.20" x2="654.72" y2="326.40" stroke="#333" stroke-width="0.5"/>
<line x1="665.88" y1="325.20" x2="665.88" y2="326.40" stroke="#333" stroke-width="0.5"/>
<text x="635.20" y="339.10" font-size="6.4" text-anchor="middle" fill="#222">Time (min)</text>
<text transform="translate(584.6,262.2) rotate(-90)" font-size="6.4" text-anchor="middle" fill="#222">Abundance</text>
<line x1="591.30" y1="231.40" x2="593.50" y2="231.40" stroke="#333" stroke-width="0.7"/>
<text x="590.70" y="233.70" font-size="6.4" text-anchor="end" fill="#222">0</text>
<line x1="591.30" y1="218.80" x2="593.50" y2="218.80" stroke="#333" stroke-width="0.7"/>
<text x="590.70" y="221.10" font-size="6.4" text-anchor="end" fill="#222">2</text>
<line x1="591.30" y1="206.20" x2="593.50" y2="206.20" stroke="#333" stroke-width="0.7"/>
<text x="590.70" y="208.50" font-size="6.4" text-anchor="end" fill="#222">4</text>
<polyline points="593.50,230.98 593.80,231.29 594.10,231.23 594.40,231.37 594.70,231.10 595.00,231.33 595.30,231.27 595.60,231.26 595.90,231.24 596.20,231.24 596.50,230.95 596.80,231.24 597.10,230.73 597.40,229.28 597.70,225.86 598.00,220.71 598.30,216.97 598.40,216.77 598.60,217.86 598.90,222.57 599.20,227.33 599.50,230.14 599.80,230.74 600.10,231.33 600.40,231.33 600.70,231.34 601.00,231.11 601.30,231.12 601.60,231.25 601.90,231.04 602.20,231.18 602.50,230.68 602.80,230.23 603.00,230.05 603.10,230.13 603.40,230.42 603.70,230.65 604.00,231.29 604.30,231.33 604.60,231.18 604.90,231.14 605.20,231.29 605.50,231.18 605.80,231.22 606.10,231.15 606.40,231.25 606.70,231.08 607.00,231.06 607.30,231.00 607.60,230.61 607.90,229.73 608.00,230.13 608.20,230.09 608.50,230.38 608.80,231.14 609.10,231.11 609.40,231.06 609.70,231.24 610.00,231.35 610.30,231.38 610.60,231.28 610.90,231.23 611.20,231.28 611.50,230.91 611.80,230.50 612.10,230.03 612.20,230.18 612.40,230.34 612.70,230.50 613.00,231.25 613.30,231.20 613.60,231.27 613.90,231.36 614.20,231.27 614.50,231.12 614.80,230.95 615.10,231.33 615.40,231.25 615.70,231.04 616.00,230.59 616.30,230.38 616.50,230.35 616.60,230.38 616.90,230.61 617.20,230.95 617.50,231.23 617.80,231.21 618.10,231.37 618.40,231.40 618.70,231.02 619.00,231.37 619.30,230.89 619.60,231.28 619.90,231.37 620.20,231.29 620.50,231.25 620.80,231.35 621.10,231.23 621.40,231.15 621.70,231.21 622.00,231.17 622.30,231.28 622.60,230.98 622.90,231.14 623.20,230.65 623.50,230.14 623.60,229.90 623.80,230.33 624.10,230.92 624.40,231.29 624.70,231.14 625.00,231.27 625.30,231.21 625.60,231.35 625.90,231.38 626.20,231.30 626.50,231.17 626.80,231.26 627.10,231.36 627.40,231.38 627.70,230.86 628.00,231.33 628.30,231.33 628.60,231.28 628.90,231.36 629.20,231.38 629.50,231.36 629.80,231.05 630.10,231.25 630.40,231.16 630.70,231.08 631.00,231.37 631.30,231.38 631.60,231.35 631.90,231.00 632.20,231.12 632.50,231.20 632.80,231.12 633.10,230.08 633.40,227.17 633.70,222.86 633.90,220.20 634.00,218.82 634.30,217.19 634.43,216.70 634.60,216.52 634.90,216.83 634.97,216.83 635.20,217.66 635.50,219.94 635.50,220.25 635.80,224.43 636.10,228.41 636.40,230.55 636.70,231.18 637.00,230.90 637.30,231.10 637.60,231.38 637.90,231.05 638.20,231.13 638.50,231.39 638.80,231.29 639.10,231.22 639.40,231.33 639.70,231.23 640.00,231.30 640.30,231.33 640.60,231.13 640.90,231.32 641.20,231.33 641.50,231.15 641.80,231.16 642.10,231.34 642.40,231.35 642.70,231.32 643.00,231.36 643.30,231.24 643.60,231.34 643.90,231.16 644.20,231.38 644.50,231.16 644.80,231.24 645.10,230.94 645.40,230.40 645.70,229.58 646.00,229.16 646.00,229.18 646.30,229.69 646.60,230.42 646.90,230.67 647.20,231.01 647.50,231.34 647.80,231.33 648.10,231.17 648.40,231.17 648.70,231.35 649.00,231.15 649.30,230.99 649.60,230.75 649.90,230.21 650.00,230.39 650.20,230.44 650.50,230.87 650.80,231.22 651.10,231.09 651.40,231.23 651.70,231.29 652.00,231.26 652.30,231.32 652.60,231.26 652.90,231.11 653.20,231.08 653.50,230.93 653.80,230.48 654.00,230.50 654.10,230.31 654.40,230.78 654.70,231.00 655.00,231.29 655.30,231.08 655.60,231.19 655.90,231.34 656.20,231.27 656.50,231.34 656.80,231.24 657.10,231.09 657.40,231.20 657.70,231.33 658.00,231.15 658.30,231.20 658.60,231.26 658.90,231.32 659.20,231.12 659.50,231.30 659.80,231.39 660.10,231.29 660.40,231.37 660.70,231.22 661.00,231.16 661.30,231.28 661.60,231.13 661.90,231.39 662.20,231.29 662.50,231.18 662.80,231.29 663.10,231.31 663.40,231.24 663.70,231.38 664.00,231.32 664.30,231.28 664.60,231.32 664.90,231.18 665.20,231.03 665.50,231.30 665.80,231.28 666.10,231.35 666.40,231.30" fill="none" stroke="#555" stroke-width="0.6" stroke-linejoin="round"/>
<text x="666.00" y="229.70" font-size="6.4" text-anchor="end" fill="#222">0.5 h</text>
<line x1="591.30" y1="249.40" x2="593.50" y2="249.40" stroke="#333" stroke-width="0.7"/>
<text x="590.70" y="251.70" font-size="6.4" text-anchor="end" fill="#222">0</text>
<line x1="591.30" y1="236.80" x2="593.50" y2="236.80" stroke="#333" stroke-width="0.7"/>
<text x="590.70" y="239.10" font-size="6.4" text-anchor="end" fill="#222">2</text>
<polyline points="593.50,249.29 593.80,249.30 594.10,249.17 594.40,249.00 594.70,249.12 595.00,249.25 595.30,249.20 595.60,249.33 595.90,249.37 596.20,249.13 596.50,249.33 596.80,249.03 597.10,248.89 597.40,247.62 597.70,244.84 598.00,240.50 598.30,237.43 598.40,237.07 598.60,237.99 598.90,241.83 599.20,245.75 599.50,248.23 599.80,248.76 600.10,249.28 600.40,249.32 600.70,249.28 601.00,249.35 601.30,249.06 601.60,249.18 601.90,249.18 602.20,249.07 602.50,249.07 602.80,249.16 603.10,248.75 603.40,248.86 603.70,248.56 604.00,248.19 604.00,248.20 604.30,248.44 604.60,248.63 604.90,249.19 605.20,249.24 605.50,249.21 605.80,249.15 606.10,249.14 606.40,249.23 606.70,249.19 607.00,249.39 607.30,249.29 607.60,249.38 607.90,249.07 608.20,249.31 608.50,249.09 608.80,249.24 609.10,248.98 609.40,249.29 609.70,249.30 610.00,249.25 610.30,249.35 610.60,249.34 610.90,248.96 611.20,249.05 611.50,248.13 611.80,246.59 612.10,245.27 612.20,245.20 612.40,245.51 612.70,247.09 613.00,248.53 613.30,248.96 613.60,249.06 613.90,248.52 614.20,247.38 614.40,246.96 614.50,247.47 614.80,248.12 615.10,249.09 615.40,249.05 615.70,249.20 616.00,249.28 616.30,249.23 616.60,249.37 616.90,249.32 617.20,249.09 617.50,249.32 617.80,248.96 618.10,249.18 618.40,248.98 618.70,249.08 619.00,249.10 619.30,249.40 619.60,249.06 619.90,249.37 620.20,249.28 620.50,249.27 620.80,249.37 621.10,249.36 621.40,249.33 621.70,249.38 622.00,249.13 622.30,249.29 622.60,249.19 622.90,248.93 623.20,247.51 623.50,245.98 623.60,245.91 623.80,246.57 624.10,248.10 624.40,248.93 624.70,249.30 625.00,248.96 625.30,249.32 625.60,249.38 625.90,249.35 626.20,248.98 626.50,249.13 626.80,249.24 627.10,249.21 627.40,249.32 627.70,249.29 628.00,249.35 628.30,249.04 628.60,249.17 628.90,249.29 629.20,249.24 629.50,249.29 629.80,249.20 630.10,248.97 630.40,249.25 630.70,249.30 631.00,249.16 631.30,249.06 631.60,249.10 631.90,249.14 632.20,249.28 632.50,249.25 632.80,249.02 633.10,248.16 633.40,245.71 633.70,241.72 633.90,239.63 634.00,238.45 634.30,236.92 634.43,236.67 634.60,236.51 634.90,236.46 634.97,236.54 635.20,237.31 635.50,239.28 635.50,239.50 635.80,242.97 636.10,246.69 636.40,248.62 636.70,248.96 637.00,249.04 637.30,249.34 637.60,249.27 637.90,249.04 638.20,249.31 638.50,249.22 638.80,249.20 639.10,249.03 639.40,249.32 639.70,248.98 640.00,249.28 640.30,249.39 640.60,249.25 640.90,249.19 641.20,249.01 641.50,249.33 641.80,249.39 642.10,249.35 642.40,249.37 642.70,249.06 643.00,249.30 643.30,249.31 643.60,249.12 643.90,249.35 644.20,249.31 644.50,249.16 644.80,249.02 645.10,248.97 645.40,248.63 645.70,248.03 646.00,247.55 646.00,247.87 646.30,248.02 646.60,248.29 646.90,248.80 647.20,249.20 647.50,249.22 647.80,249.27 648.10,249.04 648.40,249.24 648.70,249.08 649.00,249.34 649.30,249.14 649.60,248.56 649.90,248.40 650.00,248.31 650.20,248.37 650.50,248.76 650.80,249.15 651.10,249.27 651.40,249.35 651.70,249.32 652.00,249.30 652.30,249.25 652.60,249.25 652.90,249.30 653.20,249.33 653.50,249.28 653.80,248.94 654.10,249.07 654.40,249.17 654.70,249.18 655.00,249.03 655.30,249.12 655.60,249.24 655.90,249.36 656.20,249.19 656.50,249.10 656.80,249.33 657.10,249.29 657.40,249.21 657.70,249.26 658.00,248.97 658.30,249.32 658.60,249.24 658.90,249.38 659.20,249.30 659.50,249.16 659.80,249.35 660.10,249.08 660.40,249.27 660.70,249.31 661.00,249.26 661.30,249.08 661.60,249.26 661.90,249.38 662.20,249.31 662.50,249.25 662.80,249.40 663.10,248.99 663.40,249.39 663.70,249.31 664.00,249.02 664.30,248.84 664.60,249.33 664.90,249.20 665.20,249.06 665.50,249.30 665.80,249.10 666.10,249.38 666.40,249.35" fill="none" stroke="#555" stroke-width="0.6" stroke-linejoin="round"/>
<text x="666.00" y="247.30" font-size="6.4" text-anchor="end" fill="#222">3 h</text>
<line x1="591.30" y1="268.10" x2="593.50" y2="268.10" stroke="#333" stroke-width="0.7"/>
<text x="590.70" y="270.40" font-size="6.4" text-anchor="end" fill="#222">0</text>
<line x1="591.30" y1="255.50" x2="593.50" y2="255.50" stroke="#333" stroke-width="0.7"/>
<text x="590.70" y="257.80" font-size="6.4" text-anchor="end" fill="#222">2</text>
<polyline points="593.50,268.07 593.80,268.06 594.10,268.08 594.40,267.95 594.70,268.07 595.00,267.79 595.30,268.03 595.60,268.04 595.90,268.05 596.20,268.08 596.50,268.05 596.80,267.86 597.10,267.96 597.40,268.08 597.70,267.94 598.00,267.89 598.30,268.05 598.60,267.82 598.90,268.09 599.20,268.08 599.50,267.99 599.80,267.79 600.10,268.03 600.40,268.00 600.70,267.92 601.00,268.05 601.30,268.02 601.60,268.05 601.90,267.94 602.20,267.87 602.50,267.98 602.80,267.77 603.10,267.47 603.40,267.61 603.70,266.74 604.00,265.33 604.30,264.00 604.50,263.54 604.60,263.71 604.90,264.79 605.20,266.50 605.50,267.48 605.80,267.94 606.10,267.90 606.40,267.96 606.70,268.03 607.00,267.96 607.30,268.00 607.60,267.97 607.90,267.95 608.20,268.00 608.50,268.00 608.80,268.05 609.10,267.61 609.40,267.93 609.70,267.87 610.00,267.94 610.30,267.80 610.60,267.99 610.90,267.91 611.20,267.68 611.50,267.57 611.80,266.52 612.10,266.04 612.20,265.90 612.40,266.01 612.70,267.09 613.00,267.71 613.30,267.96 613.60,267.94 613.90,267.98 614.20,267.61 614.50,267.97 614.80,267.97 615.10,267.98 615.40,267.93 615.70,267.90 616.00,267.98 616.30,268.08 616.60,267.94 616.90,267.90 617.20,267.78 617.50,266.96 617.80,266.53 618.00,266.48 618.10,266.55 618.40,266.89 618.70,267.71 619.00,267.95 619.30,268.05 619.60,267.87 619.90,267.91 620.20,268.04 620.50,267.89 620.80,267.91 621.10,268.02 621.40,267.84 621.70,268.09 622.00,267.69 622.30,268.02 622.60,267.73 622.90,267.79 623.20,266.94 623.50,265.94 623.60,266.07 623.80,266.10 624.10,267.19 624.40,267.80 624.70,267.59 625.00,267.95 625.30,267.98 625.60,267.98 625.90,267.97 626.20,268.10 626.50,267.74 626.80,267.88 627.10,268.01 627.40,267.81 627.70,268.01 628.00,268.02 628.30,268.08 628.60,267.84 628.90,268.05 629.20,267.85 629.50,267.91 629.80,268.10 630.10,267.62 630.40,268.04 630.70,267.81 631.00,267.83 631.30,268.07 631.60,268.03 631.90,267.73 632.20,267.74 632.50,267.86 632.80,267.74 633.10,266.59 633.40,264.21 633.70,260.42 633.90,257.85 634.00,256.71 634.30,255.21 634.43,254.91 634.60,254.37 634.90,254.74 634.97,254.89 635.20,255.31 635.50,257.87 635.50,257.90 635.80,261.63 636.10,265.11 636.40,267.36 636.70,267.74 637.00,267.99 637.30,267.99 637.60,268.00 637.90,267.95 638.20,267.86 638.50,268.08 638.80,267.95 639.10,267.83 639.40,267.97 639.70,268.03 640.00,267.55 640.30,267.66 640.60,267.08 640.90,266.62 641.00,266.29 641.20,266.73 641.50,267.24 641.80,267.60 642.10,267.94 642.40,267.73 642.70,268.04 643.00,268.05 643.30,267.97 643.60,267.92 643.90,267.97 644.20,267.89 644.50,267.97 644.80,267.95 645.10,267.41 645.40,267.05 645.70,266.43 646.00,265.94 646.00,265.99 646.30,266.33 646.60,267.02 646.90,267.63 647.20,267.78 647.50,267.93 647.80,268.02 648.10,268.10 648.40,267.62 648.70,267.71 649.00,267.95 649.30,268.04 649.60,268.08 649.90,267.70 650.20,268.10 650.50,267.63 650.80,268.01 651.10,268.02 651.40,267.95 651.70,267.78 652.00,267.56 652.30,266.88 652.60,266.11 652.90,265.20 653.00,265.18 653.20,265.72 653.50,266.04 653.80,266.97 654.10,267.66 654.40,267.32 654.70,267.89 655.00,267.78 655.30,267.98 655.60,268.00 655.90,267.95 656.20,267.83 656.50,268.05 656.80,267.76 657.10,268.01 657.40,267.84 657.70,268.00 658.00,267.69 658.30,268.09 658.60,267.81 658.90,267.65 659.20,267.98 659.50,268.04 659.80,267.84 660.10,267.92 660.40,268.09 660.70,267.99 661.00,267.98 661.30,268.00 661.60,267.86 661.90,267.94 662.20,267.86 662.50,267.96 662.80,267.61 663.10,268.03 663.40,268.01 663.70,267.78 664.00,268.09 664.30,267.89 664.60,268.02 664.90,267.94 665.20,267.96 665.50,267.78 665.80,267.89 666.10,268.00 666.40,267.40" fill="none" stroke="#555" stroke-width="0.6" stroke-linejoin="round"/>
<text x="666.00" y="264.50" font-size="6.4" text-anchor="end" fill="#222">6 h</text>
<line x1="591.30" y1="287.20" x2="593.50" y2="287.20" stroke="#333" stroke-width="0.7"/>
<text x="590.70" y="289.50" font-size="6.4" text-anchor="end" fill="#222">0</text>
<line x1="591.30" y1="274.60" x2="593.50" y2="274.60" stroke="#333" stroke-width="0.7"/>
<text x="590.70" y="276.90" font-size="6.4" text-anchor="end" fill="#222">2</text>
<polyline points="593.50,286.89 593.80,287.12 594.10,287.06 594.40,287.02 594.70,287.02 595.00,286.87 595.30,286.96 595.60,287.13 595.90,286.98 596.20,287.17 596.50,286.91 596.80,286.90 597.10,286.86 597.40,287.10 597.70,287.08 598.00,287.15 598.30,286.97 598.60,286.89 598.90,287.13 599.20,287.13 599.50,286.95 599.80,287.18 600.10,287.16 600.40,286.92 600.70,286.93 601.00,287.19 601.30,287.15 601.60,287.15 601.90,286.74 602.20,287.01 602.50,287.11 602.80,287.05 603.10,286.98 603.40,286.91 603.70,286.46 604.00,286.05 604.30,285.40 604.50,285.45 604.60,285.69 604.90,286.03 605.20,286.38 605.50,286.75 605.80,287.00 606.10,287.08 606.40,286.88 606.70,287.14 607.00,287.00 607.30,286.85 607.60,287.19 607.90,287.13 608.20,287.03 608.50,287.09 608.80,287.09 609.10,286.94 609.40,286.94 609.70,287.15 610.00,287.01 610.30,287.04 610.60,287.10 610.90,286.67 611.20,287.09 611.50,286.76 611.80,285.96 612.10,285.68 612.20,285.61 612.40,285.80 612.70,286.18 613.00,286.79 613.30,286.93 613.60,286.88 613.90,287.00 614.20,287.04 614.50,287.15 614.80,287.18 615.10,286.75 615.40,287.19 615.70,287.09 616.00,287.18 616.30,287.14 616.60,286.57 616.90,286.84 617.20,286.95 617.50,287.03 617.80,286.92 618.10,286.71 618.40,287.19 618.70,287.08 619.00,286.81 619.30,287.07 619.60,287.04 619.90,287.18 620.20,287.11 620.50,287.07 620.80,286.73 621.10,286.94 621.40,287.02 621.70,287.05 622.00,287.13 622.30,286.80 622.60,286.96 622.90,287.11 623.20,287.03 623.50,287.15 623.80,287.08 624.10,287.05 624.40,286.91 624.70,286.89 625.00,287.13 625.30,287.06 625.60,287.16 625.90,287.14 626.20,287.06 626.50,286.73 626.80,286.78 627.10,287.16 627.40,286.97 627.70,287.15 628.00,287.18 628.30,286.92 628.60,287.12 628.90,286.74 629.20,287.17 629.50,286.87 629.80,286.80 630.10,287.06 630.40,287.12 630.70,286.96 631.00,286.94 631.30,287.19 631.60,287.18 631.90,287.17 632.20,287.09 632.50,287.07 632.80,286.86 633.10,285.95 633.40,283.36 633.70,279.22 633.90,276.69 634.00,275.81 634.30,273.94 634.43,273.46 634.60,273.44 634.90,273.64 634.97,273.69 635.20,274.41 635.50,276.50 635.50,276.78 635.80,280.46 636.10,284.16 636.40,286.30 636.70,286.98 637.00,287.07 637.30,287.17 637.60,286.96 637.90,287.09 638.20,287.07 638.50,287.11 638.80,287.05 639.10,286.97 639.40,287.17 639.70,286.89 640.00,286.92 640.30,286.43 640.60,286.12 640.90,285.48 641.00,285.49 641.20,285.58 641.50,286.42 641.80,286.84 642.10,286.68 642.40,286.94 642.70,286.90 643.00,287.16 643.30,287.17 643.60,286.86 643.90,286.93 644.20,287.05 644.50,286.74 644.80,286.93 645.10,286.55 645.40,285.52 645.70,284.76 646.00,284.27 646.00,284.05 646.30,284.78 646.60,285.57 646.90,286.47 647.20,287.00 647.50,287.05 647.80,287.01 648.10,287.19 648.40,287.09 648.70,287.13 649.00,287.01 649.30,286.96 649.60,286.92 649.90,287.13 650.20,286.98 650.50,287.06 650.80,286.85 651.10,287.18 651.40,286.94 651.70,286.61 652.00,286.40 652.30,286.48 652.60,285.75 652.90,285.66 653.00,285.69 653.20,285.61 653.50,285.79 653.80,286.61 654.10,286.83 654.40,286.91 654.70,286.74 655.00,286.91 655.30,287.02 655.60,287.06 655.90,287.11 656.20,286.74 656.50,287.20 656.80,287.14 657.10,287.05 657.40,286.90 657.70,286.93 658.00,287.09 658.30,287.19 658.60,287.11 658.90,287.04 659.20,287.19 659.50,287.04 659.80,287.02 660.10,286.93 660.40,287.04 660.70,287.07 661.00,286.98 661.30,287.11 661.60,286.90 661.90,287.14 662.20,286.95 662.50,287.00 662.80,286.81 663.10,287.17 663.40,287.13 663.70,286.90 664.00,287.11 664.30,286.89 664.60,287.09 664.90,286.96 665.20,286.69 665.50,287.13 665.80,287.15 666.10,287.13 666.40,287.17" fill="none" stroke="#555" stroke-width="0.6" stroke-linejoin="round"/>
<text x="666.00" y="281.70" font-size="6.4" text-anchor="end" fill="#222">12 h</text>
<line x1="591.30" y1="306.20" x2="593.50" y2="306.20" stroke="#333" stroke-width="0.7"/>
<text x="590.70" y="308.50" font-size="6.4" text-anchor="end" fill="#222">0</text>
<line x1="591.30" y1="293.60" x2="593.50" y2="293.60" stroke="#333" stroke-width="0.7"/>
<text x="590.70" y="295.90" font-size="6.4" text-anchor="end" fill="#222">2</text>
<polyline points="593.50,305.98 593.80,306.06 594.10,306.12 594.40,306.10 594.70,306.19 595.00,306.15 595.30,306.18 595.60,306.18 595.90,306.06 596.20,305.99 596.50,305.88 596.80,306.18 597.10,306.05 597.40,306.05 597.70,306.13 598.00,306.03 598.30,305.84 598.60,306.02 598.90,306.09 599.20,305.96 599.50,305.62 599.80,305.27 600.00,305.10 600.10,305.20 600.40,305.17 600.70,305.55 601.00,305.94 601.30,306.15 601.60,305.74 601.90,306.13 602.20,306.14 602.50,306.05 602.80,306.18 603.10,306.00 603.40,305.40 603.70,303.88 604.00,301.76 604.30,299.45 604.50,298.82 604.60,298.71 604.90,300.83 605.20,303.36 605.50,305.11 605.80,305.71 606.10,305.94 606.40,306.06 606.70,306.18 607.00,305.97 607.30,306.11 607.60,305.89 607.90,305.98 608.20,305.88 608.50,306.17 608.80,306.15 609.10,306.12 609.40,306.08 609.70,305.85 610.00,306.17 610.30,306.04 610.60,305.99 610.90,306.00 611.20,306.19 611.50,306.17 611.80,306.10 612.10,305.99 612.40,305.86 612.70,306.14 613.00,306.15 613.30,306.14 613.60,306.17 613.90,306.12 614.20,306.13 614.50,306.07 614.80,305.93 615.10,306.05 615.40,305.95 615.70,306.12 616.00,305.91 616.30,306.20 616.60,306.16 616.90,306.04 617.20,305.33 617.50,304.46 617.80,303.15 618.00,302.69 618.10,302.66 618.40,303.99 618.70,304.83 619.00,305.99 619.30,306.09 619.60,305.78 619.90,306.17 620.20,305.99 620.50,306.05 620.80,306.03 621.10,306.19 621.40,306.13 621.70,306.00 622.00,305.72 622.30,306.05 622.60,306.06 622.90,306.13 623.20,305.91 623.50,306.09 623.80,306.00 624.10,306.10 624.40,305.93 624.70,305.82 625.00,305.81 625.30,305.97 625.60,306.18 625.90,306.03 626.20,305.82 626.50,306.12 626.80,306.19 627.10,305.87 627.40,306.12 627.70,306.17 628.00,306.17 628.30,305.99 628.60,305.88 628.90,305.81 629.20,306.20 629.50,306.05 629.80,305.99 630.10,306.05 630.40,306.12 630.70,306.03 631.00,305.74 631.30,306.19 631.60,305.79 631.90,305.98 632.20,305.90 632.50,306.05 632.80,305.89 633.10,304.79 633.40,302.04 633.70,298.28 633.90,295.73 634.00,294.60 634.30,292.99 634.43,292.43 634.60,292.59 634.90,292.64 634.97,292.65 635.20,293.21 635.50,295.80 635.50,295.71 635.80,299.74 636.10,303.42 636.40,305.30 636.70,305.93 637.00,305.89 637.30,306.20 637.60,306.16 637.90,306.10 638.20,305.94 638.50,306.06 638.80,306.06 639.10,305.91 639.40,306.08 639.70,305.93 640.00,305.98 640.30,305.54 640.60,305.22 640.90,304.71 641.00,304.67 641.20,304.76 641.50,305.37 641.80,305.94 642.10,305.76 642.40,306.04 642.70,306.09 643.00,306.14 643.30,305.75 643.60,305.98 643.90,305.90 644.20,305.94 644.50,306.16 644.80,305.81 645.10,305.30 645.40,304.05 645.70,302.40 646.00,301.79 646.00,301.93 646.30,302.60 646.60,304.09 646.90,305.19 647.20,305.79 647.50,306.01 647.80,306.12 648.10,305.89 648.40,306.02 648.70,306.03 649.00,306.03 649.30,306.04 649.60,306.15 649.90,306.04 650.20,306.06 650.50,305.83 650.80,305.90 651.10,306.15 651.40,306.11 651.70,305.90 652.00,305.43 652.30,304.35 652.60,303.31 652.90,302.72 653.00,302.49 653.20,302.83 653.50,303.45 653.80,304.90 654.10,305.63 654.40,305.91 654.70,305.96 655.00,305.96 655.30,306.05 655.60,305.90 655.90,306.06 656.20,306.07 656.50,306.18 656.80,306.20 657.10,306.05 657.40,306.11 657.70,306.00 658.00,305.91 658.30,306.02 658.60,305.89 658.90,305.93 659.20,305.79 659.50,305.45 659.80,305.03 660.00,305.12 660.10,305.19 660.40,305.33 660.70,305.65 661.00,305.97 661.30,305.69 661.60,305.99 661.90,306.16 662.20,306.13 662.50,306.18 662.80,305.84 663.10,306.16 663.40,305.83 663.70,306.06 664.00,305.70 664.30,306.19 664.60,306.13 664.90,306.07 665.20,306.01 665.50,306.03 665.80,306.17 666.10,306.19 666.40,305.86" fill="none" stroke="#555" stroke-width="0.6" stroke-linejoin="round"/>
<text x="666.00" y="299.30" font-size="6.4" text-anchor="end" fill="#222">24 h</text>
<line x1="591.30" y1="324.90" x2="593.50" y2="324.90" stroke="#333" stroke-width="0.7"/>
<text x="590.70" y="327.20" font-size="6.4" text-anchor="end" fill="#222">0</text>
<line x1="591.30" y1="312.30" x2="593.50" y2="312.30" stroke="#333" stroke-width="0.7"/>
<text x="590.70" y="314.60" font-size="6.4" text-anchor="end" fill="#222">2</text>
<polyline points="593.50,324.87 593.80,324.66 594.10,324.73 594.40,324.81 594.70,324.87 595.00,324.89 595.30,324.88 595.60,324.80 595.90,324.77 596.20,324.58 596.50,324.61 596.80,324.83 597.10,324.65 597.40,324.62 597.70,324.89 598.00,324.76 598.30,324.71 598.60,324.62 598.90,324.67 599.20,324.63 599.50,324.25 599.80,323.55 600.00,323.82 600.10,323.79 600.40,324.17 600.70,324.11 601.00,324.76 601.30,324.84 601.60,324.90 601.90,324.72 602.20,324.57 602.50,324.62 602.80,324.87 603.10,324.46 603.40,324.05 603.70,322.67 604.00,320.41 604.30,317.89 604.50,317.54 604.60,317.71 604.90,319.24 605.20,321.97 605.50,323.78 605.80,324.43 606.10,324.61 606.40,324.87 606.70,324.77 607.00,324.78 607.30,324.56 607.60,324.70 607.90,324.76 608.20,324.72 608.50,324.72 608.80,324.79 609.10,324.69 609.40,324.71 609.70,324.49 610.00,324.82 610.30,324.76 610.60,324.69 610.90,324.86 611.20,324.73 611.50,324.78 611.80,324.63 612.10,324.42 612.40,324.74 612.70,324.67 613.00,324.72 613.30,324.72 613.60,324.81 613.90,324.86 614.20,324.68 614.50,324.63 614.80,324.41 615.10,324.74 615.40,324.70 615.70,324.77 616.00,324.69 616.30,324.87 616.60,324.86 616.90,324.43 617.20,324.49 617.50,323.66 617.80,322.95 618.00,322.80 618.10,322.52 618.40,323.51 618.70,324.34 619.00,324.55 619.30,324.70 619.60,324.62 619.90,324.74 620.20,324.89 620.50,324.67 620.80,324.78 621.10,324.73 621.40,324.80 621.70,324.72 622.00,324.73 622.30,324.78 622.60,324.79 622.90,324.48 623.20,324.65 623.50,324.78 623.80,324.74 624.10,324.62 624.40,324.88 624.70,324.70 625.00,324.79 625.30,324.80 625.60,324.70 625.90,324.84 626.20,324.57 626.50,324.86 626.80,324.78 627.10,324.65 627.40,324.70 627.70,324.68 628.00,324.64 628.30,324.75 628.60,324.84 628.90,324.86 629.20,324.77 629.50,324.82 629.80,324.89 630.10,324.83 630.40,324.75 630.70,324.76 631.00,324.68 631.30,324.59 631.60,324.55 631.90,324.76 632.20,324.79 632.50,324.69 632.80,324.31 633.10,323.52 633.40,320.70 633.70,316.76 633.90,313.91 634.00,312.93 634.30,310.96 634.43,310.68 634.60,310.59 634.90,310.77 634.97,310.92 635.20,311.59 635.50,313.93 635.50,314.06 635.80,318.17 636.10,321.84 636.40,324.11 636.70,324.45 637.00,324.58 637.30,324.70 637.60,324.67 637.90,324.75 638.20,324.65 638.50,324.72 638.80,324.75 639.10,324.64 639.40,324.72 639.70,324.31 640.00,324.71 640.30,323.95 640.60,323.84 640.90,323.30 641.00,323.19 641.20,323.32 641.50,324.07 641.80,324.56 642.10,324.67 642.40,324.82 642.70,324.48 643.00,324.68 643.30,324.87 643.60,324.87 643.90,324.71 644.20,324.71 644.50,324.82 644.80,324.64 645.10,324.01 645.40,322.98 645.70,321.46 646.00,320.99 646.00,320.93 646.30,321.73 646.60,322.82 646.90,323.89 647.20,324.61 647.50,324.80 647.80,324.74 648.10,324.87 648.40,324.51 648.70,324.63 649.00,324.78 649.30,324.70 649.60,324.86 649.90,324.49 650.20,324.80 650.50,324.88 650.80,324.70 651.10,324.75 651.40,324.74 651.70,324.69 652.00,324.06 652.30,323.92 652.60,323.24 652.90,322.88 653.00,322.43 653.20,322.58 653.50,323.25 653.80,324.12 654.10,324.52 654.40,324.60 654.70,324.54 655.00,324.63 655.30,324.87 655.60,324.87 655.90,324.51 656.20,324.80 656.50,324.61 656.80,324.71 657.10,324.57 657.40,324.90 657.70,324.79 658.00,324.74 658.30,324.80 658.60,324.75 658.90,324.49 659.20,324.76 659.50,324.84 659.80,324.88 660.10,324.56 660.40,324.73 660.70,324.55 661.00,324.49 661.30,324.89 661.60,324.61 661.90,324.75 662.20,324.65 662.50,324.79 662.80,324.84 663.10,324.85 663.40,324.82 663.70,324.82 664.00,324.71 664.30,324.43 664.60,324.86 664.90,324.88 665.20,324.81 665.50,324.70 665.80,324.54 666.10,324.66 666.40,324.64" fill="none" stroke="#555" stroke-width="0.6" stroke-linejoin="round"/>
<text x="666.00" y="317.70" font-size="6.4" text-anchor="end" fill="#222">CK</text>
<line x1="598.40" y1="216.00" x2="598.40" y2="325.00" stroke="#ee2020" stroke-width="0.9" stroke-dasharray="2 1.3"/>
<line x1="612.20" y1="216.00" x2="612.20" y2="325.00" stroke="#30d040" stroke-width="0.9" stroke-dasharray="2 1.3"/>
<line x1="614.40" y1="216.00" x2="614.40" y2="325.00" stroke="#2020ee" stroke-width="0.9" stroke-dasharray="2 1.3"/>
<line x1="623.60" y1="216.00" x2="623.60" y2="325.00" stroke="#20d8f0" stroke-width="0.9" stroke-dasharray="2 1.3"/>
<line x1="642.20" y1="216.00" x2="642.20" y2="325.00" stroke="#f5a020" stroke-width="0.9" stroke-dasharray="2 1.3"/>
<path d="M612.2,216 Q612.8,212.6 614.6,211.8" fill="none" stroke="#30d040" stroke-width="0.9" stroke-dasharray="1.5 1"/>
<path d="M614.4,216 Q615.0,212.6 616.8,211.8" fill="none" stroke="#2020ee" stroke-width="0.9" stroke-dasharray="1.5 1"/>
<path d="M623.6,216 Q624.0,213 625.2,212.2" fill="none" stroke="#20d8f0" stroke-width="0.9" stroke-dasharray="1.5 1"/>
<path d="M642.2,216 Q642.6,213 644.2,212.2" fill="none" stroke="#f5a020" stroke-width="0.9" stroke-dasharray="1.5 1"/>
<text x="603.20" y="207.20" font-size="6.4" text-anchor="start" fill="#222">3-epi-DON</text>
<text x="595.10" y="215.00" font-size="6.4" text-anchor="start" fill="#222">DON</text>
<text x="616.80" y="215.00" font-size="6.4" text-anchor="start" fill="#222">M1</text>
<text x="625.00" y="215.00" font-size="6.4" text-anchor="start" fill="#222">M2</text>
<text x="644.40" y="215.00" font-size="6.4" text-anchor="start" fill="#222">M3</text>
<text x="-0.1" y="355.5" font-size="14.5" font-weight="bold" fill="#000">g</text>
<line x1="42.40" y1="355.50" x2="42.40" y2="412.30" stroke="#555" stroke-width="0.9"/>
<line x1="42.40" y1="419.60" x2="42.40" y2="465.30" stroke="#555" stroke-width="0.9"/>
<line x1="39.60" y1="409.20" x2="44.80" y2="415.00" stroke="#444" stroke-width="0.7"/>
<line x1="40.00" y1="416.70" x2="44.80" y2="421.60" stroke="#444" stroke-width="0.7"/>
<line x1="42.00" y1="464.90" x2="190.90" y2="464.90" stroke="#555" stroke-width="0.9"/>
<line x1="38.80" y1="409.00" x2="42.40" y2="409.00" stroke="#555" stroke-width="0.8"/>
<text x="37.00" y="411.81" font-size="7.8" text-anchor="end" fill="#222">20</text>
<line x1="38.80" y1="398.35" x2="42.40" y2="398.35" stroke="#555" stroke-width="0.8"/>
<text x="37.00" y="401.16" font-size="7.8" text-anchor="end" fill="#222">40</text>
<line x1="38.80" y1="387.70" x2="42.40" y2="387.70" stroke="#555" stroke-width="0.8"/>
<text x="37.00" y="390.51" font-size="7.8" text-anchor="end" fill="#222">60</text>
<line x1="38.80" y1="377.05" x2="42.40" y2="377.05" stroke="#555" stroke-width="0.8"/>
<text x="37.00" y="379.86" font-size="7.8" text-anchor="end" fill="#222">80</text>
<line x1="38.80" y1="366.40" x2="42.40" y2="366.40" stroke="#555" stroke-width="0.8"/>
<text x="37.00" y="369.21" font-size="7.8" text-anchor="end" fill="#222">100</text>
<line x1="38.80" y1="355.75" x2="42.40" y2="355.75" stroke="#555" stroke-width="0.8"/>
<text x="37.00" y="358.56" font-size="7.8" text-anchor="end" fill="#222">120</text>
<line x1="38.80" y1="464.90" x2="42.40" y2="464.90" stroke="#555" stroke-width="0.8"/>
<text x="37.00" y="467.71" font-size="7.8" text-anchor="end" fill="#222">0</text>
<line x1="38.80" y1="444.15" x2="42.40" y2="444.15" stroke="#555" stroke-width="0.8"/>
<text x="37.00" y="446.96" font-size="7.8" text-anchor="end" fill="#222">5</text>
<line x1="38.80" y1="423.40" x2="42.40" y2="423.40" stroke="#555" stroke-width="0.8"/>
<text x="37.00" y="426.21" font-size="7.8" text-anchor="end" fill="#222">10</text>
<line x1="40.40" y1="454.52" x2="42.40" y2="454.52" stroke="#555" stroke-width="0.7"/>
<line x1="40.40" y1="433.77" x2="42.40" y2="433.77" stroke="#555" stroke-width="0.7"/>
<line x1="42.40" y1="464.90" x2="42.40" y2="468.10" stroke="#555" stroke-width="0.8"/>
<text x="42.40" y="477.31" font-size="7.8" text-anchor="middle" fill="#222">0</text>
<line x1="71.98" y1="464.90" x2="71.98" y2="468.10" stroke="#555" stroke-width="0.8"/>
<text x="71.98" y="477.31" font-size="7.8" text-anchor="middle" fill="#222">6</text>
<line x1="101.56" y1="464.90" x2="101.56" y2="468.10" stroke="#555" stroke-width="0.8"/>
<text x="101.56" y="477.31" font-size="7.8" text-anchor="middle" fill="#222">12</text>
<line x1="131.14" y1="464.90" x2="131.14" y2="468.10" stroke="#555" stroke-width="0.8"/>
<text x="131.14" y="477.31" font-size="7.8" text-anchor="middle" fill="#222">18</text>
<line x1="160.72" y1="464.90" x2="160.72" y2="468.10" stroke="#555" stroke-width="0.8"/>
<text x="160.72" y="477.31" font-size="7.8" text-anchor="middle" fill="#222">24</text>
<line x1="190.30" y1="464.90" x2="190.30" y2="468.10" stroke="#555" stroke-width="0.8"/>
<text x="190.30" y="477.31" font-size="7.8" text-anchor="middle" fill="#222">30</text>
<line x1="57.19" y1="464.90" x2="57.19" y2="466.90" stroke="#555" stroke-width="0.7"/>
<line x1="86.77" y1="464.90" x2="86.77" y2="466.90" stroke="#555" stroke-width="0.7"/>
<line x1="116.35" y1="464.90" x2="116.35" y2="466.90" stroke="#555" stroke-width="0.7"/>
<line x1="145.93" y1="464.90" x2="145.93" y2="466.90" stroke="#555" stroke-width="0.7"/>
<line x1="175.51" y1="464.90" x2="175.51" y2="466.90" stroke="#555" stroke-width="0.7"/>
<text x="116.50" y="488.38" font-size="8.0" text-anchor="middle" fill="#222">Time (h)</text>
<text transform="translate(18.0,411.0) rotate(-90)" font-size="8.1" text-anchor="middle" fill="#222">Relative abundance (%)</text>
<polyline points="42.40,464.90 44.86,464.90 57.19,452.45 71.98,447.88 86.77,445.81 101.56,451.62 121.28,461.58 160.72,464.90 190.30,464.90" fill="none" stroke="#f5a623" stroke-width="1.15" stroke-linejoin="round"/>
<circle cx="42.40" cy="464.90" r="2.1" fill="#f5a623"/>
<circle cx="44.86" cy="464.90" r="2.1" fill="#f5a623"/>
<circle cx="57.19" cy="452.45" r="2.1" fill="#f5a623"/>
<circle cx="71.98" cy="447.88" r="2.1" fill="#f5a623"/>
<circle cx="86.77" cy="445.81" r="2.1" fill="#f5a623"/>
<circle cx="101.56" cy="451.62" r="2.1" fill="#f5a623"/>
<circle cx="121.28" cy="461.58" r="2.1" fill="#f5a623"/>
<circle cx="160.72" cy="464.90" r="2.1" fill="#f5a623"/>
<circle cx="190.30" cy="464.90" r="2.1" fill="#f5a623"/>
<polyline points="42.40,464.90 44.86,454.52 57.19,443.32 71.98,448.30 86.77,453.69 101.56,458.26 121.28,461.16 160.72,462.41 190.30,464.90" fill="none" stroke="#38c8f4" stroke-width="1.15" stroke-linejoin="round"/>
<circle cx="42.40" cy="464.90" r="2.1" fill="#38c8f4"/>
<circle cx="44.86" cy="454.52" r="2.1" fill="#38c8f4"/>
<circle cx="57.19" cy="443.32" r="2.1" fill="#38c8f4"/>
<circle cx="71.98" cy="448.30" r="2.1" fill="#38c8f4"/>
<circle cx="86.77" cy="453.69" r="2.1" fill="#38c8f4"/>
<circle cx="101.56" cy="458.26" r="2.1" fill="#38c8f4"/>
<circle cx="121.28" cy="461.16" r="2.1" fill="#38c8f4"/>
<circle cx="160.72" cy="462.41" r="2.1" fill="#38c8f4"/>
<circle cx="190.30" cy="464.90" r="2.1" fill="#38c8f4"/>
<polyline points="42.40,464.90 44.86,459.09 57.19,450.38 71.98,456.19 86.77,458.88 101.56,461.79 121.28,464.90 160.72,464.90 190.30,464.90" fill="none" stroke="#2424dc" stroke-width="1.15" stroke-linejoin="round"/>
<circle cx="42.40" cy="464.90" r="2.1" fill="#2424dc"/>
<circle cx="44.86" cy="459.09" r="2.1" fill="#2424dc"/>
<circle cx="57.19" cy="450.38" r="2.1" fill="#2424dc"/>
<circle cx="71.98" cy="456.19" r="2.1" fill="#2424dc"/>
<circle cx="86.77" cy="458.88" r="2.1" fill="#2424dc"/>
<circle cx="101.56" cy="461.79" r="2.1" fill="#2424dc"/>
<circle cx="121.28" cy="464.90" r="2.1" fill="#2424dc"/>
<circle cx="160.72" cy="464.90" r="2.1" fill="#2424dc"/>
<circle cx="190.30" cy="464.90" r="2.1" fill="#2424dc"/>
<polyline points="42.40,464.90 44.86,458.26 57.19,437.92 71.98,447.47 86.77,449.96 101.56,453.69 121.28,461.16 160.72,464.90 190.30,464.90" fill="none" stroke="#2cc02c" stroke-width="1.15" stroke-linejoin="round"/>
<circle cx="42.40" cy="464.90" r="2.1" fill="#2cc02c"/>
<circle cx="44.86" cy="458.26" r="2.1" fill="#2cc02c"/>
<circle cx="57.19" cy="437.92" r="2.1" fill="#2cc02c"/>
<circle cx="71.98" cy="447.47" r="2.1" fill="#2cc02c"/>
<circle cx="86.77" cy="449.96" r="2.1" fill="#2cc02c"/>
<circle cx="101.56" cy="453.69" r="2.1" fill="#2cc02c"/>
<circle cx="121.28" cy="461.16" r="2.1" fill="#2cc02c"/>
<circle cx="160.72" cy="464.90" r="2.1" fill="#2cc02c"/>
<circle cx="190.30" cy="464.90" r="2.1" fill="#2cc02c"/>
<line x1="57.19" y1="434.19" x2="57.19" y2="441.66" stroke="#2cc02c" stroke-width="0.8"/>
<line x1="55.89" y1="434.19" x2="58.49" y2="434.19" stroke="#2cc02c" stroke-width="0.8"/>
<line x1="55.89" y1="441.66" x2="58.49" y2="441.66" stroke="#2cc02c" stroke-width="0.8"/>
<line x1="57.19" y1="448.71" x2="57.19" y2="452.04" stroke="#2424dc" stroke-width="0.8"/>
<line x1="55.89" y1="448.71" x2="58.49" y2="448.71" stroke="#2424dc" stroke-width="0.8"/>
<line x1="55.89" y1="452.04" x2="58.49" y2="452.04" stroke="#2424dc" stroke-width="0.8"/>
<line x1="71.98" y1="451.62" x2="71.98" y2="460.75" stroke="#ec3c94" stroke-width="0.8"/>
<line x1="70.68" y1="451.62" x2="73.28" y2="451.62" stroke="#ec3c94" stroke-width="0.8"/>
<line x1="70.68" y1="460.75" x2="73.28" y2="460.75" stroke="#ec3c94" stroke-width="0.8"/>
<line x1="86.77" y1="447.88" x2="86.77" y2="452.03" stroke="#2cc02c" stroke-width="0.8"/>
<line x1="85.47" y1="447.88" x2="88.07" y2="447.88" stroke="#2cc02c" stroke-width="0.8"/>
<line x1="85.47" y1="452.03" x2="88.07" y2="452.03" stroke="#2cc02c" stroke-width="0.8"/>
<polyline points="42.40,366.40 44.86,377.05 57.19,405.27" fill="none" stroke="#ec3c94" stroke-width="1.0" stroke-linejoin="round" stroke-dasharray="2.2 1.4"/>
<path d="M57.19,405.27 Q63.11,431.70 71.98,456.19 Q79.38,464.07 86.77,464.90 L190.30,464.90" fill="none" stroke="#ec3c94" stroke-width="1.0" stroke-dasharray="2.2 1.4"/>
<circle cx="42.40" cy="366.40" r="1.9" fill="#f47ab8" stroke="#ec3c94" stroke-width="0.9"/>
<circle cx="44.86" cy="377.05" r="1.9" fill="#f47ab8" stroke="#ec3c94" stroke-width="0.9"/>
<circle cx="57.19" cy="405.27" r="1.9" fill="#f47ab8" stroke="#ec3c94" stroke-width="0.9"/>
<circle cx="71.98" cy="456.19" r="1.9" fill="#f47ab8" stroke="#ec3c94" stroke-width="0.9"/>
<circle cx="86.77" cy="464.90" r="1.9" fill="#f47ab8" stroke="#ec3c94" stroke-width="0.9"/>
<circle cx="101.56" cy="464.90" r="1.9" fill="#f47ab8" stroke="#ec3c94" stroke-width="0.9"/>
<circle cx="121.28" cy="464.90" r="1.9" fill="#f47ab8" stroke="#ec3c94" stroke-width="0.9"/>
<circle cx="160.72" cy="464.90" r="1.9" fill="#f47ab8" stroke="#ec3c94" stroke-width="0.9"/>
<circle cx="190.30" cy="464.90" r="1.9" fill="#f47ab8" stroke="#ec3c94" stroke-width="0.9"/>
<line x1="139.70" y1="355.30" x2="150.70" y2="355.30" stroke="#ec3c94" stroke-width="1.0" stroke-dasharray="2.2 1.4"/>
<circle cx="145.3" cy="355.30" r="1.9" fill="#f47ab8" stroke="#ec3c94" stroke-width="0.9"/>
<text x="156.00" y="358.11" font-size="7.8" text-anchor="start" fill="#222">DON</text>
<line x1="139.70" y1="368.40" x2="150.70" y2="368.40" stroke="#2cc02c" stroke-width="1.0"/>
<circle cx="145.3" cy="368.40" r="2.0" fill="#2cc02c"/>
<text x="156.00" y="371.21" font-size="7.8" text-anchor="start" fill="#222">3-epi-DON</text>
<line x1="139.70" y1="381.50" x2="150.70" y2="381.50" stroke="#2424dc" stroke-width="1.0"/>
<circle cx="145.3" cy="381.50" r="2.0" fill="#2424dc"/>
<text x="156.00" y="384.31" font-size="7.8" text-anchor="start" fill="#222">M1</text>
<line x1="139.70" y1="394.60" x2="150.70" y2="394.60" stroke="#38c8f4" stroke-width="1.0"/>
<circle cx="145.3" cy="394.60" r="2.0" fill="#38c8f4"/>
<text x="156.00" y="397.41" font-size="7.8" text-anchor="start" fill="#222">M2</text>
<line x1="139.70" y1="407.70" x2="150.70" y2="407.70" stroke="#f5a623" stroke-width="1.0"/>
<circle cx="145.3" cy="407.70" r="2.0" fill="#f5a623"/>
<text x="156.00" y="410.51" font-size="7.8" text-anchor="start" fill="#222">M3</text>
<text x="215.9" y="355.8" font-size="14.5" font-weight="bold" fill="#000">h</text>
<line x1="239.00" y1="380.90" x2="239.00" y2="466.10" stroke="#333" stroke-width="0.8"/>
<line x1="238.60" y1="465.70" x2="365.20" y2="465.70" stroke="#333" stroke-width="0.8"/>
<line x1="236.70" y1="465.70" x2="239.00" y2="465.70" stroke="#333" stroke-width="0.7"/>
<text x="236.10" y="468.18" font-size="6.9" text-anchor="end" fill="#222">0</text>
<line x1="236.70" y1="444.55" x2="239.00" y2="444.55" stroke="#333" stroke-width="0.7"/>
<text x="236.10" y="447.03" font-size="6.9" text-anchor="end" fill="#222">1</text>
<line x1="236.70" y1="423.40" x2="239.00" y2="423.40" stroke="#333" stroke-width="0.7"/>
<text x="236.10" y="425.88" font-size="6.9" text-anchor="end" fill="#222">2</text>
<line x1="236.70" y1="402.25" x2="239.00" y2="402.25" stroke="#333" stroke-width="0.7"/>
<text x="236.10" y="404.73" font-size="6.9" text-anchor="end" fill="#222">3</text>
<line x1="236.70" y1="381.10" x2="239.00" y2="381.10" stroke="#333" stroke-width="0.7"/>
<text x="236.10" y="383.58" font-size="6.9" text-anchor="end" fill="#222">4</text>
<line x1="239.00" y1="465.70" x2="239.00" y2="468.00" stroke="#333" stroke-width="0.7"/>
<text x="239.00" y="478.08" font-size="6.9" text-anchor="middle" fill="#222">200</text>
<line x1="251.60" y1="465.70" x2="251.60" y2="467.00" stroke="#333" stroke-width="0.6"/>
<line x1="264.20" y1="465.70" x2="264.20" y2="468.00" stroke="#333" stroke-width="0.7"/>
<text x="264.20" y="478.08" font-size="6.9" text-anchor="middle" fill="#222">300</text>
<line x1="276.80" y1="465.70" x2="276.80" y2="467.00" stroke="#333" stroke-width="0.6"/>
<line x1="289.40" y1="465.70" x2="289.40" y2="468.00" stroke="#333" stroke-width="0.7"/>
<text x="289.40" y="478.08" font-size="6.9" text-anchor="middle" fill="#222">400</text>
<line x1="302.00" y1="465.70" x2="302.00" y2="467.00" stroke="#333" stroke-width="0.6"/>
<line x1="314.60" y1="465.70" x2="314.60" y2="468.00" stroke="#333" stroke-width="0.7"/>
<text x="314.60" y="478.08" font-size="6.9" text-anchor="middle" fill="#222">500</text>
<line x1="327.20" y1="465.70" x2="327.20" y2="467.00" stroke="#333" stroke-width="0.6"/>
<line x1="339.80" y1="465.70" x2="339.80" y2="468.00" stroke="#333" stroke-width="0.7"/>
<text x="339.80" y="478.08" font-size="6.9" text-anchor="middle" fill="#222">600</text>
<line x1="352.40" y1="465.70" x2="352.40" y2="467.00" stroke="#333" stroke-width="0.6"/>
<line x1="365.00" y1="465.70" x2="365.00" y2="468.00" stroke="#333" stroke-width="0.7"/>
<text x="365.00" y="478.08" font-size="6.9" text-anchor="middle" fill="#222">700</text>
<line x1="239.00" y1="381.10" x2="279.80" y2="381.10" stroke="#333" stroke-width="0.8"/>
<text x="239.60" y="378.68" font-size="6.9" text-anchor="start" fill="#222">EI-MS(×10<tspan font-size="4.3" dy="-2.4">4</tspan><tspan dy="2.4">)</tspan></text>
<line x1="265.42" y1="465.70" x2="265.42" y2="462.05" stroke="#1414e6" stroke-width="0.6"/>
<line x1="292.77" y1="465.70" x2="292.77" y2="464.26" stroke="#1414e6" stroke-width="0.6"/>
<line x1="268.63" y1="465.70" x2="268.63" y2="462.01" stroke="#1414e6" stroke-width="0.6"/>
<line x1="249.90" y1="465.70" x2="249.90" y2="461.62" stroke="#1414e6" stroke-width="0.6"/>
<line x1="275.71" y1="465.70" x2="275.71" y2="460.70" stroke="#1414e6" stroke-width="0.6"/>
<line x1="244.66" y1="465.70" x2="244.66" y2="463.61" stroke="#1414e6" stroke-width="0.6"/>
<line x1="244.46" y1="465.70" x2="244.46" y2="457.06" stroke="#1414e6" stroke-width="0.6"/>
<line x1="279.39" y1="465.70" x2="279.39" y2="465.56" stroke="#1414e6" stroke-width="0.6"/>
<line x1="296.13" y1="465.70" x2="296.13" y2="461.95" stroke="#1414e6" stroke-width="0.6"/>
<line x1="277.10" y1="465.70" x2="277.10" y2="462.37" stroke="#1414e6" stroke-width="0.6"/>
<line x1="248.33" y1="465.70" x2="248.33" y2="465.56" stroke="#1414e6" stroke-width="0.6"/>
<line x1="269.82" y1="465.70" x2="269.82" y2="465.48" stroke="#1414e6" stroke-width="0.6"/>
<line x1="250.22" y1="465.70" x2="250.22" y2="464.27" stroke="#1414e6" stroke-width="0.6"/>
<line x1="240.94" y1="465.70" x2="240.94" y2="461.72" stroke="#1414e6" stroke-width="0.6"/>
<line x1="264.73" y1="465.70" x2="264.73" y2="458.93" stroke="#1414e6" stroke-width="0.6"/>
<line x1="269.29" y1="465.70" x2="269.29" y2="461.56" stroke="#1414e6" stroke-width="0.6"/>
<line x1="268.17" y1="465.70" x2="268.17" y2="461.26" stroke="#1414e6" stroke-width="0.6"/>
<line x1="265.71" y1="465.70" x2="265.71" y2="464.35" stroke="#1414e6" stroke-width="0.6"/>
<line x1="297.02" y1="465.70" x2="297.02" y2="461.90" stroke="#1414e6" stroke-width="0.6"/>
<line x1="287.90" y1="465.70" x2="287.90" y2="462.59" stroke="#1414e6" stroke-width="0.6"/>
<line x1="257.47" y1="465.70" x2="257.47" y2="464.50" stroke="#1414e6" stroke-width="0.6"/>
<line x1="255.95" y1="465.70" x2="255.95" y2="465.37" stroke="#1414e6" stroke-width="0.6"/>
<line x1="283.61" y1="465.70" x2="283.61" y2="464.17" stroke="#1414e6" stroke-width="0.6"/>
<line x1="288.27" y1="465.70" x2="288.27" y2="464.42" stroke="#1414e6" stroke-width="0.6"/>
<line x1="294.73" y1="465.70" x2="294.73" y2="462.45" stroke="#1414e6" stroke-width="0.6"/>
<line x1="239.23" y1="465.70" x2="239.23" y2="464.33" stroke="#1414e6" stroke-width="0.6"/>
<line x1="291.96" y1="465.70" x2="291.96" y2="464.20" stroke="#1414e6" stroke-width="0.6"/>
<line x1="296.02" y1="465.70" x2="296.02" y2="464.68" stroke="#1414e6" stroke-width="0.6"/>
<line x1="243.43" y1="465.70" x2="243.43" y2="459.69" stroke="#1414e6" stroke-width="0.6"/>
<line x1="284.32" y1="465.70" x2="284.32" y2="464.83" stroke="#1414e6" stroke-width="0.6"/>
<line x1="244.25" y1="465.70" x2="244.25" y2="463.31" stroke="#1414e6" stroke-width="0.6"/>
<line x1="295.08" y1="465.70" x2="295.08" y2="462.98" stroke="#1414e6" stroke-width="0.6"/>
<line x1="246.04" y1="465.70" x2="246.04" y2="464.15" stroke="#1414e6" stroke-width="0.6"/>
<line x1="245.06" y1="465.70" x2="245.06" y2="465.37" stroke="#1414e6" stroke-width="0.6"/>
<line x1="285.40" y1="465.70" x2="285.40" y2="465.21" stroke="#1414e6" stroke-width="0.6"/>
<line x1="271.62" y1="465.70" x2="271.62" y2="463.35" stroke="#1414e6" stroke-width="0.6"/>
<line x1="250.25" y1="465.70" x2="250.25" y2="458.83" stroke="#1414e6" stroke-width="0.6"/>
<line x1="246.79" y1="465.70" x2="246.79" y2="459.75" stroke="#1414e6" stroke-width="0.6"/>
<line x1="245.95" y1="465.70" x2="245.95" y2="462.45" stroke="#1414e6" stroke-width="0.6"/>
<line x1="251.54" y1="465.70" x2="251.54" y2="464.07" stroke="#1414e6" stroke-width="0.6"/>
<line x1="295.48" y1="465.70" x2="295.48" y2="462.78" stroke="#1414e6" stroke-width="0.6"/>
<line x1="256.83" y1="465.70" x2="256.83" y2="457.40" stroke="#1414e6" stroke-width="0.6"/>
<line x1="251.41" y1="465.70" x2="251.41" y2="462.95" stroke="#1414e6" stroke-width="0.6"/>
<line x1="288.72" y1="465.70" x2="288.72" y2="463.08" stroke="#1414e6" stroke-width="0.6"/>
<line x1="245.02" y1="465.70" x2="245.02" y2="454.09" stroke="#1414e6" stroke-width="0.6"/>
<line x1="251.56" y1="465.70" x2="251.56" y2="464.17" stroke="#1414e6" stroke-width="0.6"/>
<line x1="283.99" y1="465.70" x2="283.99" y2="464.55" stroke="#1414e6" stroke-width="0.6"/>
<line x1="256.37" y1="465.70" x2="256.37" y2="465.36" stroke="#1414e6" stroke-width="0.6"/>
<line x1="244.42" y1="465.70" x2="244.42" y2="460.40" stroke="#1414e6" stroke-width="0.6"/>
<line x1="253.29" y1="465.70" x2="253.29" y2="460.78" stroke="#1414e6" stroke-width="0.6"/>
<line x1="260.74" y1="465.70" x2="260.74" y2="462.79" stroke="#1414e6" stroke-width="0.6"/>
<line x1="294.79" y1="465.70" x2="294.79" y2="464.28" stroke="#1414e6" stroke-width="0.6"/>
<line x1="272.50" y1="465.70" x2="272.50" y2="459.59" stroke="#1414e6" stroke-width="0.6"/>
<line x1="249.80" y1="465.70" x2="249.80" y2="464.88" stroke="#1414e6" stroke-width="0.6"/>
<line x1="291.85" y1="465.70" x2="291.85" y2="462.29" stroke="#1414e6" stroke-width="0.6"/>
<line x1="253.66" y1="465.70" x2="253.66" y2="464.70" stroke="#1414e6" stroke-width="0.6"/>
<line x1="282.06" y1="465.70" x2="282.06" y2="460.12" stroke="#1414e6" stroke-width="0.6"/>
<line x1="250.59" y1="465.70" x2="250.59" y2="455.57" stroke="#1414e6" stroke-width="0.6"/>
<line x1="290.33" y1="465.70" x2="290.33" y2="463.42" stroke="#1414e6" stroke-width="0.6"/>
<line x1="263.63" y1="465.70" x2="263.63" y2="465.28" stroke="#1414e6" stroke-width="0.6"/>
<line x1="241.44" y1="465.70" x2="241.44" y2="454.05" stroke="#1414e6" stroke-width="0.6"/>
<line x1="253.02" y1="465.70" x2="253.02" y2="459.46" stroke="#1414e6" stroke-width="0.6"/>
<line x1="254.09" y1="465.70" x2="254.09" y2="457.94" stroke="#1414e6" stroke-width="0.6"/>
<line x1="273.77" y1="465.70" x2="273.77" y2="464.45" stroke="#1414e6" stroke-width="0.6"/>
<line x1="249.37" y1="465.70" x2="249.37" y2="458.91" stroke="#1414e6" stroke-width="0.6"/>
<line x1="243.19" y1="465.70" x2="243.19" y2="464.24" stroke="#1414e6" stroke-width="0.6"/>
<line x1="271.62" y1="465.70" x2="271.62" y2="459.64" stroke="#1414e6" stroke-width="0.6"/>
<line x1="274.81" y1="465.70" x2="274.81" y2="464.55" stroke="#1414e6" stroke-width="0.6"/>
<line x1="292.37" y1="465.70" x2="292.37" y2="465.23" stroke="#1414e6" stroke-width="0.6"/>
<line x1="240.16" y1="465.70" x2="240.16" y2="463.82" stroke="#1414e6" stroke-width="0.6"/>
<line x1="265.03" y1="465.70" x2="265.03" y2="465.45" stroke="#1414e6" stroke-width="0.6"/>
<line x1="249.42" y1="465.70" x2="249.42" y2="463.13" stroke="#1414e6" stroke-width="0.6"/>
<line x1="272.36" y1="465.70" x2="272.36" y2="465.23" stroke="#1414e6" stroke-width="0.6"/>
<line x1="260.19" y1="465.70" x2="260.19" y2="457.75" stroke="#1414e6" stroke-width="0.6"/>
<line x1="296.03" y1="465.70" x2="296.03" y2="463.58" stroke="#1414e6" stroke-width="0.6"/>
<line x1="279.26" y1="465.70" x2="279.26" y2="462.77" stroke="#1414e6" stroke-width="0.6"/>
<line x1="247.33" y1="465.70" x2="247.33" y2="465.49" stroke="#1414e6" stroke-width="0.6"/>
<line x1="240.24" y1="465.70" x2="240.24" y2="454.83" stroke="#1414e6" stroke-width="0.6"/>
<line x1="279.83" y1="465.70" x2="279.83" y2="459.60" stroke="#1414e6" stroke-width="0.6"/>
<line x1="240.43" y1="465.70" x2="240.43" y2="459.36" stroke="#1414e6" stroke-width="0.6"/>
<line x1="267.15" y1="465.70" x2="267.15" y2="460.46" stroke="#1414e6" stroke-width="0.6"/>
<line x1="257.68" y1="465.70" x2="257.68" y2="455.85" stroke="#1414e6" stroke-width="0.6"/>
<line x1="243.56" y1="465.70" x2="243.56" y2="460.83" stroke="#1414e6" stroke-width="0.6"/>
<line x1="281.92" y1="465.70" x2="281.92" y2="460.46" stroke="#1414e6" stroke-width="0.6"/>
<line x1="281.92" y1="465.70" x2="281.92" y2="462.08" stroke="#1414e6" stroke-width="0.6"/>
<line x1="285.18" y1="465.70" x2="285.18" y2="460.77" stroke="#1414e6" stroke-width="0.6"/>
<line x1="259.59" y1="465.70" x2="259.59" y2="460.28" stroke="#1414e6" stroke-width="0.6"/>
<line x1="291.41" y1="465.70" x2="291.41" y2="461.90" stroke="#1414e6" stroke-width="0.6"/>
<line x1="263.38" y1="465.70" x2="263.38" y2="459.40" stroke="#1414e6" stroke-width="0.6"/>
<line x1="289.25" y1="465.70" x2="289.25" y2="463.52" stroke="#1414e6" stroke-width="0.6"/>
<line x1="275.42" y1="465.70" x2="275.42" y2="463.96" stroke="#1414e6" stroke-width="0.6"/>
<line x1="272.97" y1="465.70" x2="272.97" y2="462.13" stroke="#1414e6" stroke-width="0.6"/>
<line x1="243.85" y1="465.70" x2="243.85" y2="459.58" stroke="#1414e6" stroke-width="0.6"/>
<line x1="296.77" y1="465.70" x2="296.77" y2="462.52" stroke="#1414e6" stroke-width="0.6"/>
<line x1="281.41" y1="465.70" x2="281.41" y2="464.15" stroke="#1414e6" stroke-width="0.6"/>
<line x1="281.80" y1="465.70" x2="281.80" y2="462.97" stroke="#1414e6" stroke-width="0.6"/>
<line x1="264.73" y1="465.70" x2="264.73" y2="458.98" stroke="#1414e6" stroke-width="0.6"/>
<line x1="244.06" y1="465.70" x2="244.06" y2="457.96" stroke="#1414e6" stroke-width="0.6"/>
<line x1="240.93" y1="465.70" x2="240.93" y2="459.90" stroke="#1414e6" stroke-width="0.6"/>
<line x1="267.08" y1="465.70" x2="267.08" y2="464.67" stroke="#1414e6" stroke-width="0.6"/>
<line x1="279.68" y1="465.70" x2="279.68" y2="463.40" stroke="#1414e6" stroke-width="0.6"/>
<line x1="274.82" y1="465.70" x2="274.82" y2="459.32" stroke="#1414e6" stroke-width="0.6"/>
<line x1="254.03" y1="465.70" x2="254.03" y2="465.58" stroke="#1414e6" stroke-width="0.6"/>
<line x1="256.65" y1="465.70" x2="256.65" y2="460.11" stroke="#1414e6" stroke-width="0.6"/>
<line x1="250.94" y1="465.70" x2="250.94" y2="464.80" stroke="#1414e6" stroke-width="0.6"/>
<line x1="291.70" y1="465.70" x2="291.70" y2="463.21" stroke="#1414e6" stroke-width="0.6"/>
<line x1="264.81" y1="465.70" x2="264.81" y2="458.33" stroke="#1414e6" stroke-width="0.6"/>
<line x1="258.15" y1="465.70" x2="258.15" y2="460.39" stroke="#1414e6" stroke-width="0.6"/>
<line x1="250.71" y1="465.70" x2="250.71" y2="462.55" stroke="#1414e6" stroke-width="0.6"/>
<line x1="285.92" y1="465.70" x2="285.92" y2="460.87" stroke="#1414e6" stroke-width="0.6"/>
<line x1="240.96" y1="465.70" x2="240.96" y2="421.28" stroke="#1414e6" stroke-width="0.8"/>
<line x1="241.47" y1="465.70" x2="241.47" y2="444.55" stroke="#1414e6" stroke-width="0.8"/>
<line x1="250.31" y1="465.70" x2="250.31" y2="395.90" stroke="#1414e6" stroke-width="0.8"/>
<line x1="250.79" y1="465.70" x2="250.79" y2="446.66" stroke="#1414e6" stroke-width="0.8"/>
<line x1="254.65" y1="465.70" x2="254.65" y2="426.57" stroke="#1414e6" stroke-width="0.8"/>
<line x1="255.08" y1="465.70" x2="255.08" y2="455.12" stroke="#1414e6" stroke-width="0.8"/>
<line x1="259.61" y1="465.70" x2="259.61" y2="439.26" stroke="#1414e6" stroke-width="0.8"/>
<line x1="275.29" y1="465.70" x2="275.29" y2="438.20" stroke="#1414e6" stroke-width="0.8"/>
<line x1="287.89" y1="465.70" x2="287.89" y2="455.12" stroke="#1414e6" stroke-width="0.8"/>
<line x1="296.93" y1="465.70" x2="296.93" y2="459.35" stroke="#1414e6" stroke-width="0.8"/>
<line x1="313.87" y1="465.70" x2="313.87" y2="440.32" stroke="#1414e6" stroke-width="0.8"/>
<line x1="336.55" y1="465.70" x2="336.55" y2="463.58" stroke="#1414e6" stroke-width="0.8"/>
<line x1="269.94" y1="465.70" x2="269.94" y2="456.18" stroke="#1414e6" stroke-width="0.8"/>
<line x1="278.51" y1="465.70" x2="278.51" y2="458.30" stroke="#1414e6" stroke-width="0.8"/>
<line x1="282.04" y1="465.70" x2="282.04" y2="461.47" stroke="#1414e6" stroke-width="0.8"/>
<line x1="303.46" y1="465.70" x2="303.46" y2="463.58" stroke="#1414e6" stroke-width="0.8"/>
<line x1="319.84" y1="465.70" x2="319.84" y2="463.58" stroke="#1414e6" stroke-width="0.8"/>
<rect x="239.20" y="464.01" width="57.96" height="1.69" fill="#1414e6" opacity="0.8"/>
<text x="244.00" y="421.32" font-size="5.6" text-anchor="middle" fill="#222">207</text>
<text x="251.40" y="395.02" font-size="5.6" text-anchor="middle" fill="#222">244.1</text>
<text x="258.80" y="425.52" font-size="5.6" text-anchor="middle" fill="#222">261.3</text>
<text x="260.60" y="437.42" font-size="5.6" text-anchor="middle" fill="#222">281</text>
<text x="276.10" y="437.42" font-size="5.6" text-anchor="middle" fill="#222">343.2</text>
<text x="292.60" y="453.42" font-size="5.6" text-anchor="middle" fill="#222">393.2</text>
<text x="300.80" y="459.62" font-size="5.6" text-anchor="middle" fill="#222">429.1</text>
<text x="314.40" y="436.62" font-size="5.6" text-anchor="middle" fill="#222">496.3</text>
<text x="340.70" y="458.02" font-size="5.6" text-anchor="middle" fill="#222">586.3</text>
<line x1="289.00" y1="454.80" x2="287.90" y2="459.80" stroke="#444" stroke-width="0.5"/>
<line x1="339.60" y1="459.20" x2="338.80" y2="462.80" stroke="#444" stroke-width="0.5"/>
<text transform="translate(226.6,424.0) rotate(-90)" font-size="7.0" text-anchor="middle" fill="#222">Abundance</text>
<text x="302.60" y="486.18" font-size="6.9" text-anchor="middle" fill="#222">m/z (Da)</text>
<text x="331.90" y="418.22" font-size="8.1" text-anchor="middle" fill="#1414e6">M1</text>
<text x="331.90" y="427.02" font-size="8.1" text-anchor="middle" fill="#1414e6">(α-8-OH-DON)</text>
<line x1="393.90" y1="380.90" x2="393.90" y2="466.10" stroke="#333" stroke-width="0.8"/>
<line x1="393.50" y1="465.70" x2="522.50" y2="465.70" stroke="#333" stroke-width="0.8"/>
<line x1="391.60" y1="465.70" x2="393.90" y2="465.70" stroke="#333" stroke-width="0.7"/>
<text x="391.00" y="468.18" font-size="6.9" text-anchor="end" fill="#222">0</text>
<line x1="391.60" y1="444.55" x2="393.90" y2="444.55" stroke="#333" stroke-width="0.7"/>
<text x="391.00" y="447.03" font-size="6.9" text-anchor="end" fill="#222">1</text>
<line x1="391.60" y1="423.40" x2="393.90" y2="423.40" stroke="#333" stroke-width="0.7"/>
<text x="391.00" y="425.88" font-size="6.9" text-anchor="end" fill="#222">2</text>
<line x1="391.60" y1="402.25" x2="393.90" y2="402.25" stroke="#333" stroke-width="0.7"/>
<text x="391.00" y="404.73" font-size="6.9" text-anchor="end" fill="#222">3</text>
<line x1="391.60" y1="381.10" x2="393.90" y2="381.10" stroke="#333" stroke-width="0.7"/>
<text x="391.00" y="383.58" font-size="6.9" text-anchor="end" fill="#222">4</text>
<line x1="393.90" y1="465.70" x2="393.90" y2="468.00" stroke="#333" stroke-width="0.7"/>
<text x="393.90" y="478.08" font-size="6.9" text-anchor="middle" fill="#222">200</text>
<line x1="406.70" y1="465.70" x2="406.70" y2="467.00" stroke="#333" stroke-width="0.6"/>
<line x1="419.50" y1="465.70" x2="419.50" y2="468.00" stroke="#333" stroke-width="0.7"/>
<text x="419.50" y="478.08" font-size="6.9" text-anchor="middle" fill="#222">300</text>
<line x1="432.30" y1="465.70" x2="432.30" y2="467.00" stroke="#333" stroke-width="0.6"/>
<line x1="445.10" y1="465.70" x2="445.10" y2="468.00" stroke="#333" stroke-width="0.7"/>
<text x="445.10" y="478.08" font-size="6.9" text-anchor="middle" fill="#222">400</text>
<line x1="457.90" y1="465.70" x2="457.90" y2="467.00" stroke="#333" stroke-width="0.6"/>
<line x1="470.70" y1="465.70" x2="470.70" y2="468.00" stroke="#333" stroke-width="0.7"/>
<text x="470.70" y="478.08" font-size="6.9" text-anchor="middle" fill="#222">500</text>
<line x1="483.50" y1="465.70" x2="483.50" y2="467.00" stroke="#333" stroke-width="0.6"/>
<line x1="496.30" y1="465.70" x2="496.30" y2="468.00" stroke="#333" stroke-width="0.7"/>
<text x="496.30" y="478.08" font-size="6.9" text-anchor="middle" fill="#222">600</text>
<line x1="509.10" y1="465.70" x2="509.10" y2="467.00" stroke="#333" stroke-width="0.6"/>
<line x1="521.90" y1="465.70" x2="521.90" y2="468.00" stroke="#333" stroke-width="0.7"/>
<text x="521.90" y="478.08" font-size="6.9" text-anchor="middle" fill="#222">700</text>
<line x1="393.90" y1="380.50" x2="434.90" y2="380.50" stroke="#333" stroke-width="0.8"/>
<text x="395.40" y="378.68" font-size="6.9" text-anchor="start" fill="#222">EI-MS(×10<tspan font-size="4.3" dy="-2.4">4</tspan><tspan dy="2.4">)</tspan></text>
<line x1="425.69" y1="465.70" x2="425.69" y2="460.43" stroke="#22e0ee" stroke-width="0.6"/>
<line x1="438.46" y1="465.70" x2="438.46" y2="465.17" stroke="#22e0ee" stroke-width="0.6"/>
<line x1="394.82" y1="465.70" x2="394.82" y2="462.23" stroke="#22e0ee" stroke-width="0.6"/>
<line x1="412.34" y1="465.70" x2="412.34" y2="456.99" stroke="#22e0ee" stroke-width="0.6"/>
<line x1="440.07" y1="465.70" x2="440.07" y2="462.13" stroke="#22e0ee" stroke-width="0.6"/>
<line x1="431.25" y1="465.70" x2="431.25" y2="460.85" stroke="#22e0ee" stroke-width="0.6"/>
<line x1="403.77" y1="465.70" x2="403.77" y2="461.75" stroke="#22e0ee" stroke-width="0.6"/>
<line x1="404.90" y1="465.70" x2="404.90" y2="454.40" stroke="#22e0ee" stroke-width="0.6"/>
<line x1="398.02" y1="465.70" x2="398.02" y2="455.21" stroke="#22e0ee" stroke-width="0.6"/>
<line x1="399.07" y1="465.70" x2="399.07" y2="457.72" stroke="#22e0ee" stroke-width="0.6"/>
<line x1="416.53" y1="465.70" x2="416.53" y2="462.72" stroke="#22e0ee" stroke-width="0.6"/>
<line x1="450.17" y1="465.70" x2="450.17" y2="465.62" stroke="#22e0ee" stroke-width="0.6"/>
<line x1="398.15" y1="465.70" x2="398.15" y2="453.31" stroke="#22e0ee" stroke-width="0.6"/>
<line x1="427.97" y1="465.70" x2="427.97" y2="465.31" stroke="#22e0ee" stroke-width="0.6"/>
<line x1="459.80" y1="465.70" x2="459.80" y2="461.49" stroke="#22e0ee" stroke-width="0.6"/>
<line x1="401.59" y1="465.70" x2="401.59" y2="461.87" stroke="#22e0ee" stroke-width="0.6"/>
<line x1="403.09" y1="465.70" x2="403.09" y2="463.24" stroke="#22e0ee" stroke-width="0.6"/>
<line x1="435.46" y1="465.70" x2="435.46" y2="465.04" stroke="#22e0ee" stroke-width="0.6"/>
<line x1="440.48" y1="465.70" x2="440.48" y2="465.51" stroke="#22e0ee" stroke-width="0.6"/>
<line x1="405.50" y1="465.70" x2="405.50" y2="456.12" stroke="#22e0ee" stroke-width="0.6"/>
<line x1="420.76" y1="465.70" x2="420.76" y2="462.75" stroke="#22e0ee" stroke-width="0.6"/>
<line x1="433.77" y1="465.70" x2="433.77" y2="462.83" stroke="#22e0ee" stroke-width="0.6"/>
<line x1="419.70" y1="465.70" x2="419.70" y2="465.51" stroke="#22e0ee" stroke-width="0.6"/>
<line x1="442.44" y1="465.70" x2="442.44" y2="458.78" stroke="#22e0ee" stroke-width="0.6"/>
<line x1="459.08" y1="465.70" x2="459.08" y2="463.17" stroke="#22e0ee" stroke-width="0.6"/>
<line x1="417.82" y1="465.70" x2="417.82" y2="463.19" stroke="#22e0ee" stroke-width="0.6"/>
<line x1="440.03" y1="465.70" x2="440.03" y2="461.47" stroke="#22e0ee" stroke-width="0.6"/>
<line x1="401.68" y1="465.70" x2="401.68" y2="463.99" stroke="#22e0ee" stroke-width="0.6"/>
<line x1="418.28" y1="465.70" x2="418.28" y2="461.63" stroke="#22e0ee" stroke-width="0.6"/>
<line x1="448.02" y1="465.70" x2="448.02" y2="463.41" stroke="#22e0ee" stroke-width="0.6"/>
<line x1="395.97" y1="465.70" x2="395.97" y2="454.90" stroke="#22e0ee" stroke-width="0.6"/>
<line x1="422.73" y1="465.70" x2="422.73" y2="461.80" stroke="#22e0ee" stroke-width="0.6"/>
<line x1="408.89" y1="465.70" x2="408.89" y2="462.14" stroke="#22e0ee" stroke-width="0.6"/>
<line x1="419.94" y1="465.70" x2="419.94" y2="458.41" stroke="#22e0ee" stroke-width="0.6"/>
<line x1="400.93" y1="465.70" x2="400.93" y2="460.07" stroke="#22e0ee" stroke-width="0.6"/>
<line x1="405.95" y1="465.70" x2="405.95" y2="458.19" stroke="#22e0ee" stroke-width="0.6"/>
<line x1="396.55" y1="465.70" x2="396.55" y2="463.45" stroke="#22e0ee" stroke-width="0.6"/>
<line x1="417.01" y1="465.70" x2="417.01" y2="459.99" stroke="#22e0ee" stroke-width="0.6"/>
<line x1="397.57" y1="465.70" x2="397.57" y2="461.20" stroke="#22e0ee" stroke-width="0.6"/>
<line x1="408.00" y1="465.70" x2="408.00" y2="463.68" stroke="#22e0ee" stroke-width="0.6"/>
<line x1="425.80" y1="465.70" x2="425.80" y2="456.44" stroke="#22e0ee" stroke-width="0.6"/>
<line x1="426.12" y1="465.70" x2="426.12" y2="456.53" stroke="#22e0ee" stroke-width="0.6"/>
<line x1="405.25" y1="465.70" x2="405.25" y2="454.10" stroke="#22e0ee" stroke-width="0.6"/>
<line x1="418.34" y1="465.70" x2="418.34" y2="464.65" stroke="#22e0ee" stroke-width="0.6"/>
<line x1="443.92" y1="465.70" x2="443.92" y2="459.57" stroke="#22e0ee" stroke-width="0.6"/>
<line x1="394.54" y1="465.70" x2="394.54" y2="463.50" stroke="#22e0ee" stroke-width="0.6"/>
<line x1="445.40" y1="465.70" x2="445.40" y2="464.28" stroke="#22e0ee" stroke-width="0.6"/>
<line x1="410.18" y1="465.70" x2="410.18" y2="465.57" stroke="#22e0ee" stroke-width="0.6"/>
<line x1="396.76" y1="465.70" x2="396.76" y2="458.69" stroke="#22e0ee" stroke-width="0.6"/>
<line x1="459.58" y1="465.70" x2="459.58" y2="461.10" stroke="#22e0ee" stroke-width="0.6"/>
<line x1="427.62" y1="465.70" x2="427.62" y2="465.56" stroke="#22e0ee" stroke-width="0.6"/>
<line x1="415.56" y1="465.70" x2="415.56" y2="457.71" stroke="#22e0ee" stroke-width="0.6"/>
<line x1="449.47" y1="465.70" x2="449.47" y2="462.54" stroke="#22e0ee" stroke-width="0.6"/>
<line x1="409.38" y1="465.70" x2="409.38" y2="460.91" stroke="#22e0ee" stroke-width="0.6"/>
<line x1="425.87" y1="465.70" x2="425.87" y2="460.80" stroke="#22e0ee" stroke-width="0.6"/>
<line x1="411.58" y1="465.70" x2="411.58" y2="454.58" stroke="#22e0ee" stroke-width="0.6"/>
<line x1="453.63" y1="465.70" x2="453.63" y2="465.26" stroke="#22e0ee" stroke-width="0.6"/>
<line x1="413.49" y1="465.70" x2="413.49" y2="456.10" stroke="#22e0ee" stroke-width="0.6"/>
<line x1="412.62" y1="465.70" x2="412.62" y2="454.78" stroke="#22e0ee" stroke-width="0.6"/>
<line x1="428.39" y1="465.70" x2="428.39" y2="460.21" stroke="#22e0ee" stroke-width="0.6"/>
<line x1="441.00" y1="465.70" x2="441.00" y2="464.87" stroke="#22e0ee" stroke-width="0.6"/>
<line x1="413.07" y1="465.70" x2="413.07" y2="464.04" stroke="#22e0ee" stroke-width="0.6"/>
<line x1="439.58" y1="465.70" x2="439.58" y2="461.24" stroke="#22e0ee" stroke-width="0.6"/>
<line x1="402.87" y1="465.70" x2="402.87" y2="454.50" stroke="#22e0ee" stroke-width="0.6"/>
<line x1="422.08" y1="465.70" x2="422.08" y2="464.34" stroke="#22e0ee" stroke-width="0.6"/>
<line x1="423.07" y1="465.70" x2="423.07" y2="455.73" stroke="#22e0ee" stroke-width="0.6"/>
<line x1="431.37" y1="465.70" x2="431.37" y2="461.25" stroke="#22e0ee" stroke-width="0.6"/>
<line x1="455.33" y1="465.70" x2="455.33" y2="460.73" stroke="#22e0ee" stroke-width="0.6"/>
<line x1="444.71" y1="465.70" x2="444.71" y2="463.79" stroke="#22e0ee" stroke-width="0.6"/>
<line x1="433.27" y1="465.70" x2="433.27" y2="458.27" stroke="#22e0ee" stroke-width="0.6"/>
<line x1="446.63" y1="465.70" x2="446.63" y2="462.76" stroke="#22e0ee" stroke-width="0.6"/>
<line x1="417.23" y1="465.70" x2="417.23" y2="463.11" stroke="#22e0ee" stroke-width="0.6"/>
<line x1="443.08" y1="465.70" x2="443.08" y2="462.65" stroke="#22e0ee" stroke-width="0.6"/>
<line x1="395.24" y1="465.70" x2="395.24" y2="456.96" stroke="#22e0ee" stroke-width="0.6"/>
<line x1="454.26" y1="465.70" x2="454.26" y2="461.83" stroke="#22e0ee" stroke-width="0.6"/>
<line x1="453.84" y1="465.70" x2="453.84" y2="460.93" stroke="#22e0ee" stroke-width="0.6"/>
<line x1="429.71" y1="465.70" x2="429.71" y2="459.22" stroke="#22e0ee" stroke-width="0.6"/>
<line x1="419.36" y1="465.70" x2="419.36" y2="465.21" stroke="#22e0ee" stroke-width="0.6"/>
<line x1="417.61" y1="465.70" x2="417.61" y2="463.66" stroke="#22e0ee" stroke-width="0.6"/>
<line x1="456.27" y1="465.70" x2="456.27" y2="462.77" stroke="#22e0ee" stroke-width="0.6"/>
<line x1="430.15" y1="465.70" x2="430.15" y2="461.19" stroke="#22e0ee" stroke-width="0.6"/>
<line x1="402.40" y1="465.70" x2="402.40" y2="460.39" stroke="#22e0ee" stroke-width="0.6"/>
<line x1="440.73" y1="465.70" x2="440.73" y2="463.79" stroke="#22e0ee" stroke-width="0.6"/>
<line x1="410.46" y1="465.70" x2="410.46" y2="462.45" stroke="#22e0ee" stroke-width="0.6"/>
<line x1="415.64" y1="465.70" x2="415.64" y2="459.21" stroke="#22e0ee" stroke-width="0.6"/>
<line x1="403.54" y1="465.70" x2="403.54" y2="465.15" stroke="#22e0ee" stroke-width="0.6"/>
<line x1="414.90" y1="465.70" x2="414.90" y2="459.00" stroke="#22e0ee" stroke-width="0.6"/>
<line x1="444.66" y1="465.70" x2="444.66" y2="461.99" stroke="#22e0ee" stroke-width="0.6"/>
<line x1="456.31" y1="465.70" x2="456.31" y2="464.53" stroke="#22e0ee" stroke-width="0.6"/>
<line x1="396.08" y1="465.70" x2="396.08" y2="460.71" stroke="#22e0ee" stroke-width="0.6"/>
<line x1="423.63" y1="465.70" x2="423.63" y2="464.79" stroke="#22e0ee" stroke-width="0.6"/>
<line x1="438.52" y1="465.70" x2="438.52" y2="464.06" stroke="#22e0ee" stroke-width="0.6"/>
<line x1="409.96" y1="465.70" x2="409.96" y2="463.28" stroke="#22e0ee" stroke-width="0.6"/>
<line x1="456.92" y1="465.70" x2="456.92" y2="465.65" stroke="#22e0ee" stroke-width="0.6"/>
<line x1="418.08" y1="465.70" x2="418.08" y2="463.95" stroke="#22e0ee" stroke-width="0.6"/>
<line x1="407.50" y1="465.70" x2="407.50" y2="462.02" stroke="#22e0ee" stroke-width="0.6"/>
<line x1="408.77" y1="465.70" x2="408.77" y2="454.69" stroke="#22e0ee" stroke-width="0.6"/>
<line x1="427.45" y1="465.70" x2="427.45" y2="460.10" stroke="#22e0ee" stroke-width="0.6"/>
<line x1="404.91" y1="465.70" x2="404.91" y2="461.49" stroke="#22e0ee" stroke-width="0.6"/>
<line x1="434.47" y1="465.70" x2="434.47" y2="459.12" stroke="#22e0ee" stroke-width="0.6"/>
<line x1="410.73" y1="465.70" x2="410.73" y2="461.84" stroke="#22e0ee" stroke-width="0.6"/>
<line x1="451.00" y1="465.70" x2="451.00" y2="461.20" stroke="#22e0ee" stroke-width="0.6"/>
<line x1="409.24" y1="465.70" x2="409.24" y2="460.76" stroke="#22e0ee" stroke-width="0.6"/>
<line x1="444.77" y1="465.70" x2="444.77" y2="463.94" stroke="#22e0ee" stroke-width="0.6"/>
<line x1="438.92" y1="465.70" x2="438.92" y2="461.48" stroke="#22e0ee" stroke-width="0.6"/>
<line x1="458.83" y1="465.70" x2="458.83" y2="463.74" stroke="#22e0ee" stroke-width="0.6"/>
<line x1="439.41" y1="465.70" x2="439.41" y2="464.03" stroke="#22e0ee" stroke-width="0.6"/>
<line x1="442.84" y1="465.70" x2="442.84" y2="464.32" stroke="#22e0ee" stroke-width="0.6"/>
<line x1="427.37" y1="465.70" x2="427.37" y2="463.54" stroke="#22e0ee" stroke-width="0.6"/>
<line x1="414.55" y1="465.70" x2="414.55" y2="464.96" stroke="#22e0ee" stroke-width="0.6"/>
<line x1="395.89" y1="465.70" x2="395.89" y2="423.40" stroke="#22e0ee" stroke-width="0.8"/>
<line x1="396.40" y1="465.70" x2="396.40" y2="450.89" stroke="#22e0ee" stroke-width="0.8"/>
<line x1="414.84" y1="465.70" x2="414.84" y2="444.55" stroke="#22e0ee" stroke-width="0.8"/>
<line x1="430.53" y1="465.70" x2="430.53" y2="389.56" stroke="#22e0ee" stroke-width="0.8"/>
<line x1="443.56" y1="465.70" x2="443.56" y2="401.19" stroke="#22e0ee" stroke-width="0.8"/>
<line x1="452.78" y1="465.70" x2="452.78" y2="455.12" stroke="#22e0ee" stroke-width="0.8"/>
<line x1="453.49" y1="465.70" x2="453.49" y2="458.30" stroke="#22e0ee" stroke-width="0.8"/>
<line x1="469.95" y1="465.70" x2="469.95" y2="459.35" stroke="#22e0ee" stroke-width="0.8"/>
<line x1="492.97" y1="465.70" x2="492.97" y2="464.64" stroke="#22e0ee" stroke-width="0.8"/>
<rect x="394.10" y="464.01" width="66.56" height="1.69" fill="#22e0ee" opacity="0.8"/>
<text x="399.80" y="423.72" font-size="5.6" text-anchor="middle" fill="#222">207</text>
<text x="414.40" y="441.72" font-size="5.6" text-anchor="middle" fill="#222">281</text>
<text x="430.40" y="386.82" font-size="5.6" text-anchor="middle" fill="#222">342.3</text>
<text x="444.00" y="400.82" font-size="5.6" text-anchor="middle" fill="#222">393.2</text>
<text x="458.50" y="455.22" font-size="5.6" text-anchor="middle" fill="#222">429.2</text>
<text x="472.30" y="458.32" font-size="5.6" text-anchor="middle" fill="#222">496.3</text>
<text x="496.90" y="458.32" font-size="5.6" text-anchor="middle" fill="#222">586.2</text>
<text transform="translate(381.9,424.0) rotate(-90)" font-size="7.0" text-anchor="middle" fill="#222">Abundance</text>
<text x="453.80" y="486.48" font-size="6.9" text-anchor="middle" fill="#222">m/z (Da)</text>
<text x="480.60" y="418.32" font-size="8.1" text-anchor="middle" fill="#22e0ee">M2</text>
<text x="480.60" y="426.82" font-size="8.1" text-anchor="middle" fill="#22e0ee">(β-8-OH-DON)</text>
<line x1="550.00" y1="380.55" x2="550.00" y2="466.40" stroke="#333" stroke-width="0.8"/>
<line x1="549.60" y1="466.00" x2="677.30" y2="466.00" stroke="#333" stroke-width="0.8"/>
<line x1="547.70" y1="466.00" x2="550.00" y2="466.00" stroke="#333" stroke-width="0.7"/>
<text x="547.10" y="468.48" font-size="6.9" text-anchor="end" fill="#222">0</text>
<line x1="547.70" y1="448.95" x2="550.00" y2="448.95" stroke="#333" stroke-width="0.7"/>
<text x="547.10" y="451.43" font-size="6.9" text-anchor="end" fill="#222">0.5</text>
<line x1="547.70" y1="431.90" x2="550.00" y2="431.90" stroke="#333" stroke-width="0.7"/>
<text x="547.10" y="434.38" font-size="6.9" text-anchor="end" fill="#222">1</text>
<line x1="547.70" y1="414.85" x2="550.00" y2="414.85" stroke="#333" stroke-width="0.7"/>
<text x="547.10" y="417.33" font-size="6.9" text-anchor="end" fill="#222">1.5</text>
<line x1="547.70" y1="397.80" x2="550.00" y2="397.80" stroke="#333" stroke-width="0.7"/>
<text x="547.10" y="400.28" font-size="6.9" text-anchor="end" fill="#222">2</text>
<line x1="547.70" y1="380.75" x2="550.00" y2="380.75" stroke="#333" stroke-width="0.7"/>
<text x="547.10" y="383.23" font-size="6.9" text-anchor="end" fill="#222">2.5</text>
<line x1="550.00" y1="466.00" x2="550.00" y2="468.30" stroke="#333" stroke-width="0.7"/>
<text x="550.00" y="478.08" font-size="6.9" text-anchor="middle" fill="#222">200</text>
<line x1="562.73" y1="466.00" x2="562.73" y2="467.30" stroke="#333" stroke-width="0.6"/>
<line x1="575.45" y1="466.00" x2="575.45" y2="468.30" stroke="#333" stroke-width="0.7"/>
<text x="575.45" y="478.08" font-size="6.9" text-anchor="middle" fill="#222">300</text>
<line x1="588.18" y1="466.00" x2="588.18" y2="467.30" stroke="#333" stroke-width="0.6"/>
<line x1="600.90" y1="466.00" x2="600.90" y2="468.30" stroke="#333" stroke-width="0.7"/>
<text x="600.90" y="478.08" font-size="6.9" text-anchor="middle" fill="#222">400</text>
<line x1="613.62" y1="466.00" x2="613.62" y2="467.30" stroke="#333" stroke-width="0.6"/>
<line x1="626.35" y1="466.00" x2="626.35" y2="468.30" stroke="#333" stroke-width="0.7"/>
<text x="626.35" y="478.08" font-size="6.9" text-anchor="middle" fill="#222">500</text>
<line x1="639.08" y1="466.00" x2="639.08" y2="467.30" stroke="#333" stroke-width="0.6"/>
<line x1="651.80" y1="466.00" x2="651.80" y2="468.30" stroke="#333" stroke-width="0.7"/>
<text x="651.80" y="478.08" font-size="6.9" text-anchor="middle" fill="#222">600</text>
<line x1="664.52" y1="466.00" x2="664.52" y2="467.30" stroke="#333" stroke-width="0.6"/>
<line x1="677.25" y1="466.00" x2="677.25" y2="468.30" stroke="#333" stroke-width="0.7"/>
<text x="677.25" y="478.08" font-size="6.9" text-anchor="middle" fill="#222">700</text>
<line x1="550.00" y1="380.30" x2="590.50" y2="380.30" stroke="#333" stroke-width="0.8"/>
<text x="551.20" y="379.38" font-size="6.9" text-anchor="start" fill="#222">EI-MS(×10<tspan font-size="4.3" dy="-2.4">4</tspan><tspan dy="2.4">)</tspan></text>
<line x1="566.02" y1="466.00" x2="566.02" y2="453.35" stroke="#f5a40a" stroke-width="0.6"/>
<line x1="591.98" y1="466.00" x2="591.98" y2="454.90" stroke="#f5a40a" stroke-width="0.6"/>
<line x1="561.54" y1="466.00" x2="561.54" y2="463.10" stroke="#f5a40a" stroke-width="0.6"/>
<line x1="559.19" y1="466.00" x2="559.19" y2="463.10" stroke="#f5a40a" stroke-width="0.6"/>
<line x1="595.03" y1="466.00" x2="595.03" y2="465.19" stroke="#f5a40a" stroke-width="0.6"/>
<line x1="582.65" y1="466.00" x2="582.65" y2="464.10" stroke="#f5a40a" stroke-width="0.6"/>
<line x1="568.20" y1="466.00" x2="568.20" y2="459.75" stroke="#f5a40a" stroke-width="0.6"/>
<line x1="601.36" y1="466.00" x2="601.36" y2="460.64" stroke="#f5a40a" stroke-width="0.6"/>
<line x1="551.08" y1="466.00" x2="551.08" y2="461.81" stroke="#f5a40a" stroke-width="0.6"/>
<line x1="559.16" y1="466.00" x2="559.16" y2="446.13" stroke="#f5a40a" stroke-width="0.6"/>
<line x1="599.66" y1="466.00" x2="599.66" y2="457.47" stroke="#f5a40a" stroke-width="0.6"/>
<line x1="600.67" y1="466.00" x2="600.67" y2="458.63" stroke="#f5a40a" stroke-width="0.6"/>
<line x1="608.18" y1="466.00" x2="608.18" y2="459.54" stroke="#f5a40a" stroke-width="0.6"/>
<line x1="565.88" y1="466.00" x2="565.88" y2="448.50" stroke="#f5a40a" stroke-width="0.6"/>
<line x1="579.93" y1="466.00" x2="579.93" y2="454.23" stroke="#f5a40a" stroke-width="0.6"/>
<line x1="584.66" y1="466.00" x2="584.66" y2="461.27" stroke="#f5a40a" stroke-width="0.6"/>
<line x1="572.45" y1="466.00" x2="572.45" y2="460.17" stroke="#f5a40a" stroke-width="0.6"/>
<line x1="569.36" y1="466.00" x2="569.36" y2="464.85" stroke="#f5a40a" stroke-width="0.6"/>
<line x1="600.26" y1="466.00" x2="600.26" y2="457.73" stroke="#f5a40a" stroke-width="0.6"/>
<line x1="610.41" y1="466.00" x2="610.41" y2="461.15" stroke="#f5a40a" stroke-width="0.6"/>
<line x1="584.05" y1="466.00" x2="584.05" y2="455.21" stroke="#f5a40a" stroke-width="0.6"/>
<line x1="558.44" y1="466.00" x2="558.44" y2="452.26" stroke="#f5a40a" stroke-width="0.6"/>
<line x1="577.28" y1="466.00" x2="577.28" y2="464.36" stroke="#f5a40a" stroke-width="0.6"/>
<line x1="562.58" y1="466.00" x2="562.58" y2="457.10" stroke="#f5a40a" stroke-width="0.6"/>
<line x1="565.67" y1="466.00" x2="565.67" y2="458.91" stroke="#f5a40a" stroke-width="0.6"/>
<line x1="587.18" y1="466.00" x2="587.18" y2="461.99" stroke="#f5a40a" stroke-width="0.6"/>
<line x1="558.19" y1="466.00" x2="558.19" y2="457.39" stroke="#f5a40a" stroke-width="0.6"/>
<line x1="564.58" y1="466.00" x2="564.58" y2="463.13" stroke="#f5a40a" stroke-width="0.6"/>
<line x1="562.08" y1="466.00" x2="562.08" y2="460.60" stroke="#f5a40a" stroke-width="0.6"/>
<line x1="554.68" y1="466.00" x2="554.68" y2="452.41" stroke="#f5a40a" stroke-width="0.6"/>
<line x1="608.45" y1="466.00" x2="608.45" y2="463.73" stroke="#f5a40a" stroke-width="0.6"/>
<line x1="594.11" y1="466.00" x2="594.11" y2="453.80" stroke="#f5a40a" stroke-width="0.6"/>
<line x1="552.84" y1="466.00" x2="552.84" y2="464.23" stroke="#f5a40a" stroke-width="0.6"/>
<line x1="599.44" y1="466.00" x2="599.44" y2="456.90" stroke="#f5a40a" stroke-width="0.6"/>
<line x1="589.23" y1="466.00" x2="589.23" y2="464.84" stroke="#f5a40a" stroke-width="0.6"/>
<line x1="575.46" y1="466.00" x2="575.46" y2="450.35" stroke="#f5a40a" stroke-width="0.6"/>
<line x1="604.33" y1="466.00" x2="604.33" y2="458.56" stroke="#f5a40a" stroke-width="0.6"/>
<line x1="562.60" y1="466.00" x2="562.60" y2="447.58" stroke="#f5a40a" stroke-width="0.6"/>
<line x1="573.09" y1="466.00" x2="573.09" y2="453.82" stroke="#f5a40a" stroke-width="0.6"/>
<line x1="558.57" y1="466.00" x2="558.57" y2="442.40" stroke="#f5a40a" stroke-width="0.6"/>
<line x1="587.06" y1="466.00" x2="587.06" y2="456.34" stroke="#f5a40a" stroke-width="0.6"/>
<line x1="563.13" y1="466.00" x2="563.13" y2="454.72" stroke="#f5a40a" stroke-width="0.6"/>
<line x1="585.68" y1="466.00" x2="585.68" y2="458.63" stroke="#f5a40a" stroke-width="0.6"/>
<line x1="572.15" y1="466.00" x2="572.15" y2="453.35" stroke="#f5a40a" stroke-width="0.6"/>
<line x1="571.05" y1="466.00" x2="571.05" y2="462.47" stroke="#f5a40a" stroke-width="0.6"/>
<line x1="560.25" y1="466.00" x2="560.25" y2="452.36" stroke="#f5a40a" stroke-width="0.6"/>
<line x1="557.06" y1="466.00" x2="557.06" y2="463.01" stroke="#f5a40a" stroke-width="0.6"/>
<line x1="554.42" y1="466.00" x2="554.42" y2="452.60" stroke="#f5a40a" stroke-width="0.6"/>
<line x1="584.17" y1="466.00" x2="584.17" y2="459.30" stroke="#f5a40a" stroke-width="0.6"/>
<line x1="552.57" y1="466.00" x2="552.57" y2="458.14" stroke="#f5a40a" stroke-width="0.6"/>
<line x1="571.15" y1="466.00" x2="571.15" y2="465.13" stroke="#f5a40a" stroke-width="0.6"/>
<line x1="550.38" y1="466.00" x2="550.38" y2="438.86" stroke="#f5a40a" stroke-width="0.6"/>
<line x1="557.62" y1="466.00" x2="557.62" y2="461.63" stroke="#f5a40a" stroke-width="0.6"/>
<line x1="566.63" y1="466.00" x2="566.63" y2="455.76" stroke="#f5a40a" stroke-width="0.6"/>
<line x1="554.93" y1="466.00" x2="554.93" y2="457.59" stroke="#f5a40a" stroke-width="0.6"/>
<line x1="572.60" y1="466.00" x2="572.60" y2="450.58" stroke="#f5a40a" stroke-width="0.6"/>
<line x1="550.55" y1="466.00" x2="550.55" y2="460.51" stroke="#f5a40a" stroke-width="0.6"/>
<line x1="580.53" y1="466.00" x2="580.53" y2="449.01" stroke="#f5a40a" stroke-width="0.6"/>
<line x1="581.76" y1="466.00" x2="581.76" y2="460.25" stroke="#f5a40a" stroke-width="0.6"/>
<line x1="591.09" y1="466.00" x2="591.09" y2="463.52" stroke="#f5a40a" stroke-width="0.6"/>
<line x1="552.14" y1="466.00" x2="552.14" y2="456.45" stroke="#f5a40a" stroke-width="0.6"/>
<line x1="605.81" y1="466.00" x2="605.81" y2="459.74" stroke="#f5a40a" stroke-width="0.6"/>
<line x1="565.98" y1="466.00" x2="565.98" y2="453.38" stroke="#f5a40a" stroke-width="0.6"/>
<line x1="602.06" y1="466.00" x2="602.06" y2="464.43" stroke="#f5a40a" stroke-width="0.6"/>
<line x1="586.12" y1="466.00" x2="586.12" y2="462.47" stroke="#f5a40a" stroke-width="0.6"/>
<line x1="565.12" y1="466.00" x2="565.12" y2="462.29" stroke="#f5a40a" stroke-width="0.6"/>
<line x1="562.65" y1="466.00" x2="562.65" y2="460.96" stroke="#f5a40a" stroke-width="0.6"/>
<line x1="552.53" y1="466.00" x2="552.53" y2="459.18" stroke="#f5a40a" stroke-width="0.6"/>
<line x1="555.50" y1="466.00" x2="555.50" y2="449.13" stroke="#f5a40a" stroke-width="0.6"/>
<line x1="586.84" y1="466.00" x2="586.84" y2="465.85" stroke="#f5a40a" stroke-width="0.6"/>
<line x1="597.47" y1="466.00" x2="597.47" y2="464.80" stroke="#f5a40a" stroke-width="0.6"/>
<line x1="579.56" y1="466.00" x2="579.56" y2="458.49" stroke="#f5a40a" stroke-width="0.6"/>
<line x1="570.53" y1="466.00" x2="570.53" y2="462.54" stroke="#f5a40a" stroke-width="0.6"/>
<line x1="576.77" y1="466.00" x2="576.77" y2="464.78" stroke="#f5a40a" stroke-width="0.6"/>
<line x1="602.95" y1="466.00" x2="602.95" y2="465.45" stroke="#f5a40a" stroke-width="0.6"/>
<line x1="600.50" y1="466.00" x2="600.50" y2="464.68" stroke="#f5a40a" stroke-width="0.6"/>
<line x1="568.73" y1="466.00" x2="568.73" y2="460.66" stroke="#f5a40a" stroke-width="0.6"/>
<line x1="552.24" y1="466.00" x2="552.24" y2="464.41" stroke="#f5a40a" stroke-width="0.6"/>
<line x1="572.25" y1="466.00" x2="572.25" y2="459.91" stroke="#f5a40a" stroke-width="0.6"/>
<line x1="603.73" y1="466.00" x2="603.73" y2="455.62" stroke="#f5a40a" stroke-width="0.6"/>
<line x1="552.86" y1="466.00" x2="552.86" y2="455.59" stroke="#f5a40a" stroke-width="0.6"/>
<line x1="558.10" y1="466.00" x2="558.10" y2="448.17" stroke="#f5a40a" stroke-width="0.6"/>
<line x1="569.91" y1="466.00" x2="569.91" y2="448.21" stroke="#f5a40a" stroke-width="0.6"/>
<line x1="583.51" y1="466.00" x2="583.51" y2="465.02" stroke="#f5a40a" stroke-width="0.6"/>
<line x1="550.50" y1="466.00" x2="550.50" y2="462.34" stroke="#f5a40a" stroke-width="0.6"/>
<line x1="603.22" y1="466.00" x2="603.22" y2="465.23" stroke="#f5a40a" stroke-width="0.6"/>
<line x1="579.45" y1="466.00" x2="579.45" y2="461.76" stroke="#f5a40a" stroke-width="0.6"/>
<line x1="571.27" y1="466.00" x2="571.27" y2="451.18" stroke="#f5a40a" stroke-width="0.6"/>
<line x1="563.26" y1="466.00" x2="563.26" y2="451.90" stroke="#f5a40a" stroke-width="0.6"/>
<line x1="590.92" y1="466.00" x2="590.92" y2="452.85" stroke="#f5a40a" stroke-width="0.6"/>
<line x1="581.96" y1="466.00" x2="581.96" y2="450.70" stroke="#f5a40a" stroke-width="0.6"/>
<line x1="577.11" y1="466.00" x2="577.11" y2="457.79" stroke="#f5a40a" stroke-width="0.6"/>
<line x1="588.11" y1="466.00" x2="588.11" y2="454.16" stroke="#f5a40a" stroke-width="0.6"/>
<line x1="605.02" y1="466.00" x2="605.02" y2="465.46" stroke="#f5a40a" stroke-width="0.6"/>
<line x1="558.58" y1="466.00" x2="558.58" y2="456.33" stroke="#f5a40a" stroke-width="0.6"/>
<line x1="599.82" y1="466.00" x2="599.82" y2="461.39" stroke="#f5a40a" stroke-width="0.6"/>
<line x1="568.49" y1="466.00" x2="568.49" y2="445.68" stroke="#f5a40a" stroke-width="0.6"/>
<line x1="568.39" y1="466.00" x2="568.39" y2="465.15" stroke="#f5a40a" stroke-width="0.6"/>
<line x1="553.38" y1="466.00" x2="553.38" y2="465.55" stroke="#f5a40a" stroke-width="0.6"/>
<line x1="594.60" y1="466.00" x2="594.60" y2="465.34" stroke="#f5a40a" stroke-width="0.6"/>
<line x1="593.94" y1="466.00" x2="593.94" y2="455.05" stroke="#f5a40a" stroke-width="0.6"/>
<line x1="611.26" y1="466.00" x2="611.26" y2="460.05" stroke="#f5a40a" stroke-width="0.6"/>
<line x1="576.12" y1="466.00" x2="576.12" y2="456.59" stroke="#f5a40a" stroke-width="0.6"/>
<line x1="601.09" y1="466.00" x2="601.09" y2="459.12" stroke="#f5a40a" stroke-width="0.6"/>
<line x1="567.94" y1="466.00" x2="567.94" y2="451.58" stroke="#f5a40a" stroke-width="0.6"/>
<line x1="556.88" y1="466.00" x2="556.88" y2="461.45" stroke="#f5a40a" stroke-width="0.6"/>
<line x1="611.04" y1="466.00" x2="611.04" y2="463.30" stroke="#f5a40a" stroke-width="0.6"/>
<line x1="566.55" y1="466.00" x2="566.55" y2="450.63" stroke="#f5a40a" stroke-width="0.6"/>
<line x1="577.70" y1="466.00" x2="577.70" y2="465.83" stroke="#f5a40a" stroke-width="0.6"/>
<line x1="551.99" y1="466.00" x2="551.99" y2="462.19" stroke="#f5a40a" stroke-width="0.6"/>
<line x1="570.48" y1="466.00" x2="570.48" y2="447.02" stroke="#f5a40a" stroke-width="0.6"/>
<line x1="565.31" y1="466.00" x2="565.31" y2="448.36" stroke="#f5a40a" stroke-width="0.6"/>
<line x1="602.33" y1="466.00" x2="602.33" y2="462.99" stroke="#f5a40a" stroke-width="0.6"/>
<line x1="610.87" y1="466.00" x2="610.87" y2="460.49" stroke="#f5a40a" stroke-width="0.6"/>
<line x1="579.77" y1="466.00" x2="579.77" y2="463.40" stroke="#f5a40a" stroke-width="0.6"/>
<line x1="578.36" y1="466.00" x2="578.36" y2="450.20" stroke="#f5a40a" stroke-width="0.6"/>
<line x1="582.98" y1="466.00" x2="582.98" y2="464.33" stroke="#f5a40a" stroke-width="0.6"/>
<line x1="573.14" y1="466.00" x2="573.14" y2="459.32" stroke="#f5a40a" stroke-width="0.6"/>
<line x1="561.85" y1="466.00" x2="561.85" y2="455.72" stroke="#f5a40a" stroke-width="0.6"/>
<line x1="552.29" y1="466.00" x2="552.29" y2="446.23" stroke="#f5a40a" stroke-width="0.6"/>
<line x1="561.12" y1="466.00" x2="561.12" y2="464.88" stroke="#f5a40a" stroke-width="0.6"/>
<line x1="586.17" y1="466.00" x2="586.17" y2="463.12" stroke="#f5a40a" stroke-width="0.6"/>
<line x1="604.27" y1="466.00" x2="604.27" y2="462.33" stroke="#f5a40a" stroke-width="0.6"/>
<line x1="582.05" y1="466.00" x2="582.05" y2="452.82" stroke="#f5a40a" stroke-width="0.6"/>
<line x1="563.29" y1="466.00" x2="563.29" y2="451.11" stroke="#f5a40a" stroke-width="0.6"/>
<line x1="589.84" y1="466.00" x2="589.84" y2="461.75" stroke="#f5a40a" stroke-width="0.6"/>
<line x1="608.80" y1="466.00" x2="608.80" y2="465.87" stroke="#f5a40a" stroke-width="0.6"/>
<line x1="602.87" y1="466.00" x2="602.87" y2="465.27" stroke="#f5a40a" stroke-width="0.6"/>
<line x1="601.49" y1="466.00" x2="601.49" y2="465.17" stroke="#f5a40a" stroke-width="0.6"/>
<line x1="553.47" y1="466.00" x2="553.47" y2="456.62" stroke="#f5a40a" stroke-width="0.6"/>
<line x1="551.98" y1="466.00" x2="551.98" y2="388.25" stroke="#f5a40a" stroke-width="0.8"/>
<line x1="552.49" y1="466.00" x2="552.49" y2="425.08" stroke="#f5a40a" stroke-width="0.8"/>
<line x1="554.02" y1="466.00" x2="554.02" y2="435.31" stroke="#f5a40a" stroke-width="0.8"/>
<line x1="567.30" y1="466.00" x2="567.30" y2="437.01" stroke="#f5a40a" stroke-width="0.8"/>
<line x1="570.84" y1="466.00" x2="570.84" y2="422.69" stroke="#f5a40a" stroke-width="0.8"/>
<line x1="571.32" y1="466.00" x2="571.32" y2="445.54" stroke="#f5a40a" stroke-width="0.8"/>
<line x1="579.29" y1="466.00" x2="579.29" y2="438.72" stroke="#f5a40a" stroke-width="0.8"/>
<line x1="586.34" y1="466.00" x2="586.34" y2="442.13" stroke="#f5a40a" stroke-width="0.8"/>
<line x1="590.49" y1="466.00" x2="590.49" y2="442.13" stroke="#f5a40a" stroke-width="0.8"/>
<line x1="599.37" y1="466.00" x2="599.37" y2="409.74" stroke="#f5a40a" stroke-width="0.8"/>
<line x1="608.51" y1="466.00" x2="608.51" y2="460.88" stroke="#f5a40a" stroke-width="0.8"/>
<line x1="625.58" y1="466.00" x2="625.58" y2="448.95" stroke="#f5a40a" stroke-width="0.8"/>
<line x1="630.16" y1="466.00" x2="630.16" y2="460.88" stroke="#f5a40a" stroke-width="0.8"/>
<line x1="648.51" y1="466.00" x2="648.51" y2="464.98" stroke="#f5a40a" stroke-width="0.8"/>
<rect x="550.20" y="463.27" width="61.08" height="2.73" fill="#f5a40a" opacity="0.8"/>
<text x="555.20" y="386.62" font-size="5.6" text-anchor="middle" fill="#222">207</text>
<text x="569.60" y="419.82" font-size="5.6" text-anchor="middle" fill="#222">281.1</text>
<text x="564.40" y="436.82" font-size="5.6" text-anchor="middle" fill="#222">267.2</text>
<text x="582.50" y="433.72" font-size="5.6" text-anchor="middle" fill="#222">314.3</text>
<text x="595.20" y="439.82" font-size="5.6" text-anchor="middle" fill="#222">358.3</text>
<text x="600.40" y="407.52" font-size="5.6" text-anchor="middle" fill="#222">393.2</text>
<text x="614.20" y="458.32" font-size="5.6" text-anchor="middle" fill="#222">429.1</text>
<text x="625.00" y="449.12" font-size="5.6" text-anchor="middle" fill="#222">496.2</text>
<text x="637.30" y="459.02" font-size="5.6" text-anchor="middle" fill="#222">514.2</text>
<text x="653.60" y="459.02" font-size="5.6" text-anchor="middle" fill="#222">586.3</text>
<text transform="translate(534.6,424.0) rotate(-90)" font-size="7.0" text-anchor="middle" fill="#222">Abundance</text>
<text x="614.20" y="486.48" font-size="6.9" text-anchor="middle" fill="#222">m/z (Da)</text>
<text x="641.90" y="418.32" font-size="8.1" text-anchor="middle" fill="#f5a40a">M3</text>
<text x="641.90" y="426.62" font-size="8.1" text-anchor="middle" fill="#f5a40a">(8-OH-3-epi-DON)</text>
<g transform="translate(291.60,359.05) scale(0.13140)" stroke="#4a4a4a" stroke-width="5.3" fill="none" stroke-linejoin="round"><polygon points="135,145 195,105 255,140 255,215 195,250 130,215"/><polyline points="255,140 320,100 380,140 385,210 330,250 255,215"/><line x1="150" y1="152" x2="195" y2="123"/><polyline points="385,145 480,145 480,250 330,250"/><line x1="135" y1="145" x2="100" y2="118"/><line x1="255" y1="90" x2="255" y2="140"/><line x1="255" y1="215" x2="255" y2="350" stroke-dasharray="8 5"/><line x1="195" y1="250" x2="195" y2="290"/><line x1="480" y1="250" x2="540" y2="250" stroke-dasharray="8 5"/><line x1="480" y1="145" x2="540" y2="145" stroke-dasharray="8 5"/><line x1="345" y1="175" x2="395" y2="200"/><line x1="395" y1="200" x2="385" y2="215"/></g><g transform="translate(291.60,359.05) scale(0.13140)" fill="#4a4a4a" font-size="40" font-family="Liberation Sans, sans-serif"><polygon points="320,300 340,300 330,250"/><polygon points="345,175 395,200 380,215"/><polygon points="472,325 488,325 480,250"/><text x="40" y="125">H3C</text><text x="175" y="320">HO</text><text x="240" y="386">OH</text><text x="245" y="82">H</text><text x="290" y="335">CH2</text><text x="545" y="263">H</text><text x="470" y="355">H</text><text x="312" y="95">O</text><polygon points="472,70 488,70 480,145"/><text x="470" y="62">H</text><text x="550" y="158">OH</text></g><g transform="translate(291.60,359.05) scale(0.13140)" fill="#1414e6" font-size="40" font-family="Liberation Sans, sans-serif"><polygon points="130,215 80,205 80,225"/><text x="40" y="228">H</text><line x1="130" y1="215" x2="130" y2="265" stroke="#1414e6" stroke-width="5" stroke-dasharray="8 5"/><text x="100" y="300">HO</text></g>
<g transform="translate(441.60,358.40) scale(0.13140)" stroke="#4a4a4a" stroke-width="5.3" fill="none" stroke-linejoin="round"><polygon points="135,145 195,105 255,140 255,215 195,250 130,215"/><polyline points="255,140 320,100 380,140 385,210 330,250 255,215"/><line x1="150" y1="152" x2="195" y2="123"/><polyline points="385,145 480,145 480,250 330,250"/><line x1="135" y1="145" x2="100" y2="118"/><line x1="255" y1="90" x2="255" y2="140"/><line x1="255" y1="215" x2="255" y2="350" stroke-dasharray="8 5"/><line x1="195" y1="250" x2="195" y2="290"/><line x1="480" y1="250" x2="540" y2="250" stroke-dasharray="8 5"/><line x1="480" y1="145" x2="540" y2="145" stroke-dasharray="8 5"/><line x1="345" y1="175" x2="395" y2="200"/><line x1="395" y1="200" x2="385" y2="215"/></g><g transform="translate(441.60,358.40) scale(0.13140)" fill="#4a4a4a" font-size="40" font-family="Liberation Sans, sans-serif"><polygon points="320,300 340,300 330,250"/><polygon points="345,175 395,200 380,215"/><polygon points="472,325 488,325 480,250"/><text x="40" y="125">H3C</text><text x="175" y="320">HO</text><text x="240" y="386">OH</text><text x="245" y="82">H</text><text x="290" y="335">CH2</text><text x="545" y="263">H</text><text x="470" y="355">H</text><text x="312" y="95">O</text><polygon points="472,70 488,70 480,145"/><text x="470" y="62">H</text><text x="550" y="158">OH</text></g><g transform="translate(441.60,358.40) scale(0.13140)" fill="#22d8ee" font-size="40" font-family="Liberation Sans, sans-serif"><polygon points="130,215 80,205 80,225"/><text x="40" y="228">HO</text><line x1="130" y1="215" x2="130" y2="265" stroke="#22d8ee" stroke-width="5" stroke-dasharray="8 5"/><text x="110" y="300">H</text></g>
<g transform="translate(601.60,359.05) scale(0.13140)" stroke="#4a4a4a" stroke-width="5.3" fill="none" stroke-linejoin="round"><polygon points="135,145 195,105 255,140 255,215 195,250 130,215"/><polyline points="255,140 320,100 380,140 385,210 330,250 255,215"/><line x1="150" y1="152" x2="195" y2="123"/><polyline points="385,145 480,145 480,250 330,250"/><line x1="135" y1="145" x2="100" y2="118"/><line x1="255" y1="90" x2="255" y2="140"/><line x1="255" y1="215" x2="255" y2="350" stroke-dasharray="8 5"/><line x1="195" y1="250" x2="195" y2="290"/><line x1="480" y1="250" x2="540" y2="250" stroke-dasharray="8 5"/><line x1="345" y1="175" x2="395" y2="200"/><line x1="395" y1="200" x2="385" y2="215"/></g><g transform="translate(601.60,359.05) scale(0.13140)" fill="#4a4a4a" font-size="40" font-family="Liberation Sans, sans-serif"><polygon points="320,300 340,300 330,250"/><polygon points="345,175 395,200 380,215"/><polygon points="472,325 488,325 480,250"/><text x="40" y="125">H3C</text><text x="175" y="320">HO</text><text x="240" y="386">OH</text><text x="245" y="82">H</text><text x="290" y="335">CH2</text><text x="545" y="263">H</text><text x="470" y="355">H</text><text x="312" y="95">O</text><polygon points="472,70 488,70 480,145"/><text x="470" y="62">H</text></g><g transform="translate(601.60,359.05) scale(0.13140)" fill="#e8a020" font-size="40" font-family="Liberation Sans, sans-serif"><polygon points="472,145 488,145 482,70" fill="#20c040"/><text x="462" y="62" fill="#20c040">OH</text><line x1="480" y1="145" x2="540" y2="145" stroke="#20c040" stroke-width="5" stroke-dasharray="8 5"/><text x="545" y="160" fill="#20c040">H</text><polygon points="130,215 80,205 80,225"/><text x="40" y="228">H</text><line x1="130" y1="215" x2="130" y2="265" stroke="#e8a020" stroke-width="5" stroke-dasharray="8 5"/><text x="100" y="300">HO</text></g>
</svg>
</body></html>
